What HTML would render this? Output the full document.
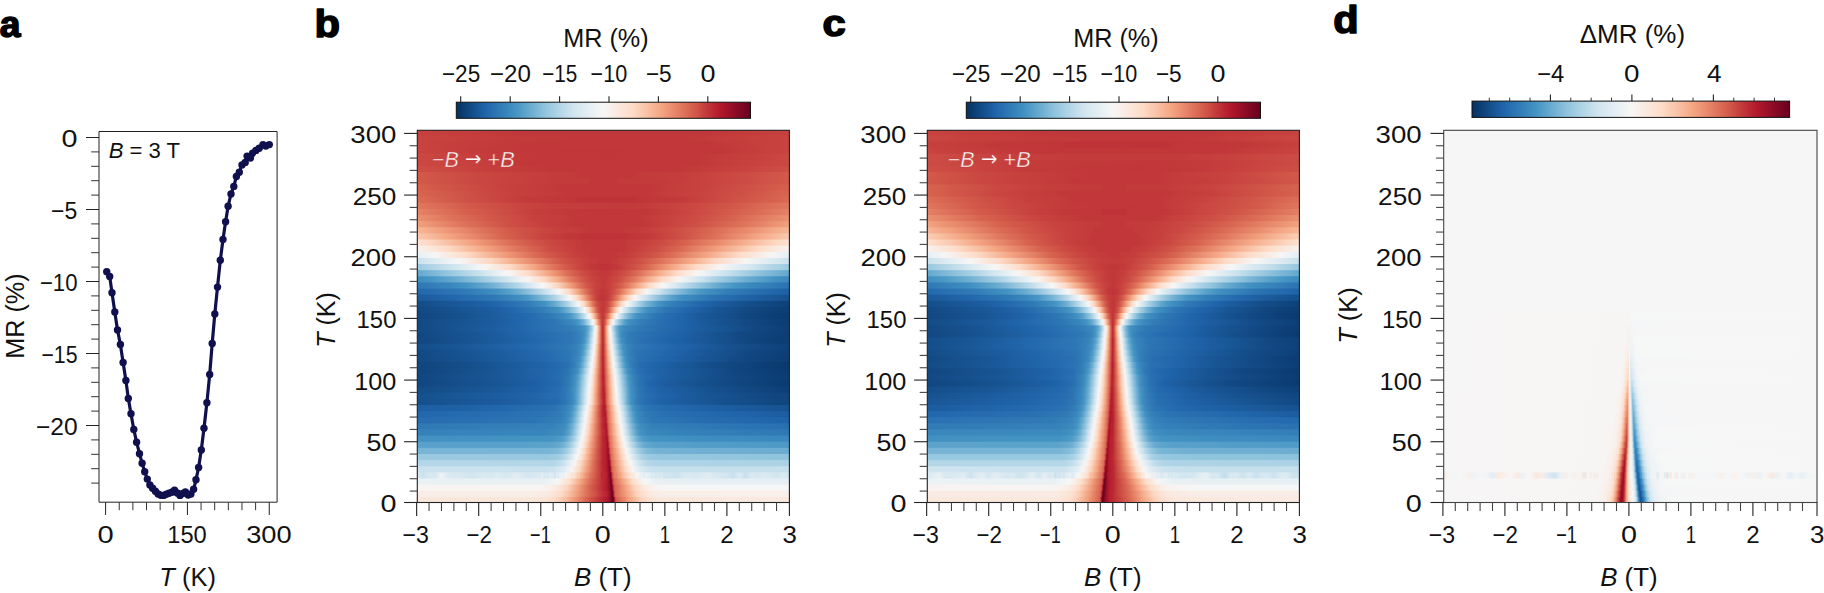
<!DOCTYPE html>
<html lang="en"><head><meta charset="utf-8"><title>Figure</title>
<style>html,body{margin:0;padding:0;background:#fff}svg text{white-space:pre}</style></head>
<body>
<svg width="1824" height="593" viewBox="0 0 1824 593" font-family='"Liberation Sans", sans-serif' style="display:block">
<rect width="1824" height="593" fill="#fff"/>
<defs><linearGradient id="cb"><stop offset="0" stop-color="#053061"/><stop offset="0.02" stop-color="#0a3b70"/><stop offset="0.04" stop-color="#10457e"/><stop offset="0.06" stop-color="#15508d"/><stop offset="0.08" stop-color="#1b5a9c"/><stop offset="0.1" stop-color="#2065ab"/><stop offset="0.12" stop-color="#276eb0"/><stop offset="0.14" stop-color="#2e77b5"/><stop offset="0.16" stop-color="#3480b9"/><stop offset="0.18" stop-color="#3c8abe"/><stop offset="0.2" stop-color="#4393c3"/><stop offset="0.22" stop-color="#529dc8"/><stop offset="0.24" stop-color="#62a7ce"/><stop offset="0.26" stop-color="#71b0d3"/><stop offset="0.28" stop-color="#81bad8"/><stop offset="0.3" stop-color="#90c4dd"/><stop offset="0.32" stop-color="#9dcbe1"/><stop offset="0.34" stop-color="#acd2e5"/><stop offset="0.36" stop-color="#b8d8e9"/><stop offset="0.38" stop-color="#c5dfec"/><stop offset="0.4" stop-color="#d1e5f0"/><stop offset="0.42" stop-color="#d8e9f1"/><stop offset="0.44" stop-color="#e0ecf3"/><stop offset="0.46" stop-color="#e7f0f4"/><stop offset="0.48" stop-color="#eff3f5"/><stop offset="0.5" stop-color="#f7f6f6"/><stop offset="0.52" stop-color="#f8f1ed"/><stop offset="0.54" stop-color="#f9ebe3"/><stop offset="0.56" stop-color="#fbe6da"/><stop offset="0.58" stop-color="#fce0d0"/><stop offset="0.6" stop-color="#fddbc7"/><stop offset="0.62" stop-color="#fbd0b9"/><stop offset="0.64" stop-color="#f9c6ac"/><stop offset="0.66" stop-color="#f8bb9e"/><stop offset="0.68" stop-color="#f6af8e"/><stop offset="0.7" stop-color="#f3a481"/><stop offset="0.72" stop-color="#ee9677"/><stop offset="0.74" stop-color="#e8896c"/><stop offset="0.76" stop-color="#e27b62"/><stop offset="0.78" stop-color="#dc6e57"/><stop offset="0.8" stop-color="#d6604d"/><stop offset="0.82" stop-color="#cf5246"/><stop offset="0.84" stop-color="#c6413e"/><stop offset="0.86" stop-color="#bf3338"/><stop offset="0.88" stop-color="#b82531"/><stop offset="0.9" stop-color="#b1182b"/><stop offset="0.92" stop-color="#a21328"/><stop offset="0.94" stop-color="#930e26"/><stop offset="0.96" stop-color="#840924"/><stop offset="0.98" stop-color="#760521"/><stop offset="1" stop-color="#67001f"/></linearGradient><linearGradient id="b0" gradientUnits="userSpaceOnUse" x1="416.65" x2="788.95"><stop offset="0.0000" stop-color="#fae7dc"/><stop offset="0.3167" stop-color="#fae7dc"/><stop offset="0.3500" stop-color="#fbe3d4"/><stop offset="0.3708" stop-color="#fddcc9"/><stop offset="0.3958" stop-color="#f9c4a9"/><stop offset="0.4208" stop-color="#f19e7d"/><stop offset="0.4483" stop-color="#dd7059"/><stop offset="0.4633" stop-color="#d25849"/><stop offset="0.4933" stop-color="#be3036"/><stop offset="0.5042" stop-color="#b72230"/><stop offset="0.5133" stop-color="#ae172a"/><stop offset="0.5183" stop-color="#991027"/><stop offset="0.5233" stop-color="#790622"/><stop offset="0.5250" stop-color="#6a011f"/><stop offset="0.5283" stop-color="#67001f"/><stop offset="0.5292" stop-color="#730421"/><stop offset="0.5317" stop-color="#b61f2e"/><stop offset="0.5333" stop-color="#c84440"/><stop offset="0.5350" stop-color="#d05548"/><stop offset="0.5375" stop-color="#d7634f"/><stop offset="0.5400" stop-color="#d86551"/><stop offset="0.5450" stop-color="#dd7059"/><stop offset="0.5600" stop-color="#e98b6e"/><stop offset="0.5708" stop-color="#f3a481"/><stop offset="0.6042" stop-color="#fcd5bf"/><stop offset="0.6208" stop-color="#fce0d0"/><stop offset="0.6500" stop-color="#fae7dc"/><stop offset="0.8500" stop-color="#fae9df"/><stop offset="1.0000" stop-color="#fae9df"/></linearGradient><linearGradient id="b1" gradientUnits="userSpaceOnUse" x1="416.65" x2="788.95"><stop offset="0.0000" stop-color="#f9eee7"/><stop offset="0.3167" stop-color="#f9eee7"/><stop offset="0.3583" stop-color="#fae8de"/><stop offset="0.3875" stop-color="#fddcc9"/><stop offset="0.4083" stop-color="#f9c2a7"/><stop offset="0.4292" stop-color="#f2a17f"/><stop offset="0.4533" stop-color="#df765e"/><stop offset="0.4650" stop-color="#d86551"/><stop offset="0.4850" stop-color="#cb4942"/><stop offset="0.5017" stop-color="#bd2d35"/><stop offset="0.5100" stop-color="#b82531"/><stop offset="0.5133" stop-color="#b41c2d"/><stop offset="0.5183" stop-color="#9f1228"/><stop offset="0.5233" stop-color="#790622"/><stop offset="0.5250" stop-color="#67001f"/><stop offset="0.5267" stop-color="#730421"/><stop offset="0.5292" stop-color="#b41c2d"/><stop offset="0.5317" stop-color="#cf5246"/><stop offset="0.5333" stop-color="#d7634f"/><stop offset="0.5350" stop-color="#db6b55"/><stop offset="0.5533" stop-color="#ea8e70"/><stop offset="0.5667" stop-color="#f5a886"/><stop offset="0.5875" stop-color="#fbccb4"/><stop offset="0.6000" stop-color="#fddcc9"/><stop offset="0.6250" stop-color="#fae9df"/><stop offset="0.6583" stop-color="#f9efe9"/><stop offset="1.0000" stop-color="#f9f0eb"/></linearGradient><linearGradient id="b2" gradientUnits="userSpaceOnUse" x1="416.65" x2="788.95"><stop offset="0.0000" stop-color="#f8f4f2"/><stop offset="0.3375" stop-color="#f8f4f2"/><stop offset="0.3667" stop-color="#f9eee7"/><stop offset="0.3917" stop-color="#fce0d0"/><stop offset="0.4042" stop-color="#fcd5bf"/><stop offset="0.4350" stop-color="#f19e7d"/><stop offset="0.4567" stop-color="#de735c"/><stop offset="0.4700" stop-color="#d35a4a"/><stop offset="0.4950" stop-color="#bf3338"/><stop offset="0.5017" stop-color="#b82531"/><stop offset="0.5067" stop-color="#b72230"/><stop offset="0.5125" stop-color="#ae172a"/><stop offset="0.5167" stop-color="#9c1127"/><stop offset="0.5208" stop-color="#7f0823"/><stop offset="0.5233" stop-color="#67001f"/><stop offset="0.5250" stop-color="#760521"/><stop offset="0.5267" stop-color="#9f1228"/><stop offset="0.5283" stop-color="#be3036"/><stop offset="0.5300" stop-color="#ce4f45"/><stop offset="0.5317" stop-color="#d55d4c"/><stop offset="0.5350" stop-color="#db6b55"/><stop offset="0.5500" stop-color="#e8896c"/><stop offset="0.5633" stop-color="#f5a886"/><stop offset="0.5875" stop-color="#fcd7c2"/><stop offset="0.6083" stop-color="#fae8de"/><stop offset="0.6333" stop-color="#f8f2ef"/><stop offset="0.6667" stop-color="#f7f6f6"/><stop offset="1.0000" stop-color="#f7f6f6"/></linearGradient><linearGradient id="b3" gradientUnits="userSpaceOnUse" x1="416.65" x2="788.95"><stop offset="0.0000" stop-color="#eaf1f5"/><stop offset="0.3417" stop-color="#e9f0f4"/><stop offset="0.3708" stop-color="#f3f5f6"/><stop offset="0.3792" stop-color="#f7f6f6"/><stop offset="0.4125" stop-color="#fddcc9"/><stop offset="0.4400" stop-color="#f4a683"/><stop offset="0.4583" stop-color="#e27b62"/><stop offset="0.4750" stop-color="#d35a4a"/><stop offset="0.4875" stop-color="#c84440"/><stop offset="0.4983" stop-color="#bd2d35"/><stop offset="0.5017" stop-color="#ba2832"/><stop offset="0.5100" stop-color="#b41c2d"/><stop offset="0.5133" stop-color="#ab162a"/><stop offset="0.5183" stop-color="#8d0c25"/><stop offset="0.5217" stop-color="#700320"/><stop offset="0.5233" stop-color="#810823"/><stop offset="0.5250" stop-color="#ab162a"/><stop offset="0.5267" stop-color="#c2383a"/><stop offset="0.5283" stop-color="#d05548"/><stop offset="0.5300" stop-color="#d86551"/><stop offset="0.5350" stop-color="#df765e"/><stop offset="0.5417" stop-color="#e58368"/><stop offset="0.5550" stop-color="#f4a683"/><stop offset="0.5792" stop-color="#fddbc7"/><stop offset="0.5958" stop-color="#f9ebe3"/><stop offset="0.6125" stop-color="#f6f7f7"/><stop offset="0.6417" stop-color="#e9f0f4"/><stop offset="0.7667" stop-color="#e6eff4"/><stop offset="1.0000" stop-color="#e6eff4"/></linearGradient><linearGradient id="b4" gradientUnits="userSpaceOnUse" x1="416.65" x2="788.95"><stop offset="0.0000" stop-color="#d8e9f1"/><stop offset="0.0167" stop-color="#cae1ee"/><stop offset="0.0333" stop-color="#d8e9f1"/><stop offset="0.0500" stop-color="#d4e6f1"/><stop offset="0.0667" stop-color="#eff3f5"/><stop offset="0.0833" stop-color="#dbeaf2"/><stop offset="0.1500" stop-color="#d2e6f0"/><stop offset="0.1833" stop-color="#dbeaf2"/><stop offset="0.2000" stop-color="#d7e8f1"/><stop offset="0.2167" stop-color="#deebf2"/><stop offset="0.2333" stop-color="#d7e8f1"/><stop offset="0.2500" stop-color="#d8e9f1"/><stop offset="0.2667" stop-color="#e1edf3"/><stop offset="0.3000" stop-color="#d4e6f1"/><stop offset="0.3333" stop-color="#dbeaf2"/><stop offset="0.3375" stop-color="#e4eef4"/><stop offset="0.3417" stop-color="#d7e8f1"/><stop offset="0.3458" stop-color="#d7e8f1"/><stop offset="0.3500" stop-color="#e0ecf3"/><stop offset="0.3500" stop-color="#d2e6f0"/><stop offset="0.3583" stop-color="#e0ecf3"/><stop offset="0.3667" stop-color="#ddebf2"/><stop offset="0.3667" stop-color="#e1edf3"/><stop offset="0.3708" stop-color="#cae1ee"/><stop offset="0.3750" stop-color="#e6eff4"/><stop offset="0.3792" stop-color="#dbeaf2"/><stop offset="0.3833" stop-color="#dae9f2"/><stop offset="0.3833" stop-color="#e6eff4"/><stop offset="0.3875" stop-color="#ecf2f5"/><stop offset="0.3958" stop-color="#e9f0f4"/><stop offset="0.4000" stop-color="#f3f5f6"/><stop offset="0.4042" stop-color="#f9efe9"/><stop offset="0.4125" stop-color="#f9ebe3"/><stop offset="0.4167" stop-color="#fbe3d4"/><stop offset="0.4208" stop-color="#fbe4d6"/><stop offset="0.4250" stop-color="#fcdfcf"/><stop offset="0.4333" stop-color="#facab1"/><stop offset="0.4333" stop-color="#fbccb4"/><stop offset="0.4367" stop-color="#f9c4a9"/><stop offset="0.4375" stop-color="#fac8af"/><stop offset="0.4383" stop-color="#f8bda1"/><stop offset="0.4417" stop-color="#f8bb9e"/><stop offset="0.4417" stop-color="#f7b799"/><stop offset="0.4433" stop-color="#f7b799"/><stop offset="0.4450" stop-color="#f6af8e"/><stop offset="0.4458" stop-color="#f6b394"/><stop offset="0.4483" stop-color="#f4a683"/><stop offset="0.4500" stop-color="#f19e7d"/><stop offset="0.4500" stop-color="#f5aa89"/><stop offset="0.4500" stop-color="#f4a683"/><stop offset="0.4517" stop-color="#f19e7d"/><stop offset="0.4533" stop-color="#f09c7b"/><stop offset="0.4542" stop-color="#eb9172"/><stop offset="0.4550" stop-color="#ef9979"/><stop offset="0.4567" stop-color="#ea8e70"/><stop offset="0.4583" stop-color="#eb9172"/><stop offset="0.4600" stop-color="#e58368"/><stop offset="0.4633" stop-color="#e6866a"/><stop offset="0.4650" stop-color="#df765e"/><stop offset="0.4700" stop-color="#dd7059"/><stop offset="0.4717" stop-color="#dc6e57"/><stop offset="0.4733" stop-color="#d7634f"/><stop offset="0.4750" stop-color="#da6853"/><stop offset="0.4750" stop-color="#d86551"/><stop offset="0.4792" stop-color="#d25849"/><stop offset="0.4800" stop-color="#d55d4c"/><stop offset="0.4817" stop-color="#d35a4a"/><stop offset="0.4833" stop-color="#ce4f45"/><stop offset="0.4833" stop-color="#cc4c44"/><stop offset="0.4883" stop-color="#c94741"/><stop offset="0.4900" stop-color="#c53e3d"/><stop offset="0.4917" stop-color="#c6413e"/><stop offset="0.4917" stop-color="#c53e3d"/><stop offset="0.4958" stop-color="#bf3338"/><stop offset="0.4967" stop-color="#ba2832"/><stop offset="0.4983" stop-color="#ba2832"/><stop offset="0.5000" stop-color="#b72230"/><stop offset="0.5017" stop-color="#bd2d35"/><stop offset="0.5042" stop-color="#ba2832"/><stop offset="0.5050" stop-color="#b72230"/><stop offset="0.5067" stop-color="#bb2a34"/><stop offset="0.5083" stop-color="#b41c2d"/><stop offset="0.5100" stop-color="#b61f2e"/><stop offset="0.5125" stop-color="#b1182b"/><stop offset="0.5133" stop-color="#a81529"/><stop offset="0.5150" stop-color="#9f1228"/><stop offset="0.5167" stop-color="#8d0c25"/><stop offset="0.5167" stop-color="#960f27"/><stop offset="0.5200" stop-color="#790622"/><stop offset="0.5208" stop-color="#790622"/><stop offset="0.5233" stop-color="#ae172a"/><stop offset="0.5250" stop-color="#c84440"/><stop offset="0.5250" stop-color="#c6413e"/><stop offset="0.5267" stop-color="#d6604d"/><stop offset="0.5283" stop-color="#d86551"/><stop offset="0.5300" stop-color="#de735c"/><stop offset="0.5317" stop-color="#e27b62"/><stop offset="0.5333" stop-color="#e27b62"/><stop offset="0.5333" stop-color="#e48066"/><stop offset="0.5350" stop-color="#e6866a"/><stop offset="0.5375" stop-color="#e48066"/><stop offset="0.5383" stop-color="#e98b6e"/><stop offset="0.5433" stop-color="#f19e7d"/><stop offset="0.5458" stop-color="#f19e7d"/><stop offset="0.5467" stop-color="#f3a481"/><stop offset="0.5500" stop-color="#f5ac8b"/><stop offset="0.5517" stop-color="#f7b596"/><stop offset="0.5542" stop-color="#f7b799"/><stop offset="0.5583" stop-color="#f9c4a9"/><stop offset="0.5600" stop-color="#f9c4a9"/><stop offset="0.5625" stop-color="#fbceb7"/><stop offset="0.5667" stop-color="#fcd5bf"/><stop offset="0.5667" stop-color="#fdddcb"/><stop offset="0.5667" stop-color="#fcd7c2"/><stop offset="0.5708" stop-color="#fce0d0"/><stop offset="0.5875" stop-color="#f9efe9"/><stop offset="0.5917" stop-color="#f6f7f7"/><stop offset="0.5958" stop-color="#f8f4f2"/><stop offset="0.6000" stop-color="#eaf1f5"/><stop offset="0.6083" stop-color="#e9f0f4"/><stop offset="0.6125" stop-color="#deebf2"/><stop offset="0.6167" stop-color="#edf2f5"/><stop offset="0.6208" stop-color="#e3edf3"/><stop offset="0.6250" stop-color="#e9f0f4"/><stop offset="0.6292" stop-color="#dae9f2"/><stop offset="0.6333" stop-color="#d7e8f1"/><stop offset="0.6333" stop-color="#dae9f2"/><stop offset="0.6375" stop-color="#ddebf2"/><stop offset="0.6417" stop-color="#d4e6f1"/><stop offset="0.6458" stop-color="#dae9f2"/><stop offset="0.6500" stop-color="#d7e8f1"/><stop offset="0.6500" stop-color="#e1edf3"/><stop offset="0.6542" stop-color="#d2e6f0"/><stop offset="0.6583" stop-color="#ddebf2"/><stop offset="0.6625" stop-color="#d1e5f0"/><stop offset="0.6833" stop-color="#d1e5f0"/><stop offset="0.7000" stop-color="#cce2ef"/><stop offset="0.7167" stop-color="#d7e8f1"/><stop offset="0.7333" stop-color="#dbeaf2"/><stop offset="0.7500" stop-color="#d7e8f1"/><stop offset="0.7833" stop-color="#e0ecf3"/><stop offset="0.8000" stop-color="#d7e8f1"/><stop offset="0.8333" stop-color="#d4e6f1"/><stop offset="0.8500" stop-color="#c7e0ed"/><stop offset="0.8667" stop-color="#dae9f2"/><stop offset="0.8833" stop-color="#c7e0ed"/><stop offset="0.9000" stop-color="#dae9f2"/><stop offset="0.9167" stop-color="#d5e7f1"/><stop offset="0.9333" stop-color="#ddebf2"/><stop offset="0.9667" stop-color="#d1e5f0"/><stop offset="0.9833" stop-color="#d8e9f1"/><stop offset="1.0000" stop-color="#d2e6f0"/></linearGradient><linearGradient id="b5" gradientUnits="userSpaceOnUse" x1="416.65" x2="788.95"><stop offset="0.0000" stop-color="#cce2ef"/><stop offset="0.2333" stop-color="#cae1ee"/><stop offset="0.3333" stop-color="#c7e0ed"/><stop offset="0.3667" stop-color="#cce2ef"/><stop offset="0.3958" stop-color="#deebf2"/><stop offset="0.4167" stop-color="#f7f5f4"/><stop offset="0.4375" stop-color="#fcd7c2"/><stop offset="0.4450" stop-color="#f9c2a7"/><stop offset="0.4483" stop-color="#f7b799"/><stop offset="0.4583" stop-color="#f09c7b"/><stop offset="0.4700" stop-color="#e17860"/><stop offset="0.4800" stop-color="#d55d4c"/><stop offset="0.5017" stop-color="#b82531"/><stop offset="0.5067" stop-color="#b72230"/><stop offset="0.5117" stop-color="#ae172a"/><stop offset="0.5167" stop-color="#900d26"/><stop offset="0.5183" stop-color="#810823"/><stop offset="0.5200" stop-color="#930e26"/><stop offset="0.5217" stop-color="#b61f2e"/><stop offset="0.5233" stop-color="#c84440"/><stop offset="0.5250" stop-color="#d6604d"/><stop offset="0.5267" stop-color="#dc6e57"/><stop offset="0.5367" stop-color="#eb9172"/><stop offset="0.5458" stop-color="#f6af8e"/><stop offset="0.5617" stop-color="#fddcc9"/><stop offset="0.5792" stop-color="#f7f5f4"/><stop offset="0.6000" stop-color="#dbeaf2"/><stop offset="0.6250" stop-color="#cae1ee"/><stop offset="0.6667" stop-color="#c5dfec"/><stop offset="1.0000" stop-color="#c5dfec"/></linearGradient><linearGradient id="b6" gradientUnits="userSpaceOnUse" x1="416.65" x2="788.95"><stop offset="0.0000" stop-color="#b3d6e8"/><stop offset="0.3667" stop-color="#b3d6e8"/><stop offset="0.3875" stop-color="#c2ddec"/><stop offset="0.4167" stop-color="#ecf2f5"/><stop offset="0.4250" stop-color="#f8f4f2"/><stop offset="0.4417" stop-color="#fcd7c2"/><stop offset="0.4450" stop-color="#fbceb7"/><stop offset="0.4500" stop-color="#f8bda1"/><stop offset="0.4583" stop-color="#f4a683"/><stop offset="0.4733" stop-color="#de735c"/><stop offset="0.4850" stop-color="#cf5246"/><stop offset="0.4967" stop-color="#be3036"/><stop offset="0.5000" stop-color="#b82531"/><stop offset="0.5050" stop-color="#b72230"/><stop offset="0.5100" stop-color="#b1182b"/><stop offset="0.5133" stop-color="#a21328"/><stop offset="0.5167" stop-color="#8a0b25"/><stop offset="0.5183" stop-color="#960f27"/><stop offset="0.5200" stop-color="#b61f2e"/><stop offset="0.5217" stop-color="#c84440"/><stop offset="0.5233" stop-color="#d55d4c"/><stop offset="0.5250" stop-color="#dc6e57"/><stop offset="0.5333" stop-color="#ea8e70"/><stop offset="0.5400" stop-color="#f3a481"/><stop offset="0.5583" stop-color="#fdddcb"/><stop offset="0.5708" stop-color="#f8f2ef"/><stop offset="0.5750" stop-color="#f6f7f7"/><stop offset="0.5917" stop-color="#d8e9f1"/><stop offset="0.6167" stop-color="#b8d8e9"/><stop offset="0.6500" stop-color="#aed3e6"/><stop offset="1.0000" stop-color="#acd2e5"/></linearGradient><linearGradient id="b7" gradientUnits="userSpaceOnUse" x1="416.65" x2="788.95"><stop offset="0.0000" stop-color="#9bc9e0"/><stop offset="0.3542" stop-color="#98c8e0"/><stop offset="0.3792" stop-color="#a0cce2"/><stop offset="0.3958" stop-color="#b1d5e7"/><stop offset="0.4292" stop-color="#f5f6f7"/><stop offset="0.4350" stop-color="#f9efe9"/><stop offset="0.4467" stop-color="#fdd9c4"/><stop offset="0.4617" stop-color="#f4a683"/><stop offset="0.4800" stop-color="#d86551"/><stop offset="0.4850" stop-color="#d25849"/><stop offset="0.4983" stop-color="#bd2d35"/><stop offset="0.5000" stop-color="#b82531"/><stop offset="0.5042" stop-color="#b82531"/><stop offset="0.5100" stop-color="#b1182b"/><stop offset="0.5133" stop-color="#9f1228"/><stop offset="0.5150" stop-color="#930e26"/><stop offset="0.5167" stop-color="#9c1127"/><stop offset="0.5183" stop-color="#b72230"/><stop offset="0.5208" stop-color="#cf5246"/><stop offset="0.5217" stop-color="#d6604d"/><stop offset="0.5250" stop-color="#e17860"/><stop offset="0.5383" stop-color="#f5a886"/><stop offset="0.5500" stop-color="#fbd0b9"/><stop offset="0.5550" stop-color="#fcdecd"/><stop offset="0.5667" stop-color="#f8f4f2"/><stop offset="0.5708" stop-color="#f2f5f6"/><stop offset="0.6000" stop-color="#b3d6e8"/><stop offset="0.6083" stop-color="#a7d0e4"/><stop offset="0.6250" stop-color="#9bc9e0"/><stop offset="0.6583" stop-color="#96c7df"/><stop offset="0.8667" stop-color="#93c6de"/><stop offset="0.9667" stop-color="#90c4dd"/><stop offset="1.0000" stop-color="#90c4dd"/></linearGradient><linearGradient id="b8" gradientUnits="userSpaceOnUse" x1="416.65" x2="788.95"><stop offset="0.0000" stop-color="#78b4d5"/><stop offset="0.3542" stop-color="#78b4d5"/><stop offset="0.3792" stop-color="#81bad8"/><stop offset="0.3917" stop-color="#8dc2dc"/><stop offset="0.4042" stop-color="#a5cee3"/><stop offset="0.4167" stop-color="#c5dfec"/><stop offset="0.4350" stop-color="#f5f6f7"/><stop offset="0.4433" stop-color="#fae8de"/><stop offset="0.4517" stop-color="#fcd5bf"/><stop offset="0.4583" stop-color="#f8bb9e"/><stop offset="0.4617" stop-color="#f6b191"/><stop offset="0.4650" stop-color="#f3a481"/><stop offset="0.4833" stop-color="#d6604d"/><stop offset="0.5000" stop-color="#b82531"/><stop offset="0.5042" stop-color="#b82531"/><stop offset="0.5083" stop-color="#b41c2d"/><stop offset="0.5133" stop-color="#9c1127"/><stop offset="0.5150" stop-color="#9f1228"/><stop offset="0.5167" stop-color="#b72230"/><stop offset="0.5183" stop-color="#c84440"/><stop offset="0.5200" stop-color="#d55d4c"/><stop offset="0.5217" stop-color="#dc6e57"/><stop offset="0.5250" stop-color="#e37e64"/><stop offset="0.5367" stop-color="#f5aa89"/><stop offset="0.5500" stop-color="#fddbc7"/><stop offset="0.5633" stop-color="#f7f5f4"/><stop offset="0.5667" stop-color="#f0f4f6"/><stop offset="0.5833" stop-color="#c5dfec"/><stop offset="0.5958" stop-color="#a2cde3"/><stop offset="0.6167" stop-color="#81bad8"/><stop offset="0.6417" stop-color="#75b2d4"/><stop offset="0.7500" stop-color="#71b0d3"/><stop offset="1.0000" stop-color="#6bacd1"/></linearGradient><linearGradient id="b9" gradientUnits="userSpaceOnUse" x1="416.65" x2="788.95"><stop offset="0.0000" stop-color="#59a1ca"/><stop offset="0.3000" stop-color="#59a1ca"/><stop offset="0.3625" stop-color="#5ca3cb"/><stop offset="0.3833" stop-color="#65a9cf"/><stop offset="0.3958" stop-color="#75b2d4"/><stop offset="0.4125" stop-color="#9dcbe1"/><stop offset="0.4208" stop-color="#b8d8e9"/><stop offset="0.4292" stop-color="#d7e8f1"/><stop offset="0.4400" stop-color="#f5f6f7"/><stop offset="0.4450" stop-color="#f9eee7"/><stop offset="0.4542" stop-color="#fdd9c4"/><stop offset="0.4683" stop-color="#f2a17f"/><stop offset="0.4800" stop-color="#de735c"/><stop offset="0.4867" stop-color="#d35a4a"/><stop offset="0.4933" stop-color="#c84440"/><stop offset="0.5000" stop-color="#ba2832"/><stop offset="0.5067" stop-color="#b72230"/><stop offset="0.5100" stop-color="#ae172a"/><stop offset="0.5125" stop-color="#9f1228"/><stop offset="0.5133" stop-color="#a51429"/><stop offset="0.5150" stop-color="#b72230"/><stop offset="0.5183" stop-color="#d55d4c"/><stop offset="0.5208" stop-color="#de735c"/><stop offset="0.5317" stop-color="#f3a481"/><stop offset="0.5367" stop-color="#f7b596"/><stop offset="0.5467" stop-color="#fddcc9"/><stop offset="0.5583" stop-color="#f7f5f4"/><stop offset="0.5617" stop-color="#f0f4f6"/><stop offset="0.5792" stop-color="#b8d8e9"/><stop offset="0.5958" stop-color="#84bcd9"/><stop offset="0.6083" stop-color="#6bacd1"/><stop offset="0.6208" stop-color="#5fa5cd"/><stop offset="0.6417" stop-color="#59a1ca"/><stop offset="0.7167" stop-color="#569fc9"/><stop offset="0.7500" stop-color="#529dc8"/><stop offset="1.0000" stop-color="#4c99c6"/></linearGradient><linearGradient id="b10" gradientUnits="userSpaceOnUse" x1="416.65" x2="788.95"><stop offset="0.0000" stop-color="#4291c2"/><stop offset="0.3583" stop-color="#4393c3"/><stop offset="0.3833" stop-color="#4c99c6"/><stop offset="0.3917" stop-color="#529dc8"/><stop offset="0.4042" stop-color="#68abd0"/><stop offset="0.4167" stop-color="#90c4dd"/><stop offset="0.4250" stop-color="#aed3e6"/><stop offset="0.4350" stop-color="#d8e9f1"/><stop offset="0.4450" stop-color="#f7f6f6"/><stop offset="0.4583" stop-color="#fcd5bf"/><stop offset="0.4683" stop-color="#f5aa89"/><stop offset="0.4717" stop-color="#f09c7b"/><stop offset="0.4850" stop-color="#d7634f"/><stop offset="0.4967" stop-color="#c13639"/><stop offset="0.5000" stop-color="#b82531"/><stop offset="0.5042" stop-color="#b82531"/><stop offset="0.5083" stop-color="#b3192c"/><stop offset="0.5100" stop-color="#ab162a"/><stop offset="0.5117" stop-color="#a81529"/><stop offset="0.5125" stop-color="#ae172a"/><stop offset="0.5167" stop-color="#d25849"/><stop offset="0.5183" stop-color="#db6b55"/><stop offset="0.5233" stop-color="#e6866a"/><stop offset="0.5317" stop-color="#f5aa89"/><stop offset="0.5433" stop-color="#fddbc7"/><stop offset="0.5550" stop-color="#f7f6f6"/><stop offset="0.5667" stop-color="#d2e6f0"/><stop offset="0.5833" stop-color="#8dc2dc"/><stop offset="0.5958" stop-color="#65a9cf"/><stop offset="0.6083" stop-color="#4f9bc7"/><stop offset="0.6292" stop-color="#4393c3"/><stop offset="0.7500" stop-color="#3f8ec0"/><stop offset="1.0000" stop-color="#3b88be"/></linearGradient><linearGradient id="b11" gradientUnits="userSpaceOnUse" x1="416.65" x2="788.95"><stop offset="0.0000" stop-color="#3681ba"/><stop offset="0.3417" stop-color="#3885bc"/><stop offset="0.3875" stop-color="#3e8cbf"/><stop offset="0.4000" stop-color="#4695c4"/><stop offset="0.4125" stop-color="#65a9cf"/><stop offset="0.4292" stop-color="#acd2e5"/><stop offset="0.4367" stop-color="#d1e5f0"/><stop offset="0.4483" stop-color="#f7f6f6"/><stop offset="0.4617" stop-color="#fcd3bc"/><stop offset="0.4708" stop-color="#f5aa89"/><stop offset="0.4783" stop-color="#e8896c"/><stop offset="0.4850" stop-color="#db6b55"/><stop offset="0.4875" stop-color="#d7634f"/><stop offset="0.5000" stop-color="#bb2a34"/><stop offset="0.5050" stop-color="#b82531"/><stop offset="0.5083" stop-color="#b41c2d"/><stop offset="0.5100" stop-color="#ae172a"/><stop offset="0.5117" stop-color="#b72230"/><stop offset="0.5150" stop-color="#d25849"/><stop offset="0.5167" stop-color="#db6b55"/><stop offset="0.5183" stop-color="#e17860"/><stop offset="0.5283" stop-color="#f5a886"/><stop offset="0.5367" stop-color="#facab1"/><stop offset="0.5417" stop-color="#fcdecd"/><stop offset="0.5517" stop-color="#f6f7f7"/><stop offset="0.5650" stop-color="#c7e0ed"/><stop offset="0.5708" stop-color="#a9d1e5"/><stop offset="0.5833" stop-color="#75b2d4"/><stop offset="0.5917" stop-color="#569fc9"/><stop offset="0.6000" stop-color="#4393c3"/><stop offset="0.6208" stop-color="#3a87bd"/><stop offset="0.7333" stop-color="#3480b9"/><stop offset="1.0000" stop-color="#2f79b5"/></linearGradient><linearGradient id="b12" gradientUnits="userSpaceOnUse" x1="416.65" x2="788.95"><stop offset="0.0000" stop-color="#2f79b5"/><stop offset="0.3625" stop-color="#3681ba"/><stop offset="0.3958" stop-color="#3e8cbf"/><stop offset="0.4042" stop-color="#4695c4"/><stop offset="0.4167" stop-color="#68abd0"/><stop offset="0.4350" stop-color="#bbdaea"/><stop offset="0.4400" stop-color="#d4e6f1"/><stop offset="0.4500" stop-color="#f6f7f7"/><stop offset="0.4617" stop-color="#fdd9c4"/><stop offset="0.4733" stop-color="#f3a481"/><stop offset="0.4875" stop-color="#d6604d"/><stop offset="0.4950" stop-color="#c53e3d"/><stop offset="0.5000" stop-color="#b82531"/><stop offset="0.5050" stop-color="#b61f2e"/><stop offset="0.5083" stop-color="#ae172a"/><stop offset="0.5100" stop-color="#b3192c"/><stop offset="0.5133" stop-color="#cc4c44"/><stop offset="0.5150" stop-color="#d7634f"/><stop offset="0.5183" stop-color="#e27b62"/><stop offset="0.5267" stop-color="#f3a481"/><stop offset="0.5400" stop-color="#fcdecd"/><stop offset="0.5500" stop-color="#f6f7f7"/><stop offset="0.5617" stop-color="#cce2ef"/><stop offset="0.5792" stop-color="#78b4d5"/><stop offset="0.5917" stop-color="#4c99c6"/><stop offset="0.6000" stop-color="#3f8ec0"/><stop offset="0.6333" stop-color="#3480b9"/><stop offset="0.8000" stop-color="#2e77b5"/><stop offset="1.0000" stop-color="#2870b1"/></linearGradient><linearGradient id="b13" gradientUnits="userSpaceOnUse" x1="416.65" x2="788.95"><stop offset="0.0000" stop-color="#266caf"/><stop offset="0.3167" stop-color="#2c75b4"/><stop offset="0.3833" stop-color="#337eb8"/><stop offset="0.4000" stop-color="#3a87bd"/><stop offset="0.4125" stop-color="#4997c5"/><stop offset="0.4208" stop-color="#65a9cf"/><stop offset="0.4433" stop-color="#d4e6f1"/><stop offset="0.4533" stop-color="#f7f6f6"/><stop offset="0.4650" stop-color="#fcd5bf"/><stop offset="0.4750" stop-color="#f4a683"/><stop offset="0.4900" stop-color="#d35a4a"/><stop offset="0.5000" stop-color="#ba2832"/><stop offset="0.5050" stop-color="#b72230"/><stop offset="0.5067" stop-color="#b41c2d"/><stop offset="0.5083" stop-color="#b41c2d"/><stop offset="0.5100" stop-color="#bd2d35"/><stop offset="0.5133" stop-color="#d6604d"/><stop offset="0.5167" stop-color="#e27b62"/><stop offset="0.5267" stop-color="#f6af8e"/><stop offset="0.5350" stop-color="#fcd7c2"/><stop offset="0.5467" stop-color="#f6f7f7"/><stop offset="0.5583" stop-color="#cce2ef"/><stop offset="0.5625" stop-color="#b3d6e8"/><stop offset="0.5792" stop-color="#65a9cf"/><stop offset="0.5875" stop-color="#4695c4"/><stop offset="0.6000" stop-color="#3885bc"/><stop offset="0.6333" stop-color="#2e77b5"/><stop offset="0.7500" stop-color="#276eb0"/><stop offset="1.0000" stop-color="#1f63a8"/></linearGradient><linearGradient id="b14" gradientUnits="userSpaceOnUse" x1="416.65" x2="788.95"><stop offset="0.0000" stop-color="#2267ac"/><stop offset="0.3417" stop-color="#2b73b3"/><stop offset="0.3875" stop-color="#327cb7"/><stop offset="0.4083" stop-color="#3e8cbf"/><stop offset="0.4167" stop-color="#4c99c6"/><stop offset="0.4250" stop-color="#6bacd1"/><stop offset="0.4350" stop-color="#9dcbe1"/><stop offset="0.4458" stop-color="#d5e7f1"/><stop offset="0.4550" stop-color="#f6f7f7"/><stop offset="0.4667" stop-color="#fcd5bf"/><stop offset="0.4767" stop-color="#f2a17f"/><stop offset="0.4883" stop-color="#d6604d"/><stop offset="0.5000" stop-color="#b72230"/><stop offset="0.5042" stop-color="#b41c2d"/><stop offset="0.5067" stop-color="#ae172a"/><stop offset="0.5083" stop-color="#b72230"/><stop offset="0.5125" stop-color="#d55d4c"/><stop offset="0.5167" stop-color="#e37e64"/><stop offset="0.5217" stop-color="#ef9979"/><stop offset="0.5250" stop-color="#f5aa89"/><stop offset="0.5350" stop-color="#fddcc9"/><stop offset="0.5450" stop-color="#f6f7f7"/><stop offset="0.5550" stop-color="#d1e5f0"/><stop offset="0.5650" stop-color="#9dcbe1"/><stop offset="0.5750" stop-color="#6bacd1"/><stop offset="0.5833" stop-color="#4c99c6"/><stop offset="0.5917" stop-color="#3c8abe"/><stop offset="0.6167" stop-color="#2f79b5"/><stop offset="0.6667" stop-color="#2870b1"/><stop offset="0.8833" stop-color="#1f63a8"/><stop offset="1.0000" stop-color="#1c5c9f"/></linearGradient><linearGradient id="b15" gradientUnits="userSpaceOnUse" x1="416.65" x2="788.95"><stop offset="0.0000" stop-color="#1d5fa2"/><stop offset="0.1000" stop-color="#1e61a5"/><stop offset="0.2500" stop-color="#2369ad"/><stop offset="0.3667" stop-color="#2a71b2"/><stop offset="0.4000" stop-color="#3480b9"/><stop offset="0.4167" stop-color="#4291c2"/><stop offset="0.4208" stop-color="#4c99c6"/><stop offset="0.4292" stop-color="#6eaed2"/><stop offset="0.4400" stop-color="#a7d0e4"/><stop offset="0.4500" stop-color="#d8e9f1"/><stop offset="0.4567" stop-color="#f2f5f6"/><stop offset="0.4600" stop-color="#f8f1ed"/><stop offset="0.4683" stop-color="#fcd7c2"/><stop offset="0.4783" stop-color="#f2a17f"/><stop offset="0.4900" stop-color="#d55d4c"/><stop offset="0.4958" stop-color="#c2383a"/><stop offset="0.4967" stop-color="#c13639"/><stop offset="0.5000" stop-color="#b61f2e"/><stop offset="0.5050" stop-color="#b3192c"/><stop offset="0.5067" stop-color="#b61f2e"/><stop offset="0.5125" stop-color="#da6853"/><stop offset="0.5217" stop-color="#f3a481"/><stop offset="0.5250" stop-color="#f6b394"/><stop offset="0.5333" stop-color="#fcdecd"/><stop offset="0.5417" stop-color="#f7f5f4"/><stop offset="0.5483" stop-color="#deebf2"/><stop offset="0.5542" stop-color="#c5dfec"/><stop offset="0.5633" stop-color="#96c7df"/><stop offset="0.5667" stop-color="#81bad8"/><stop offset="0.5792" stop-color="#4c99c6"/><stop offset="0.5833" stop-color="#408fc1"/><stop offset="0.6042" stop-color="#307ab6"/><stop offset="0.6333" stop-color="#2870b1"/><stop offset="0.7500" stop-color="#1f63a8"/><stop offset="1.0000" stop-color="#175290"/></linearGradient><linearGradient id="b16" gradientUnits="userSpaceOnUse" x1="416.65" x2="788.95"><stop offset="0.0000" stop-color="#15508d"/><stop offset="0.2167" stop-color="#1b5a9c"/><stop offset="0.3750" stop-color="#246aae"/><stop offset="0.4042" stop-color="#2f79b5"/><stop offset="0.4208" stop-color="#3e8cbf"/><stop offset="0.4250" stop-color="#4695c4"/><stop offset="0.4350" stop-color="#71b0d3"/><stop offset="0.4517" stop-color="#cfe4ef"/><stop offset="0.4617" stop-color="#f7f6f6"/><stop offset="0.4717" stop-color="#fcd7c2"/><stop offset="0.4800" stop-color="#f5a886"/><stop offset="0.4917" stop-color="#d55d4c"/><stop offset="0.5000" stop-color="#ba2832"/><stop offset="0.5050" stop-color="#b72230"/><stop offset="0.5083" stop-color="#cb4942"/><stop offset="0.5100" stop-color="#d6604d"/><stop offset="0.5133" stop-color="#e37e64"/><stop offset="0.5208" stop-color="#f5ac8b"/><stop offset="0.5300" stop-color="#fcdecd"/><stop offset="0.5383" stop-color="#f7f6f6"/><stop offset="0.5483" stop-color="#cfe4ef"/><stop offset="0.5600" stop-color="#8dc2dc"/><stop offset="0.5650" stop-color="#6eaed2"/><stop offset="0.5750" stop-color="#4393c3"/><stop offset="0.5917" stop-color="#307ab6"/><stop offset="0.6167" stop-color="#266caf"/><stop offset="0.6667" stop-color="#1e61a5"/><stop offset="0.8333" stop-color="#15508d"/><stop offset="1.0000" stop-color="#10457e"/></linearGradient><linearGradient id="b17" gradientUnits="userSpaceOnUse" x1="416.65" x2="788.95"><stop offset="0.0000" stop-color="#15508d"/><stop offset="0.2833" stop-color="#1e61a5"/><stop offset="0.3792" stop-color="#276eb0"/><stop offset="0.4000" stop-color="#2e77b5"/><stop offset="0.4167" stop-color="#3a87bd"/><stop offset="0.4250" stop-color="#4695c4"/><stop offset="0.4350" stop-color="#6eaed2"/><stop offset="0.4433" stop-color="#9dcbe1"/><stop offset="0.4550" stop-color="#dae9f2"/><stop offset="0.4625" stop-color="#f7f6f6"/><stop offset="0.4717" stop-color="#fddbc7"/><stop offset="0.4817" stop-color="#f19e7d"/><stop offset="0.4917" stop-color="#d35a4a"/><stop offset="0.4983" stop-color="#bd2d35"/><stop offset="0.5017" stop-color="#b72230"/><stop offset="0.5042" stop-color="#b61f2e"/><stop offset="0.5067" stop-color="#c2383a"/><stop offset="0.5100" stop-color="#d7634f"/><stop offset="0.5133" stop-color="#e37e64"/><stop offset="0.5183" stop-color="#f2a17f"/><stop offset="0.5233" stop-color="#f8bda1"/><stop offset="0.5283" stop-color="#fddbc7"/><stop offset="0.5375" stop-color="#f6f7f7"/><stop offset="0.5483" stop-color="#cae1ee"/><stop offset="0.5542" stop-color="#a7d0e4"/><stop offset="0.5617" stop-color="#81bad8"/><stop offset="0.5708" stop-color="#529dc8"/><stop offset="0.5750" stop-color="#4393c3"/><stop offset="0.5958" stop-color="#2f79b5"/><stop offset="0.6208" stop-color="#266caf"/><stop offset="0.6667" stop-color="#1f63a8"/><stop offset="0.7667" stop-color="#195696"/><stop offset="0.9500" stop-color="#114781"/><stop offset="1.0000" stop-color="#10457e"/></linearGradient><linearGradient id="b18" gradientUnits="userSpaceOnUse" x1="416.65" x2="788.95"><stop offset="0.0000" stop-color="#134c87"/><stop offset="0.1833" stop-color="#195696"/><stop offset="0.2833" stop-color="#1d5fa2"/><stop offset="0.3333" stop-color="#1f63a8"/><stop offset="0.3833" stop-color="#276eb0"/><stop offset="0.4083" stop-color="#327cb7"/><stop offset="0.4250" stop-color="#4393c3"/><stop offset="0.4350" stop-color="#6bacd1"/><stop offset="0.4483" stop-color="#b1d5e7"/><stop offset="0.4550" stop-color="#d4e6f1"/><stop offset="0.4633" stop-color="#f5f6f7"/><stop offset="0.4717" stop-color="#fcdecd"/><stop offset="0.4767" stop-color="#f9c4a9"/><stop offset="0.4817" stop-color="#f4a683"/><stop offset="0.4917" stop-color="#d55d4c"/><stop offset="0.5000" stop-color="#b82531"/><stop offset="0.5033" stop-color="#b61f2e"/><stop offset="0.5050" stop-color="#bd2d35"/><stop offset="0.5083" stop-color="#d25849"/><stop offset="0.5133" stop-color="#e58368"/><stop offset="0.5200" stop-color="#f6af8e"/><stop offset="0.5267" stop-color="#fcd7c2"/><stop offset="0.5333" stop-color="#f9efe9"/><stop offset="0.5367" stop-color="#f5f6f7"/><stop offset="0.5467" stop-color="#cce2ef"/><stop offset="0.5550" stop-color="#9dcbe1"/><stop offset="0.5667" stop-color="#62a7ce"/><stop offset="0.5708" stop-color="#4f9bc7"/><stop offset="0.5750" stop-color="#4291c2"/><stop offset="0.5958" stop-color="#2e77b5"/><stop offset="0.6208" stop-color="#246aae"/><stop offset="0.6667" stop-color="#1e61a5"/><stop offset="0.8000" stop-color="#15508d"/><stop offset="1.0000" stop-color="#0d3f76"/></linearGradient><linearGradient id="b19" gradientUnits="userSpaceOnUse" x1="416.65" x2="788.95"><stop offset="0.0000" stop-color="#114781"/><stop offset="0.1833" stop-color="#175290"/><stop offset="0.3167" stop-color="#1d5fa2"/><stop offset="0.3833" stop-color="#246aae"/><stop offset="0.4083" stop-color="#307ab6"/><stop offset="0.4250" stop-color="#408fc1"/><stop offset="0.4333" stop-color="#5ca3cb"/><stop offset="0.4375" stop-color="#6eaed2"/><stop offset="0.4383" stop-color="#75b2d4"/><stop offset="0.4458" stop-color="#9bc9e0"/><stop offset="0.4583" stop-color="#dbeaf2"/><stop offset="0.4650" stop-color="#f6f7f7"/><stop offset="0.4733" stop-color="#fdddcb"/><stop offset="0.4833" stop-color="#f2a17f"/><stop offset="0.4917" stop-color="#d7634f"/><stop offset="0.5000" stop-color="#ba2832"/><stop offset="0.5017" stop-color="#b82531"/><stop offset="0.5033" stop-color="#ba2832"/><stop offset="0.5067" stop-color="#cc4c44"/><stop offset="0.5083" stop-color="#d6604d"/><stop offset="0.5133" stop-color="#e8896c"/><stop offset="0.5183" stop-color="#f5ac8b"/><stop offset="0.5267" stop-color="#fdddcb"/><stop offset="0.5350" stop-color="#f6f7f7"/><stop offset="0.5458" stop-color="#c7e0ed"/><stop offset="0.5533" stop-color="#9dcbe1"/><stop offset="0.5650" stop-color="#62a7ce"/><stop offset="0.5708" stop-color="#4997c5"/><stop offset="0.5792" stop-color="#3b88be"/><stop offset="0.5958" stop-color="#2c75b4"/><stop offset="0.6250" stop-color="#2065ab"/><stop offset="0.6667" stop-color="#1c5c9f"/><stop offset="0.8000" stop-color="#134c87"/><stop offset="1.0000" stop-color="#0a3b70"/></linearGradient><linearGradient id="b20" gradientUnits="userSpaceOnUse" x1="416.65" x2="788.95"><stop offset="0.0000" stop-color="#114781"/><stop offset="0.2333" stop-color="#1a5899"/><stop offset="0.3333" stop-color="#1f63a8"/><stop offset="0.3875" stop-color="#276eb0"/><stop offset="0.4083" stop-color="#2f79b5"/><stop offset="0.4250" stop-color="#3f8ec0"/><stop offset="0.4292" stop-color="#4695c4"/><stop offset="0.4367" stop-color="#62a7ce"/><stop offset="0.4450" stop-color="#8dc2dc"/><stop offset="0.4567" stop-color="#cfe4ef"/><stop offset="0.4667" stop-color="#f7f6f6"/><stop offset="0.4750" stop-color="#fdd9c4"/><stop offset="0.4833" stop-color="#f3a481"/><stop offset="0.4917" stop-color="#d6604d"/><stop offset="0.5000" stop-color="#b72230"/><stop offset="0.5017" stop-color="#b61f2e"/><stop offset="0.5042" stop-color="#bf3338"/><stop offset="0.5083" stop-color="#d6604d"/><stop offset="0.5100" stop-color="#dd7059"/><stop offset="0.5183" stop-color="#f6af8e"/><stop offset="0.5250" stop-color="#fdd9c4"/><stop offset="0.5333" stop-color="#f7f6f6"/><stop offset="0.5433" stop-color="#cfe4ef"/><stop offset="0.5542" stop-color="#90c4dd"/><stop offset="0.5650" stop-color="#59a1ca"/><stop offset="0.5708" stop-color="#4393c3"/><stop offset="0.5875" stop-color="#327cb7"/><stop offset="0.6042" stop-color="#2870b1"/><stop offset="0.6458" stop-color="#1f63a8"/><stop offset="0.8000" stop-color="#144e8a"/><stop offset="0.9333" stop-color="#0e4179"/><stop offset="1.0000" stop-color="#0c3d73"/></linearGradient><linearGradient id="b21" gradientUnits="userSpaceOnUse" x1="416.65" x2="788.95"><stop offset="0.0000" stop-color="#10457e"/><stop offset="0.2000" stop-color="#185493"/><stop offset="0.3792" stop-color="#246aae"/><stop offset="0.4042" stop-color="#2b73b3"/><stop offset="0.4250" stop-color="#3885bc"/><stop offset="0.4333" stop-color="#4393c3"/><stop offset="0.4450" stop-color="#78b4d5"/><stop offset="0.4517" stop-color="#a0cce2"/><stop offset="0.4567" stop-color="#bbdaea"/><stop offset="0.4600" stop-color="#d1e5f0"/><stop offset="0.4683" stop-color="#f6f7f7"/><stop offset="0.4733" stop-color="#fae7dc"/><stop offset="0.4767" stop-color="#fddbc7"/><stop offset="0.4850" stop-color="#f19e7d"/><stop offset="0.4933" stop-color="#d35a4a"/><stop offset="0.5000" stop-color="#b82531"/><stop offset="0.5017" stop-color="#b82531"/><stop offset="0.5050" stop-color="#c84440"/><stop offset="0.5083" stop-color="#da6853"/><stop offset="0.5150" stop-color="#f2a17f"/><stop offset="0.5200" stop-color="#f9c4a9"/><stop offset="0.5233" stop-color="#fddbc7"/><stop offset="0.5317" stop-color="#f5f6f7"/><stop offset="0.5400" stop-color="#d1e5f0"/><stop offset="0.5483" stop-color="#9dcbe1"/><stop offset="0.5500" stop-color="#96c7df"/><stop offset="0.5583" stop-color="#65a9cf"/><stop offset="0.5667" stop-color="#4393c3"/><stop offset="0.5750" stop-color="#3885bc"/><stop offset="0.5917" stop-color="#2b73b3"/><stop offset="0.6208" stop-color="#2267ac"/><stop offset="0.8667" stop-color="#10457e"/><stop offset="1.0000" stop-color="#0a3b70"/></linearGradient><linearGradient id="b22" gradientUnits="userSpaceOnUse" x1="416.65" x2="788.95"><stop offset="0.0000" stop-color="#10457e"/><stop offset="0.1333" stop-color="#144e8a"/><stop offset="0.3000" stop-color="#1d5fa2"/><stop offset="0.3750" stop-color="#2369ad"/><stop offset="0.4083" stop-color="#2a71b2"/><stop offset="0.4250" stop-color="#3480b9"/><stop offset="0.4383" stop-color="#4695c4"/><stop offset="0.4467" stop-color="#6eaed2"/><stop offset="0.4542" stop-color="#9bc9e0"/><stop offset="0.4567" stop-color="#a7d0e4"/><stop offset="0.4625" stop-color="#cfe4ef"/><stop offset="0.4708" stop-color="#f6f7f7"/><stop offset="0.4783" stop-color="#fddbc7"/><stop offset="0.4833" stop-color="#f7b596"/><stop offset="0.4867" stop-color="#f09c7b"/><stop offset="0.4933" stop-color="#d6604d"/><stop offset="0.4983" stop-color="#bf3338"/><stop offset="0.5000" stop-color="#ba2832"/><stop offset="0.5017" stop-color="#bb2a34"/><stop offset="0.5033" stop-color="#c2383a"/><stop offset="0.5067" stop-color="#d6604d"/><stop offset="0.5150" stop-color="#f5aa89"/><stop offset="0.5217" stop-color="#fddbc7"/><stop offset="0.5292" stop-color="#f6f7f7"/><stop offset="0.5375" stop-color="#cfe4ef"/><stop offset="0.5450" stop-color="#9dcbe1"/><stop offset="0.5550" stop-color="#62a7ce"/><stop offset="0.5625" stop-color="#4393c3"/><stop offset="0.5750" stop-color="#337eb8"/><stop offset="0.6000" stop-color="#266caf"/><stop offset="0.6458" stop-color="#1f63a8"/><stop offset="0.8000" stop-color="#134c87"/><stop offset="1.0000" stop-color="#09386d"/></linearGradient><linearGradient id="b23" gradientUnits="userSpaceOnUse" x1="416.65" x2="788.95"><stop offset="0.0000" stop-color="#124984"/><stop offset="0.1000" stop-color="#15508d"/><stop offset="0.2000" stop-color="#1a5899"/><stop offset="0.3542" stop-color="#246aae"/><stop offset="0.4083" stop-color="#2c75b4"/><stop offset="0.4333" stop-color="#3b88be"/><stop offset="0.4400" stop-color="#4393c3"/><stop offset="0.4483" stop-color="#68abd0"/><stop offset="0.4550" stop-color="#90c4dd"/><stop offset="0.4667" stop-color="#dae9f2"/><stop offset="0.4717" stop-color="#f2f5f6"/><stop offset="0.4733" stop-color="#f8f4f2"/><stop offset="0.4800" stop-color="#fcd7c2"/><stop offset="0.4850" stop-color="#f6af8e"/><stop offset="0.4917" stop-color="#dd7059"/><stop offset="0.4958" stop-color="#c94741"/><stop offset="0.5000" stop-color="#b72230"/><stop offset="0.5017" stop-color="#bb2a34"/><stop offset="0.5067" stop-color="#d6604d"/><stop offset="0.5133" stop-color="#f3a481"/><stop offset="0.5208" stop-color="#fddcc9"/><stop offset="0.5267" stop-color="#f8f4f2"/><stop offset="0.5292" stop-color="#edf2f5"/><stop offset="0.5350" stop-color="#d1e5f0"/><stop offset="0.5400" stop-color="#aed3e6"/><stop offset="0.5533" stop-color="#5fa5cd"/><stop offset="0.5600" stop-color="#4393c3"/><stop offset="0.5708" stop-color="#3681ba"/><stop offset="0.5958" stop-color="#2a71b2"/><stop offset="0.6375" stop-color="#2369ad"/><stop offset="0.6667" stop-color="#2065ab"/><stop offset="0.7667" stop-color="#195696"/><stop offset="0.9000" stop-color="#10457e"/><stop offset="1.0000" stop-color="#0c3d73"/></linearGradient><linearGradient id="b24" gradientUnits="userSpaceOnUse" x1="416.65" x2="788.95"><stop offset="0.0000" stop-color="#124984"/><stop offset="0.2000" stop-color="#1b5a9c"/><stop offset="0.3417" stop-color="#246aae"/><stop offset="0.4125" stop-color="#2e77b5"/><stop offset="0.4292" stop-color="#3480b9"/><stop offset="0.4433" stop-color="#4393c3"/><stop offset="0.4467" stop-color="#4f9bc7"/><stop offset="0.4550" stop-color="#7bb6d6"/><stop offset="0.4600" stop-color="#9dcbe1"/><stop offset="0.4633" stop-color="#b3d6e8"/><stop offset="0.4683" stop-color="#d5e7f1"/><stop offset="0.4733" stop-color="#f0f4f6"/><stop offset="0.4750" stop-color="#f7f5f4"/><stop offset="0.4800" stop-color="#fcdfcf"/><stop offset="0.4833" stop-color="#f9c6ac"/><stop offset="0.4875" stop-color="#f2a17f"/><stop offset="0.4933" stop-color="#d7634f"/><stop offset="0.5000" stop-color="#b72230"/><stop offset="0.5017" stop-color="#bd2d35"/><stop offset="0.5067" stop-color="#d86551"/><stop offset="0.5125" stop-color="#f3a481"/><stop offset="0.5183" stop-color="#fcd5bf"/><stop offset="0.5233" stop-color="#f9efe9"/><stop offset="0.5250" stop-color="#f7f5f4"/><stop offset="0.5292" stop-color="#e3edf3"/><stop offset="0.5350" stop-color="#bddbea"/><stop offset="0.5450" stop-color="#7bb6d6"/><stop offset="0.5533" stop-color="#4f9bc7"/><stop offset="0.5583" stop-color="#408fc1"/><stop offset="0.5708" stop-color="#3480b9"/><stop offset="0.5917" stop-color="#2b73b3"/><stop offset="0.6833" stop-color="#2065ab"/><stop offset="0.7833" stop-color="#195696"/><stop offset="0.9167" stop-color="#10457e"/><stop offset="1.0000" stop-color="#0d3f76"/></linearGradient><linearGradient id="b25" gradientUnits="userSpaceOnUse" x1="416.65" x2="788.95"><stop offset="0.0000" stop-color="#144e8a"/><stop offset="0.1167" stop-color="#195696"/><stop offset="0.3000" stop-color="#2369ad"/><stop offset="0.4083" stop-color="#2f79b5"/><stop offset="0.4333" stop-color="#3783bb"/><stop offset="0.4450" stop-color="#4393c3"/><stop offset="0.4500" stop-color="#529dc8"/><stop offset="0.4567" stop-color="#75b2d4"/><stop offset="0.4633" stop-color="#a2cde3"/><stop offset="0.4708" stop-color="#d8e9f1"/><stop offset="0.4767" stop-color="#f7f5f4"/><stop offset="0.4817" stop-color="#fcdecd"/><stop offset="0.4875" stop-color="#f5aa89"/><stop offset="0.4933" stop-color="#da6853"/><stop offset="0.5000" stop-color="#b72230"/><stop offset="0.5017" stop-color="#bd2d35"/><stop offset="0.5067" stop-color="#db6b55"/><stop offset="0.5125" stop-color="#f5ac8b"/><stop offset="0.5167" stop-color="#fcd3bc"/><stop offset="0.5208" stop-color="#faeae1"/><stop offset="0.5233" stop-color="#f7f5f4"/><stop offset="0.5300" stop-color="#d2e6f0"/><stop offset="0.5400" stop-color="#8ac0db"/><stop offset="0.5467" stop-color="#62a7ce"/><stop offset="0.5542" stop-color="#4393c3"/><stop offset="0.5667" stop-color="#3783bb"/><stop offset="0.5833" stop-color="#307ab6"/><stop offset="0.6417" stop-color="#276eb0"/><stop offset="0.7333" stop-color="#1e61a5"/><stop offset="0.8333" stop-color="#175290"/><stop offset="0.9333" stop-color="#114781"/><stop offset="1.0000" stop-color="#0e4179"/></linearGradient><linearGradient id="b26" gradientUnits="userSpaceOnUse" x1="416.65" x2="788.95"><stop offset="0.0000" stop-color="#114781"/><stop offset="0.1500" stop-color="#185493"/><stop offset="0.3167" stop-color="#2267ac"/><stop offset="0.4167" stop-color="#2e77b5"/><stop offset="0.4417" stop-color="#3885bc"/><stop offset="0.4500" stop-color="#4393c3"/><stop offset="0.4533" stop-color="#4f9bc7"/><stop offset="0.4583" stop-color="#6bacd1"/><stop offset="0.4683" stop-color="#b3d6e8"/><stop offset="0.4717" stop-color="#d1e5f0"/><stop offset="0.4783" stop-color="#f7f5f4"/><stop offset="0.4833" stop-color="#fddcc9"/><stop offset="0.4875" stop-color="#f7b596"/><stop offset="0.4900" stop-color="#ef9979"/><stop offset="0.4950" stop-color="#d55d4c"/><stop offset="0.5000" stop-color="#ba2832"/><stop offset="0.5017" stop-color="#bf3338"/><stop offset="0.5050" stop-color="#d55d4c"/><stop offset="0.5100" stop-color="#f09c7b"/><stop offset="0.5133" stop-color="#f8bda1"/><stop offset="0.5167" stop-color="#fdddcb"/><stop offset="0.5217" stop-color="#f7f5f4"/><stop offset="0.5283" stop-color="#cfe4ef"/><stop offset="0.5400" stop-color="#75b2d4"/><stop offset="0.5467" stop-color="#4f9bc7"/><stop offset="0.5517" stop-color="#408fc1"/><stop offset="0.5650" stop-color="#337eb8"/><stop offset="0.6000" stop-color="#2a71b2"/><stop offset="0.6833" stop-color="#1f63a8"/><stop offset="0.9167" stop-color="#0f437b"/><stop offset="1.0000" stop-color="#0c3d73"/></linearGradient><linearGradient id="b27" gradientUnits="userSpaceOnUse" x1="416.65" x2="788.95"><stop offset="0.0000" stop-color="#114781"/><stop offset="0.2000" stop-color="#1b5a9c"/><stop offset="0.3000" stop-color="#2267ac"/><stop offset="0.4125" stop-color="#2e77b5"/><stop offset="0.4400" stop-color="#3783bb"/><stop offset="0.4500" stop-color="#408fc1"/><stop offset="0.4567" stop-color="#569fc9"/><stop offset="0.4600" stop-color="#68abd0"/><stop offset="0.4717" stop-color="#c2ddec"/><stop offset="0.4733" stop-color="#d1e5f0"/><stop offset="0.4792" stop-color="#f7f6f6"/><stop offset="0.4833" stop-color="#fce0d0"/><stop offset="0.4850" stop-color="#fcd5bf"/><stop offset="0.4900" stop-color="#f19e7d"/><stop offset="0.4958" stop-color="#cf5246"/><stop offset="0.4983" stop-color="#c13639"/><stop offset="0.5000" stop-color="#ba2832"/><stop offset="0.5017" stop-color="#bf3338"/><stop offset="0.5050" stop-color="#d55d4c"/><stop offset="0.5100" stop-color="#f2a17f"/><stop offset="0.5150" stop-color="#fcd5bf"/><stop offset="0.5183" stop-color="#faeae1"/><stop offset="0.5208" stop-color="#f6f7f7"/><stop offset="0.5267" stop-color="#d1e5f0"/><stop offset="0.5333" stop-color="#98c8e0"/><stop offset="0.5383" stop-color="#71b0d3"/><stop offset="0.5458" stop-color="#4997c5"/><stop offset="0.5533" stop-color="#3b88be"/><stop offset="0.5708" stop-color="#307ab6"/><stop offset="0.6292" stop-color="#276eb0"/><stop offset="0.7000" stop-color="#1f63a8"/><stop offset="0.7833" stop-color="#195696"/><stop offset="0.8667" stop-color="#124984"/><stop offset="1.0000" stop-color="#0c3d73"/></linearGradient><linearGradient id="b28" gradientUnits="userSpaceOnUse" x1="416.65" x2="788.95"><stop offset="0.0000" stop-color="#124984"/><stop offset="0.2167" stop-color="#1d5fa2"/><stop offset="0.3167" stop-color="#266caf"/><stop offset="0.4125" stop-color="#327cb7"/><stop offset="0.4350" stop-color="#3885bc"/><stop offset="0.4500" stop-color="#4291c2"/><stop offset="0.4533" stop-color="#4997c5"/><stop offset="0.4567" stop-color="#529dc8"/><stop offset="0.4625" stop-color="#6eaed2"/><stop offset="0.4683" stop-color="#98c8e0"/><stop offset="0.4717" stop-color="#b1d5e7"/><stop offset="0.4750" stop-color="#d1e5f0"/><stop offset="0.4800" stop-color="#f2f5f6"/><stop offset="0.4817" stop-color="#f8f1ed"/><stop offset="0.4850" stop-color="#fdddcb"/><stop offset="0.4900" stop-color="#f4a683"/><stop offset="0.4950" stop-color="#d6604d"/><stop offset="0.4983" stop-color="#c2383a"/><stop offset="0.5000" stop-color="#bb2a34"/><stop offset="0.5017" stop-color="#c2383a"/><stop offset="0.5050" stop-color="#d6604d"/><stop offset="0.5100" stop-color="#f4a683"/><stop offset="0.5150" stop-color="#fcdecd"/><stop offset="0.5183" stop-color="#f8f1ed"/><stop offset="0.5200" stop-color="#f2f5f6"/><stop offset="0.5250" stop-color="#cfe4ef"/><stop offset="0.5300" stop-color="#a2cde3"/><stop offset="0.5383" stop-color="#68abd0"/><stop offset="0.5467" stop-color="#4695c4"/><stop offset="0.5583" stop-color="#3b88be"/><stop offset="0.5958" stop-color="#2f79b5"/><stop offset="0.7167" stop-color="#1f63a8"/><stop offset="0.9167" stop-color="#114781"/><stop offset="1.0000" stop-color="#0d3f76"/></linearGradient><linearGradient id="b29" gradientUnits="userSpaceOnUse" x1="416.65" x2="788.95"><stop offset="0.0000" stop-color="#124984"/><stop offset="0.1500" stop-color="#195696"/><stop offset="0.2333" stop-color="#1d5fa2"/><stop offset="0.2667" stop-color="#2065ab"/><stop offset="0.3667" stop-color="#2c75b4"/><stop offset="0.4167" stop-color="#3b88be"/><stop offset="0.4333" stop-color="#4695c4"/><stop offset="0.4458" stop-color="#68abd0"/><stop offset="0.4517" stop-color="#81bad8"/><stop offset="0.4600" stop-color="#acd2e5"/><stop offset="0.4683" stop-color="#dbeaf2"/><stop offset="0.4733" stop-color="#f6f7f7"/><stop offset="0.4800" stop-color="#fddbc7"/><stop offset="0.4867" stop-color="#f19e7d"/><stop offset="0.4933" stop-color="#d6604d"/><stop offset="0.4983" stop-color="#c43b3c"/><stop offset="0.5000" stop-color="#bf3338"/><stop offset="0.5033" stop-color="#c84440"/><stop offset="0.5083" stop-color="#dc6e57"/><stop offset="0.5133" stop-color="#f2a17f"/><stop offset="0.5167" stop-color="#f8bda1"/><stop offset="0.5200" stop-color="#fddbc7"/><stop offset="0.5267" stop-color="#f6f7f7"/><stop offset="0.5367" stop-color="#c0dceb"/><stop offset="0.5400" stop-color="#a9d1e5"/><stop offset="0.5517" stop-color="#71b0d3"/><stop offset="0.5617" stop-color="#4f9bc7"/><stop offset="0.5708" stop-color="#408fc1"/><stop offset="0.6042" stop-color="#327cb7"/><stop offset="0.6667" stop-color="#266caf"/><stop offset="0.7167" stop-color="#1f63a8"/><stop offset="0.8167" stop-color="#175290"/><stop offset="0.9500" stop-color="#0e4179"/><stop offset="1.0000" stop-color="#0c3d73"/></linearGradient><linearGradient id="b30" gradientUnits="userSpaceOnUse" x1="416.65" x2="788.95"><stop offset="0.0000" stop-color="#114781"/><stop offset="0.1167" stop-color="#15508d"/><stop offset="0.3000" stop-color="#246aae"/><stop offset="0.3542" stop-color="#2e77b5"/><stop offset="0.3917" stop-color="#3a87bd"/><stop offset="0.4083" stop-color="#4393c3"/><stop offset="0.4208" stop-color="#5ca3cb"/><stop offset="0.4292" stop-color="#71b0d3"/><stop offset="0.4417" stop-color="#9dcbe1"/><stop offset="0.4483" stop-color="#b8d8e9"/><stop offset="0.4550" stop-color="#d7e8f1"/><stop offset="0.4633" stop-color="#f6f7f7"/><stop offset="0.4717" stop-color="#fddbc7"/><stop offset="0.4800" stop-color="#f3a481"/><stop offset="0.4883" stop-color="#d86551"/><stop offset="0.4950" stop-color="#c84440"/><stop offset="0.4983" stop-color="#c2383a"/><stop offset="0.5017" stop-color="#c2383a"/><stop offset="0.5083" stop-color="#d05548"/><stop offset="0.5133" stop-color="#dd7059"/><stop offset="0.5200" stop-color="#f3a481"/><stop offset="0.5283" stop-color="#fddcc9"/><stop offset="0.5367" stop-color="#f6f7f7"/><stop offset="0.5483" stop-color="#cae1ee"/><stop offset="0.5567" stop-color="#a2cde3"/><stop offset="0.5708" stop-color="#71b0d3"/><stop offset="0.5875" stop-color="#4997c5"/><stop offset="0.6000" stop-color="#3e8cbf"/><stop offset="0.6417" stop-color="#2c75b4"/><stop offset="0.7167" stop-color="#1f63a8"/><stop offset="0.7667" stop-color="#1a5899"/><stop offset="0.9167" stop-color="#0f437b"/><stop offset="1.0000" stop-color="#0a3b70"/></linearGradient><linearGradient id="b31" gradientUnits="userSpaceOnUse" x1="416.65" x2="788.95"><stop offset="0.0000" stop-color="#124984"/><stop offset="0.0833" stop-color="#15508d"/><stop offset="0.2167" stop-color="#1d5fa2"/><stop offset="0.2667" stop-color="#2369ad"/><stop offset="0.3417" stop-color="#337eb8"/><stop offset="0.3792" stop-color="#4291c2"/><stop offset="0.3917" stop-color="#529dc8"/><stop offset="0.4083" stop-color="#75b2d4"/><stop offset="0.4250" stop-color="#a2cde3"/><stop offset="0.4350" stop-color="#c5dfec"/><stop offset="0.4458" stop-color="#e6eff4"/><stop offset="0.4517" stop-color="#f7f6f6"/><stop offset="0.4617" stop-color="#fddcc9"/><stop offset="0.4717" stop-color="#f5a886"/><stop offset="0.4817" stop-color="#db6b55"/><stop offset="0.4883" stop-color="#cc4c44"/><stop offset="0.4950" stop-color="#c43b3c"/><stop offset="0.5033" stop-color="#c2383a"/><stop offset="0.5125" stop-color="#ce4f45"/><stop offset="0.5183" stop-color="#db6b55"/><stop offset="0.5292" stop-color="#f5ac8b"/><stop offset="0.5383" stop-color="#fddcc9"/><stop offset="0.5483" stop-color="#f7f6f6"/><stop offset="0.5650" stop-color="#c5dfec"/><stop offset="0.5708" stop-color="#aed3e6"/><stop offset="0.5958" stop-color="#68abd0"/><stop offset="0.6125" stop-color="#4997c5"/><stop offset="0.6250" stop-color="#3e8cbf"/><stop offset="0.6667" stop-color="#2e77b5"/><stop offset="0.7333" stop-color="#2065ab"/><stop offset="0.8000" stop-color="#195696"/><stop offset="0.9333" stop-color="#0f437b"/><stop offset="1.0000" stop-color="#0c3d73"/></linearGradient><linearGradient id="b32" gradientUnits="userSpaceOnUse" x1="416.65" x2="788.95"><stop offset="0.0000" stop-color="#134c87"/><stop offset="0.1833" stop-color="#1e61a5"/><stop offset="0.2167" stop-color="#2267ac"/><stop offset="0.3000" stop-color="#327cb7"/><stop offset="0.3458" stop-color="#4393c3"/><stop offset="0.3708" stop-color="#65a9cf"/><stop offset="0.4042" stop-color="#acd2e5"/><stop offset="0.4167" stop-color="#cfe4ef"/><stop offset="0.4350" stop-color="#f7f6f6"/><stop offset="0.4500" stop-color="#fdd9c4"/><stop offset="0.4633" stop-color="#f3a481"/><stop offset="0.4717" stop-color="#e27b62"/><stop offset="0.4783" stop-color="#d7634f"/><stop offset="0.4800" stop-color="#d35a4a"/><stop offset="0.4833" stop-color="#cf5246"/><stop offset="0.4900" stop-color="#c6413e"/><stop offset="0.5000" stop-color="#c2383a"/><stop offset="0.5100" stop-color="#c6413e"/><stop offset="0.5167" stop-color="#cf5246"/><stop offset="0.5208" stop-color="#d55d4c"/><stop offset="0.5233" stop-color="#da6853"/><stop offset="0.5317" stop-color="#e98b6e"/><stop offset="0.5375" stop-color="#f4a683"/><stop offset="0.5500" stop-color="#fdd9c4"/><stop offset="0.5650" stop-color="#f6f7f7"/><stop offset="0.5833" stop-color="#cfe4ef"/><stop offset="0.6000" stop-color="#a2cde3"/><stop offset="0.6208" stop-color="#71b0d3"/><stop offset="0.6500" stop-color="#4393c3"/><stop offset="0.6833" stop-color="#3480b9"/><stop offset="0.7500" stop-color="#246aae"/><stop offset="0.8000" stop-color="#1d5fa2"/><stop offset="0.8833" stop-color="#15508d"/><stop offset="1.0000" stop-color="#0e4179"/></linearGradient><linearGradient id="b33" gradientUnits="userSpaceOnUse" x1="416.65" x2="788.95"><stop offset="0.0000" stop-color="#1b5a9c"/><stop offset="0.1000" stop-color="#2267ac"/><stop offset="0.2167" stop-color="#307ab6"/><stop offset="0.2833" stop-color="#4291c2"/><stop offset="0.3000" stop-color="#4c99c6"/><stop offset="0.3458" stop-color="#87beda"/><stop offset="0.3750" stop-color="#b6d7e8"/><stop offset="0.3917" stop-color="#d7e8f1"/><stop offset="0.4083" stop-color="#f2f5f6"/><stop offset="0.4125" stop-color="#f7f5f4"/><stop offset="0.4292" stop-color="#fcdecd"/><stop offset="0.4383" stop-color="#f9c6ac"/><stop offset="0.4500" stop-color="#f2a17f"/><stop offset="0.4667" stop-color="#da6853"/><stop offset="0.4767" stop-color="#ce4f45"/><stop offset="0.4833" stop-color="#c6413e"/><stop offset="0.4933" stop-color="#c13639"/><stop offset="0.5017" stop-color="#bf3338"/><stop offset="0.5125" stop-color="#c43b3c"/><stop offset="0.5250" stop-color="#cf5246"/><stop offset="0.5350" stop-color="#dc6e57"/><stop offset="0.5517" stop-color="#f5a886"/><stop offset="0.5667" stop-color="#fcd5bf"/><stop offset="0.5750" stop-color="#fbe5d8"/><stop offset="0.5875" stop-color="#f7f6f6"/><stop offset="0.6167" stop-color="#c7e0ed"/><stop offset="0.6500" stop-color="#8ac0db"/><stop offset="0.6833" stop-color="#5ca3cb"/><stop offset="0.7000" stop-color="#4997c5"/><stop offset="0.7167" stop-color="#3f8ec0"/><stop offset="0.8000" stop-color="#2b73b3"/><stop offset="0.9000" stop-color="#1e61a5"/><stop offset="1.0000" stop-color="#175290"/></linearGradient><linearGradient id="b34" gradientUnits="userSpaceOnUse" x1="416.65" x2="788.95"><stop offset="0.0000" stop-color="#2267ac"/><stop offset="0.1333" stop-color="#307ab6"/><stop offset="0.2167" stop-color="#4291c2"/><stop offset="0.2500" stop-color="#59a1ca"/><stop offset="0.2833" stop-color="#78b4d5"/><stop offset="0.3458" stop-color="#cae1ee"/><stop offset="0.3792" stop-color="#f3f5f6"/><stop offset="0.3833" stop-color="#f7f5f4"/><stop offset="0.4083" stop-color="#fddbc7"/><stop offset="0.4333" stop-color="#f3a481"/><stop offset="0.4500" stop-color="#e17860"/><stop offset="0.4650" stop-color="#d35a4a"/><stop offset="0.4767" stop-color="#c94741"/><stop offset="0.4900" stop-color="#c43b3c"/><stop offset="0.5017" stop-color="#c2383a"/><stop offset="0.5117" stop-color="#c43b3c"/><stop offset="0.5292" stop-color="#ce4f45"/><stop offset="0.5450" stop-color="#dc6e57"/><stop offset="0.5625" stop-color="#ef9979"/><stop offset="0.5750" stop-color="#f7b596"/><stop offset="0.5917" stop-color="#fddbc7"/><stop offset="0.6167" stop-color="#f7f5f4"/><stop offset="0.6500" stop-color="#d1e5f0"/><stop offset="0.6667" stop-color="#b6d7e8"/><stop offset="0.7333" stop-color="#62a7ce"/><stop offset="0.7667" stop-color="#4695c4"/><stop offset="0.8333" stop-color="#337eb8"/><stop offset="0.9833" stop-color="#1f63a8"/><stop offset="1.0000" stop-color="#1e61a5"/></linearGradient><linearGradient id="b35" gradientUnits="userSpaceOnUse" x1="416.65" x2="788.95"><stop offset="0.0000" stop-color="#2e77b5"/><stop offset="0.0833" stop-color="#3885bc"/><stop offset="0.1333" stop-color="#4393c3"/><stop offset="0.1833" stop-color="#62a7ce"/><stop offset="0.2167" stop-color="#7eb8d7"/><stop offset="0.2500" stop-color="#a0cce2"/><stop offset="0.2667" stop-color="#aed3e6"/><stop offset="0.3000" stop-color="#d4e6f1"/><stop offset="0.3375" stop-color="#f6f7f7"/><stop offset="0.3625" stop-color="#fbe5d8"/><stop offset="0.3792" stop-color="#fcd5bf"/><stop offset="0.4125" stop-color="#f19e7d"/><stop offset="0.4400" stop-color="#dc6e57"/><stop offset="0.4450" stop-color="#da6853"/><stop offset="0.4583" stop-color="#d05548"/><stop offset="0.4792" stop-color="#c84440"/><stop offset="0.4958" stop-color="#c43b3c"/><stop offset="0.5083" stop-color="#c43b3c"/><stop offset="0.5350" stop-color="#ce4f45"/><stop offset="0.5542" stop-color="#d86551"/><stop offset="0.5583" stop-color="#dc6e57"/><stop offset="0.5667" stop-color="#e17860"/><stop offset="0.5958" stop-color="#f5ac8b"/><stop offset="0.6250" stop-color="#fddbc7"/><stop offset="0.6583" stop-color="#f7f5f4"/><stop offset="0.6667" stop-color="#f2f5f6"/><stop offset="0.7000" stop-color="#d4e6f1"/><stop offset="0.7667" stop-color="#8dc2dc"/><stop offset="0.8167" stop-color="#5fa5cd"/><stop offset="0.8500" stop-color="#4997c5"/><stop offset="0.9000" stop-color="#3a87bd"/><stop offset="1.0000" stop-color="#2b73b3"/></linearGradient><linearGradient id="b36" gradientUnits="userSpaceOnUse" x1="416.65" x2="788.95"><stop offset="0.0000" stop-color="#3e8cbf"/><stop offset="0.0333" stop-color="#4393c3"/><stop offset="0.1000" stop-color="#65a9cf"/><stop offset="0.1500" stop-color="#87beda"/><stop offset="0.2167" stop-color="#bddbea"/><stop offset="0.2833" stop-color="#eff3f5"/><stop offset="0.3000" stop-color="#f8f3f0"/><stop offset="0.3417" stop-color="#fdd9c4"/><stop offset="0.3833" stop-color="#f4a683"/><stop offset="0.4125" stop-color="#e27b62"/><stop offset="0.4417" stop-color="#d35a4a"/><stop offset="0.4483" stop-color="#d05548"/><stop offset="0.4667" stop-color="#c94741"/><stop offset="0.4867" stop-color="#c53e3d"/><stop offset="0.5017" stop-color="#c2383a"/><stop offset="0.5117" stop-color="#c43b3c"/><stop offset="0.5150" stop-color="#c53e3d"/><stop offset="0.5383" stop-color="#cb4942"/><stop offset="0.5517" stop-color="#d05548"/><stop offset="0.5708" stop-color="#da6853"/><stop offset="0.5875" stop-color="#e27b62"/><stop offset="0.6167" stop-color="#f4a683"/><stop offset="0.6583" stop-color="#fdd9c4"/><stop offset="0.7000" stop-color="#f8f3f0"/><stop offset="0.7167" stop-color="#eff3f5"/><stop offset="0.7667" stop-color="#cce2ef"/><stop offset="0.8000" stop-color="#acd2e5"/><stop offset="0.8833" stop-color="#6eaed2"/><stop offset="0.9333" stop-color="#529dc8"/><stop offset="0.9667" stop-color="#4291c2"/><stop offset="1.0000" stop-color="#3c8abe"/></linearGradient><linearGradient id="b37" gradientUnits="userSpaceOnUse" x1="416.65" x2="788.95"><stop offset="0.0000" stop-color="#62a7ce"/><stop offset="0.0833" stop-color="#93c6de"/><stop offset="0.1500" stop-color="#bddbea"/><stop offset="0.2000" stop-color="#ddebf2"/><stop offset="0.2333" stop-color="#f0f4f6"/><stop offset="0.2500" stop-color="#f8f4f2"/><stop offset="0.3000" stop-color="#fddcc9"/><stop offset="0.3583" stop-color="#f2a17f"/><stop offset="0.4042" stop-color="#dc6e57"/><stop offset="0.4417" stop-color="#ce4f45"/><stop offset="0.4700" stop-color="#c6413e"/><stop offset="0.4867" stop-color="#c43b3c"/><stop offset="0.5067" stop-color="#c2383a"/><stop offset="0.5200" stop-color="#c43b3c"/><stop offset="0.5250" stop-color="#c53e3d"/><stop offset="0.5600" stop-color="#ce4f45"/><stop offset="0.5958" stop-color="#dc6e57"/><stop offset="0.6458" stop-color="#f4a683"/><stop offset="0.7000" stop-color="#fddcc9"/><stop offset="0.7500" stop-color="#f8f4f2"/><stop offset="0.7667" stop-color="#f0f4f6"/><stop offset="0.8333" stop-color="#cae1ee"/><stop offset="0.9000" stop-color="#9bc9e0"/><stop offset="0.9333" stop-color="#87beda"/><stop offset="1.0000" stop-color="#62a7ce"/></linearGradient><linearGradient id="b38" gradientUnits="userSpaceOnUse" x1="416.65" x2="788.95"><stop offset="0.0000" stop-color="#9bc9e0"/><stop offset="0.0833" stop-color="#c7e0ed"/><stop offset="0.1167" stop-color="#d8e9f1"/><stop offset="0.1667" stop-color="#f0f4f6"/><stop offset="0.1833" stop-color="#f7f5f4"/><stop offset="0.2500" stop-color="#fddbc7"/><stop offset="0.3167" stop-color="#f3a481"/><stop offset="0.3625" stop-color="#e17860"/><stop offset="0.3958" stop-color="#d55d4c"/><stop offset="0.4292" stop-color="#cb4942"/><stop offset="0.4533" stop-color="#c53e3d"/><stop offset="0.4625" stop-color="#c43b3c"/><stop offset="0.4667" stop-color="#c2383a"/><stop offset="0.4850" stop-color="#c13639"/><stop offset="0.4950" stop-color="#bf3338"/><stop offset="0.5133" stop-color="#bf3338"/><stop offset="0.5233" stop-color="#c13639"/><stop offset="0.5367" stop-color="#c2383a"/><stop offset="0.5417" stop-color="#c43b3c"/><stop offset="0.5833" stop-color="#ce4f45"/><stop offset="0.6167" stop-color="#d86551"/><stop offset="0.6833" stop-color="#f3a481"/><stop offset="0.7500" stop-color="#fddbc7"/><stop offset="0.8167" stop-color="#f7f5f4"/><stop offset="0.8667" stop-color="#e0ecf3"/><stop offset="0.9000" stop-color="#d2e6f0"/><stop offset="0.9500" stop-color="#b3d6e8"/><stop offset="1.0000" stop-color="#9bc9e0"/></linearGradient><linearGradient id="b39" gradientUnits="userSpaceOnUse" x1="416.65" x2="788.95"><stop offset="0.0000" stop-color="#c7e0ed"/><stop offset="0.0333" stop-color="#d7e8f1"/><stop offset="0.1000" stop-color="#f2f5f6"/><stop offset="0.1167" stop-color="#f7f5f4"/><stop offset="0.2000" stop-color="#fcd7c2"/><stop offset="0.2667" stop-color="#f5a886"/><stop offset="0.3667" stop-color="#d7634f"/><stop offset="0.3958" stop-color="#cf5246"/><stop offset="0.4467" stop-color="#c6413e"/><stop offset="0.4625" stop-color="#c53e3d"/><stop offset="0.4667" stop-color="#c43b3c"/><stop offset="0.4800" stop-color="#c43b3c"/><stop offset="0.4900" stop-color="#c2383a"/><stop offset="0.5183" stop-color="#c2383a"/><stop offset="0.5283" stop-color="#c43b3c"/><stop offset="0.5367" stop-color="#c43b3c"/><stop offset="0.5417" stop-color="#c53e3d"/><stop offset="0.5667" stop-color="#c84440"/><stop offset="0.6083" stop-color="#d05548"/><stop offset="0.6500" stop-color="#dc6e57"/><stop offset="0.7333" stop-color="#f5a886"/><stop offset="0.8000" stop-color="#fcd7c2"/><stop offset="0.8833" stop-color="#f7f5f4"/><stop offset="0.9500" stop-color="#ddebf2"/><stop offset="0.9833" stop-color="#d1e5f0"/><stop offset="1.0000" stop-color="#c7e0ed"/></linearGradient><linearGradient id="b40" gradientUnits="userSpaceOnUse" x1="416.65" x2="788.95"><stop offset="0.0000" stop-color="#e6eff4"/><stop offset="0.0500" stop-color="#f7f5f4"/><stop offset="0.1333" stop-color="#fddbc7"/><stop offset="0.2333" stop-color="#f19e7d"/><stop offset="0.3167" stop-color="#db6b55"/><stop offset="0.3542" stop-color="#d25849"/><stop offset="0.4208" stop-color="#c6413e"/><stop offset="0.4417" stop-color="#c53e3d"/><stop offset="0.4517" stop-color="#c43b3c"/><stop offset="0.4625" stop-color="#c43b3c"/><stop offset="0.4667" stop-color="#c2383a"/><stop offset="0.5367" stop-color="#c2383a"/><stop offset="0.5417" stop-color="#c43b3c"/><stop offset="0.5567" stop-color="#c43b3c"/><stop offset="0.5667" stop-color="#c53e3d"/><stop offset="0.6333" stop-color="#cf5246"/><stop offset="0.6833" stop-color="#db6b55"/><stop offset="0.7667" stop-color="#f19e7d"/><stop offset="0.8667" stop-color="#fddbc7"/><stop offset="0.9500" stop-color="#f7f5f4"/><stop offset="1.0000" stop-color="#e6eff4"/></linearGradient><linearGradient id="b41" gradientUnits="userSpaceOnUse" x1="416.65" x2="788.95"><stop offset="0.0000" stop-color="#f8f2ef"/><stop offset="0.0833" stop-color="#fddbc7"/><stop offset="0.1833" stop-color="#f4a683"/><stop offset="0.2667" stop-color="#df765e"/><stop offset="0.3333" stop-color="#d25849"/><stop offset="0.3583" stop-color="#cc4c44"/><stop offset="0.4350" stop-color="#c43b3c"/><stop offset="0.5183" stop-color="#c13639"/><stop offset="0.5567" stop-color="#c2383a"/><stop offset="0.5667" stop-color="#c43b3c"/><stop offset="0.6417" stop-color="#cc4c44"/><stop offset="0.7000" stop-color="#d86551"/><stop offset="0.8000" stop-color="#f09c7b"/><stop offset="0.8833" stop-color="#fac8af"/><stop offset="0.9167" stop-color="#fddbc7"/><stop offset="1.0000" stop-color="#f8f2ef"/></linearGradient><linearGradient id="b42" gradientUnits="userSpaceOnUse" x1="416.65" x2="788.95"><stop offset="0.0000" stop-color="#fce2d2"/><stop offset="0.0333" stop-color="#fdd9c4"/><stop offset="0.1500" stop-color="#f2a17f"/><stop offset="0.2500" stop-color="#dc6e57"/><stop offset="0.3167" stop-color="#d05548"/><stop offset="0.3625" stop-color="#c94741"/><stop offset="0.4292" stop-color="#c43b3c"/><stop offset="0.4400" stop-color="#c43b3c"/><stop offset="0.4500" stop-color="#c2383a"/><stop offset="0.5583" stop-color="#c2383a"/><stop offset="0.5667" stop-color="#c43b3c"/><stop offset="0.6000" stop-color="#c53e3d"/><stop offset="0.6583" stop-color="#cc4c44"/><stop offset="0.7167" stop-color="#d6604d"/><stop offset="0.8167" stop-color="#ea8e70"/><stop offset="0.8833" stop-color="#f6b191"/><stop offset="0.9667" stop-color="#fdd9c4"/><stop offset="1.0000" stop-color="#fce2d2"/></linearGradient><linearGradient id="b43" gradientUnits="userSpaceOnUse" x1="416.65" x2="788.95"><stop offset="0.0000" stop-color="#facab1"/><stop offset="0.0833" stop-color="#f4a683"/><stop offset="0.2333" stop-color="#d7634f"/><stop offset="0.3333" stop-color="#c84440"/><stop offset="0.4000" stop-color="#c2383a"/><stop offset="0.4333" stop-color="#c13639"/><stop offset="0.4417" stop-color="#bf3338"/><stop offset="0.5650" stop-color="#bf3338"/><stop offset="0.5750" stop-color="#c13639"/><stop offset="0.6292" stop-color="#c43b3c"/><stop offset="0.7167" stop-color="#cf5246"/><stop offset="0.8000" stop-color="#dd7059"/><stop offset="0.9167" stop-color="#f4a683"/><stop offset="1.0000" stop-color="#facab1"/></linearGradient><linearGradient id="b44" gradientUnits="userSpaceOnUse" x1="416.65" x2="788.95"><stop offset="0.0000" stop-color="#f7b799"/><stop offset="0.0667" stop-color="#f19e7d"/><stop offset="0.1833" stop-color="#dd7059"/><stop offset="0.2500" stop-color="#d35a4a"/><stop offset="0.3333" stop-color="#c94741"/><stop offset="0.4000" stop-color="#c53e3d"/><stop offset="0.4467" stop-color="#c43b3c"/><stop offset="0.4567" stop-color="#c2383a"/><stop offset="0.5517" stop-color="#c2383a"/><stop offset="0.5617" stop-color="#c43b3c"/><stop offset="0.5917" stop-color="#c43b3c"/><stop offset="0.6833" stop-color="#cb4942"/><stop offset="0.7833" stop-color="#d86551"/><stop offset="0.8833" stop-color="#e8896c"/><stop offset="0.9667" stop-color="#f5ac8b"/><stop offset="1.0000" stop-color="#f7b799"/></linearGradient><linearGradient id="b45" gradientUnits="userSpaceOnUse" x1="416.65" x2="788.95"><stop offset="0.0000" stop-color="#f2a17f"/><stop offset="0.1333" stop-color="#dd7059"/><stop offset="0.2500" stop-color="#ce4f45"/><stop offset="0.3542" stop-color="#c53e3d"/><stop offset="0.4250" stop-color="#c2383a"/><stop offset="0.6042" stop-color="#c2383a"/><stop offset="0.6292" stop-color="#c43b3c"/><stop offset="0.7500" stop-color="#ce4f45"/><stop offset="0.8667" stop-color="#dd7059"/><stop offset="0.9167" stop-color="#e48066"/><stop offset="0.9500" stop-color="#ea8e70"/><stop offset="1.0000" stop-color="#f2a17f"/></linearGradient><linearGradient id="b46" gradientUnits="userSpaceOnUse" x1="416.65" x2="788.95"><stop offset="0.0000" stop-color="#eb9172"/><stop offset="0.1000" stop-color="#dd7059"/><stop offset="0.2000" stop-color="#d25849"/><stop offset="0.3167" stop-color="#c6413e"/><stop offset="0.4000" stop-color="#c43b3c"/><stop offset="0.4208" stop-color="#c2383a"/><stop offset="0.5958" stop-color="#c2383a"/><stop offset="0.6208" stop-color="#c43b3c"/><stop offset="0.7500" stop-color="#cc4c44"/><stop offset="0.8500" stop-color="#d7634f"/><stop offset="1.0000" stop-color="#eb9172"/></linearGradient><linearGradient id="b47" gradientUnits="userSpaceOnUse" x1="416.65" x2="788.95"><stop offset="0.0000" stop-color="#e58368"/><stop offset="0.1333" stop-color="#d6604d"/><stop offset="0.3167" stop-color="#c53e3d"/><stop offset="0.3417" stop-color="#c53e3d"/><stop offset="0.3667" stop-color="#c43b3c"/><stop offset="0.4917" stop-color="#c13639"/><stop offset="0.6208" stop-color="#c2383a"/><stop offset="0.6458" stop-color="#c43b3c"/><stop offset="0.7833" stop-color="#ce4f45"/><stop offset="0.9167" stop-color="#db6b55"/><stop offset="1.0000" stop-color="#e58368"/></linearGradient><linearGradient id="b48" gradientUnits="userSpaceOnUse" x1="416.65" x2="788.95"><stop offset="0.0000" stop-color="#e17860"/><stop offset="0.1500" stop-color="#d25849"/><stop offset="0.2833" stop-color="#c84440"/><stop offset="0.3417" stop-color="#c6413e"/><stop offset="0.3667" stop-color="#c53e3d"/><stop offset="0.5167" stop-color="#c43b3c"/><stop offset="0.6083" stop-color="#c43b3c"/><stop offset="0.6333" stop-color="#c53e3d"/><stop offset="0.7500" stop-color="#cb4942"/><stop offset="0.8500" stop-color="#d25849"/><stop offset="1.0000" stop-color="#e17860"/></linearGradient><linearGradient id="b49" gradientUnits="userSpaceOnUse" x1="416.65" x2="788.95"><stop offset="0.0000" stop-color="#db6b55"/><stop offset="0.1333" stop-color="#cf5246"/><stop offset="0.2833" stop-color="#c43b3c"/><stop offset="0.4167" stop-color="#c13639"/><stop offset="0.4417" stop-color="#bf3338"/><stop offset="0.5792" stop-color="#bf3338"/><stop offset="0.6042" stop-color="#c13639"/><stop offset="0.7167" stop-color="#c43b3c"/><stop offset="0.9667" stop-color="#d7634f"/><stop offset="1.0000" stop-color="#db6b55"/></linearGradient><linearGradient id="b50" gradientUnits="userSpaceOnUse" x1="416.65" x2="788.95"><stop offset="0.0000" stop-color="#d86551"/><stop offset="0.2000" stop-color="#c94741"/><stop offset="0.3000" stop-color="#c53e3d"/><stop offset="0.3750" stop-color="#c43b3c"/><stop offset="0.4000" stop-color="#c2383a"/><stop offset="0.6208" stop-color="#c2383a"/><stop offset="0.6458" stop-color="#c43b3c"/><stop offset="0.7667" stop-color="#c84440"/><stop offset="0.8833" stop-color="#cf5246"/><stop offset="1.0000" stop-color="#d86551"/></linearGradient><linearGradient id="b51" gradientUnits="userSpaceOnUse" x1="416.65" x2="788.95"><stop offset="0.0000" stop-color="#d6604d"/><stop offset="0.1833" stop-color="#c94741"/><stop offset="0.2833" stop-color="#c53e3d"/><stop offset="0.3625" stop-color="#c43b3c"/><stop offset="0.3875" stop-color="#c2383a"/><stop offset="0.6333" stop-color="#c2383a"/><stop offset="0.6583" stop-color="#c43b3c"/><stop offset="0.7833" stop-color="#c84440"/><stop offset="0.9000" stop-color="#cf5246"/><stop offset="1.0000" stop-color="#d6604d"/></linearGradient><linearGradient id="b52" gradientUnits="userSpaceOnUse" x1="416.65" x2="788.95"><stop offset="0.0000" stop-color="#d35a4a"/><stop offset="0.1667" stop-color="#c94741"/><stop offset="0.3750" stop-color="#c43b3c"/><stop offset="0.4617" stop-color="#c43b3c"/><stop offset="0.4667" stop-color="#c2383a"/><stop offset="0.5375" stop-color="#c2383a"/><stop offset="0.5417" stop-color="#c43b3c"/><stop offset="0.6667" stop-color="#c43b3c"/><stop offset="0.8833" stop-color="#cc4c44"/><stop offset="1.0000" stop-color="#d35a4a"/></linearGradient><linearGradient id="b53" gradientUnits="userSpaceOnUse" x1="416.65" x2="788.95"><stop offset="0.0000" stop-color="#d35a4a"/><stop offset="0.1667" stop-color="#c94741"/><stop offset="0.3750" stop-color="#c43b3c"/><stop offset="0.4167" stop-color="#c43b3c"/><stop offset="0.4417" stop-color="#c2383a"/><stop offset="0.5792" stop-color="#c2383a"/><stop offset="0.6042" stop-color="#c43b3c"/><stop offset="0.7167" stop-color="#c53e3d"/><stop offset="0.8833" stop-color="#cc4c44"/><stop offset="1.0000" stop-color="#d35a4a"/></linearGradient><linearGradient id="b54" gradientUnits="userSpaceOnUse" x1="416.65" x2="788.95"><stop offset="0.0000" stop-color="#ce4f45"/><stop offset="0.2000" stop-color="#c53e3d"/><stop offset="0.3708" stop-color="#c2383a"/><stop offset="0.7000" stop-color="#c2383a"/><stop offset="0.8833" stop-color="#c84440"/><stop offset="1.0000" stop-color="#ce4f45"/></linearGradient><linearGradient id="b55" gradientUnits="userSpaceOnUse" x1="416.65" x2="788.95"><stop offset="0.0000" stop-color="#cb4942"/><stop offset="0.2833" stop-color="#c2383a"/><stop offset="0.7500" stop-color="#c2383a"/><stop offset="1.0000" stop-color="#cb4942"/></linearGradient><linearGradient id="b56" gradientUnits="userSpaceOnUse" x1="416.65" x2="788.95"><stop offset="0.0000" stop-color="#cb4942"/><stop offset="0.2000" stop-color="#c43b3c"/><stop offset="0.5000" stop-color="#c13639"/><stop offset="0.7500" stop-color="#c2383a"/><stop offset="0.9500" stop-color="#c84440"/><stop offset="1.0000" stop-color="#cb4942"/></linearGradient><linearGradient id="b57" gradientUnits="userSpaceOnUse" x1="416.65" x2="788.95"><stop offset="0.0000" stop-color="#c84440"/><stop offset="0.1500" stop-color="#c43b3c"/><stop offset="0.4167" stop-color="#c13639"/><stop offset="0.8167" stop-color="#c2383a"/><stop offset="1.0000" stop-color="#c84440"/></linearGradient><linearGradient id="b58" gradientUnits="userSpaceOnUse" x1="416.65" x2="788.95"><stop offset="0.0000" stop-color="#c84440"/><stop offset="0.1000" stop-color="#c53e3d"/><stop offset="0.3000" stop-color="#c2383a"/><stop offset="0.7833" stop-color="#c2383a"/><stop offset="1.0000" stop-color="#c84440"/></linearGradient><linearGradient id="b59" gradientUnits="userSpaceOnUse" x1="416.65" x2="788.95"><stop offset="0.0000" stop-color="#c84440"/><stop offset="0.2500" stop-color="#c43b3c"/><stop offset="0.4500" stop-color="#c2383a"/><stop offset="0.7167" stop-color="#c2383a"/><stop offset="1.0000" stop-color="#c84440"/></linearGradient><linearGradient id="b60" gradientUnits="userSpaceOnUse" x1="416.65" x2="788.95"><stop offset="0.0000" stop-color="#c6413e"/><stop offset="0.2667" stop-color="#c2383a"/><stop offset="0.8000" stop-color="#c2383a"/><stop offset="1.0000" stop-color="#c6413e"/></linearGradient><linearGradient id="c0" gradientUnits="userSpaceOnUse" x1="926.65" x2="1298.95"><stop offset="0.0000" stop-color="#fae8de"/><stop offset="0.3500" stop-color="#fae8de"/><stop offset="0.3833" stop-color="#fcdfcf"/><stop offset="0.4000" stop-color="#fcd3bc"/><stop offset="0.4333" stop-color="#f19e7d"/><stop offset="0.4383" stop-color="#ec9374"/><stop offset="0.4567" stop-color="#dd7059"/><stop offset="0.4633" stop-color="#d7634f"/><stop offset="0.4650" stop-color="#d35a4a"/><stop offset="0.4667" stop-color="#c94741"/><stop offset="0.4683" stop-color="#b72230"/><stop offset="0.4700" stop-color="#8d0c25"/><stop offset="0.4708" stop-color="#760521"/><stop offset="0.4717" stop-color="#67001f"/><stop offset="0.4733" stop-color="#67001f"/><stop offset="0.4750" stop-color="#6d0220"/><stop offset="0.4792" stop-color="#900d26"/><stop offset="0.4850" stop-color="#ab162a"/><stop offset="0.4883" stop-color="#b3192c"/><stop offset="0.4917" stop-color="#b72230"/><stop offset="0.5033" stop-color="#bd2d35"/><stop offset="0.5167" stop-color="#c6413e"/><stop offset="0.5450" stop-color="#da6853"/><stop offset="0.5708" stop-color="#ec9374"/><stop offset="0.5792" stop-color="#f3a481"/><stop offset="0.6125" stop-color="#fbd0b9"/><stop offset="0.6292" stop-color="#fcdecd"/><stop offset="0.6667" stop-color="#fae8de"/><stop offset="0.8667" stop-color="#faeae1"/><stop offset="1.0000" stop-color="#faeae1"/></linearGradient><linearGradient id="c1" gradientUnits="userSpaceOnUse" x1="926.65" x2="1298.95"><stop offset="0.0000" stop-color="#f9ebe3"/><stop offset="0.3500" stop-color="#f9ebe3"/><stop offset="0.3833" stop-color="#fbe3d4"/><stop offset="0.3958" stop-color="#fddcc9"/><stop offset="0.4125" stop-color="#fac8af"/><stop offset="0.4350" stop-color="#f2a17f"/><stop offset="0.4542" stop-color="#e17860"/><stop offset="0.4633" stop-color="#da6853"/><stop offset="0.4667" stop-color="#d55d4c"/><stop offset="0.4683" stop-color="#cb4942"/><stop offset="0.4708" stop-color="#b1182b"/><stop offset="0.4717" stop-color="#960f27"/><stop offset="0.4733" stop-color="#6d0220"/><stop offset="0.4750" stop-color="#67001f"/><stop offset="0.4817" stop-color="#991027"/><stop offset="0.4883" stop-color="#b3192c"/><stop offset="0.4933" stop-color="#b82531"/><stop offset="0.5000" stop-color="#ba2832"/><stop offset="0.5133" stop-color="#c6413e"/><stop offset="0.5317" stop-color="#d35a4a"/><stop offset="0.5517" stop-color="#e17860"/><stop offset="0.5792" stop-color="#f5aa89"/><stop offset="0.6083" stop-color="#fcd5bf"/><stop offset="0.6333" stop-color="#fbe4d6"/><stop offset="0.6500" stop-color="#fae9df"/><stop offset="0.7167" stop-color="#f9eee7"/><stop offset="1.0000" stop-color="#f9eee7"/></linearGradient><linearGradient id="c2" gradientUnits="userSpaceOnUse" x1="926.65" x2="1298.95"><stop offset="0.0000" stop-color="#f8f3f0"/><stop offset="0.3333" stop-color="#f7f5f4"/><stop offset="0.3708" stop-color="#f9f0eb"/><stop offset="0.3958" stop-color="#fbe5d8"/><stop offset="0.4083" stop-color="#fddbc7"/><stop offset="0.4208" stop-color="#f9c6ac"/><stop offset="0.4400" stop-color="#f2a17f"/><stop offset="0.4467" stop-color="#eb9172"/><stop offset="0.4625" stop-color="#dc6e57"/><stop offset="0.4667" stop-color="#d86551"/><stop offset="0.4683" stop-color="#d55d4c"/><stop offset="0.4708" stop-color="#c6413e"/><stop offset="0.4717" stop-color="#be3036"/><stop offset="0.4733" stop-color="#9f1228"/><stop offset="0.4750" stop-color="#760521"/><stop offset="0.4767" stop-color="#67001f"/><stop offset="0.4800" stop-color="#840924"/><stop offset="0.4833" stop-color="#9c1127"/><stop offset="0.4883" stop-color="#b1182b"/><stop offset="0.4933" stop-color="#b72230"/><stop offset="0.5000" stop-color="#b82531"/><stop offset="0.5117" stop-color="#c53e3d"/><stop offset="0.5367" stop-color="#d86551"/><stop offset="0.5433" stop-color="#dd7059"/><stop offset="0.5500" stop-color="#e37e64"/><stop offset="0.5708" stop-color="#f5a886"/><stop offset="0.6000" stop-color="#fddbc7"/><stop offset="0.6292" stop-color="#f9ede5"/><stop offset="0.6500" stop-color="#f8f2ef"/><stop offset="0.7167" stop-color="#f7f6f6"/><stop offset="1.0000" stop-color="#f7f6f6"/></linearGradient><linearGradient id="c3" gradientUnits="userSpaceOnUse" x1="926.65" x2="1298.95"><stop offset="0.0000" stop-color="#ecf2f5"/><stop offset="0.3458" stop-color="#eaf1f5"/><stop offset="0.3833" stop-color="#f6f7f7"/><stop offset="0.4000" stop-color="#f9ede5"/><stop offset="0.4167" stop-color="#fdddcb"/><stop offset="0.4292" stop-color="#f9c6ac"/><stop offset="0.4333" stop-color="#f8bb9e"/><stop offset="0.4383" stop-color="#f6b191"/><stop offset="0.4500" stop-color="#ec9374"/><stop offset="0.4683" stop-color="#da6853"/><stop offset="0.4708" stop-color="#d35a4a"/><stop offset="0.4717" stop-color="#cf5246"/><stop offset="0.4733" stop-color="#c13639"/><stop offset="0.4750" stop-color="#a51429"/><stop offset="0.4767" stop-color="#7c0722"/><stop offset="0.4783" stop-color="#6a011f"/><stop offset="0.4817" stop-color="#8a0b25"/><stop offset="0.4850" stop-color="#9f1228"/><stop offset="0.4883" stop-color="#ae172a"/><stop offset="0.4958" stop-color="#b72230"/><stop offset="0.5017" stop-color="#ba2832"/><stop offset="0.5167" stop-color="#c94741"/><stop offset="0.5233" stop-color="#cf5246"/><stop offset="0.5283" stop-color="#d55d4c"/><stop offset="0.5350" stop-color="#da6853"/><stop offset="0.5617" stop-color="#f4a683"/><stop offset="0.5875" stop-color="#fddbc7"/><stop offset="0.6208" stop-color="#f7f5f4"/><stop offset="0.6375" stop-color="#f0f4f6"/><stop offset="0.6667" stop-color="#e9f0f4"/><stop offset="1.0000" stop-color="#e7f0f4"/></linearGradient><linearGradient id="c4" gradientUnits="userSpaceOnUse" x1="926.65" x2="1298.95"><stop offset="0.0000" stop-color="#d8e9f1"/><stop offset="0.0333" stop-color="#e7f0f4"/><stop offset="0.0500" stop-color="#d8e9f1"/><stop offset="0.0833" stop-color="#dae9f2"/><stop offset="0.1000" stop-color="#e1edf3"/><stop offset="0.1167" stop-color="#cce2ef"/><stop offset="0.1333" stop-color="#dbeaf2"/><stop offset="0.1500" stop-color="#e1edf3"/><stop offset="0.1667" stop-color="#d4e6f1"/><stop offset="0.1833" stop-color="#e3edf3"/><stop offset="0.2167" stop-color="#d5e7f1"/><stop offset="0.2333" stop-color="#dae9f2"/><stop offset="0.2500" stop-color="#cfe4ef"/><stop offset="0.2667" stop-color="#d5e7f1"/><stop offset="0.2833" stop-color="#e4eef4"/><stop offset="0.3000" stop-color="#d2e6f0"/><stop offset="0.3167" stop-color="#e4eef4"/><stop offset="0.3333" stop-color="#d7e8f1"/><stop offset="0.3375" stop-color="#deebf2"/><stop offset="0.3417" stop-color="#d8e9f1"/><stop offset="0.3458" stop-color="#c5dfec"/><stop offset="0.3500" stop-color="#d5e7f1"/><stop offset="0.3500" stop-color="#dae9f2"/><stop offset="0.3542" stop-color="#d1e5f0"/><stop offset="0.3583" stop-color="#d1e5f0"/><stop offset="0.3625" stop-color="#ddebf2"/><stop offset="0.3667" stop-color="#d7e8f1"/><stop offset="0.3667" stop-color="#cfe4ef"/><stop offset="0.3750" stop-color="#e3edf3"/><stop offset="0.3792" stop-color="#dbeaf2"/><stop offset="0.3833" stop-color="#e7f0f4"/><stop offset="0.3833" stop-color="#eaf1f5"/><stop offset="0.3917" stop-color="#deebf2"/><stop offset="0.3958" stop-color="#e1edf3"/><stop offset="0.4000" stop-color="#edf2f5"/><stop offset="0.4000" stop-color="#f3f5f6"/><stop offset="0.4125" stop-color="#f8f4f2"/><stop offset="0.4167" stop-color="#f9ede5"/><stop offset="0.4208" stop-color="#f9ebe3"/><stop offset="0.4333" stop-color="#fddbc7"/><stop offset="0.4333" stop-color="#fdd9c4"/><stop offset="0.4367" stop-color="#fbd0b9"/><stop offset="0.4375" stop-color="#facab1"/><stop offset="0.4383" stop-color="#facab1"/><stop offset="0.4400" stop-color="#f8bda1"/><stop offset="0.4417" stop-color="#f8bda1"/><stop offset="0.4417" stop-color="#f9c2a7"/><stop offset="0.4450" stop-color="#f7b799"/><stop offset="0.4458" stop-color="#f7b799"/><stop offset="0.4467" stop-color="#f6b191"/><stop offset="0.4500" stop-color="#f6b394"/><stop offset="0.4500" stop-color="#f5a886"/><stop offset="0.4500" stop-color="#f5ac8b"/><stop offset="0.4517" stop-color="#f2a17f"/><stop offset="0.4542" stop-color="#f3a481"/><stop offset="0.4550" stop-color="#ef9979"/><stop offset="0.4567" stop-color="#f09c7b"/><stop offset="0.4600" stop-color="#e8896c"/><stop offset="0.4625" stop-color="#e6866a"/><stop offset="0.4650" stop-color="#e37e64"/><stop offset="0.4667" stop-color="#e37e64"/><stop offset="0.4667" stop-color="#e17860"/><stop offset="0.4683" stop-color="#dc6e57"/><stop offset="0.4700" stop-color="#de735c"/><stop offset="0.4708" stop-color="#dd7059"/><stop offset="0.4733" stop-color="#d55d4c"/><stop offset="0.4750" stop-color="#c53e3d"/><stop offset="0.4767" stop-color="#ae172a"/><stop offset="0.4792" stop-color="#7f0823"/><stop offset="0.4817" stop-color="#8a0b25"/><stop offset="0.4833" stop-color="#8d0c25"/><stop offset="0.4833" stop-color="#960f27"/><stop offset="0.4850" stop-color="#a51429"/><stop offset="0.4867" stop-color="#a51429"/><stop offset="0.4883" stop-color="#b3192c"/><stop offset="0.4917" stop-color="#b41c2d"/><stop offset="0.4917" stop-color="#b3192c"/><stop offset="0.4933" stop-color="#b72230"/><stop offset="0.4950" stop-color="#b41c2d"/><stop offset="0.4967" stop-color="#b82531"/><stop offset="0.5017" stop-color="#ba2832"/><stop offset="0.5033" stop-color="#be3036"/><stop offset="0.5042" stop-color="#bd2d35"/><stop offset="0.5050" stop-color="#bf3338"/><stop offset="0.5083" stop-color="#c2383a"/><stop offset="0.5083" stop-color="#c43b3c"/><stop offset="0.5100" stop-color="#c94741"/><stop offset="0.5125" stop-color="#c84440"/><stop offset="0.5183" stop-color="#d05548"/><stop offset="0.5200" stop-color="#cf5246"/><stop offset="0.5233" stop-color="#d7634f"/><stop offset="0.5250" stop-color="#d7634f"/><stop offset="0.5250" stop-color="#d55d4c"/><stop offset="0.5283" stop-color="#db6b55"/><stop offset="0.5292" stop-color="#d86551"/><stop offset="0.5333" stop-color="#de735c"/><stop offset="0.5333" stop-color="#dd7059"/><stop offset="0.5350" stop-color="#e17860"/><stop offset="0.5367" stop-color="#e27b62"/><stop offset="0.5375" stop-color="#e58368"/><stop offset="0.5383" stop-color="#e27b62"/><stop offset="0.5400" stop-color="#e6866a"/><stop offset="0.5417" stop-color="#e58368"/><stop offset="0.5433" stop-color="#ee9677"/><stop offset="0.5450" stop-color="#eb9172"/><stop offset="0.5483" stop-color="#f09c7b"/><stop offset="0.5517" stop-color="#f5a886"/><stop offset="0.5550" stop-color="#f5aa89"/><stop offset="0.5567" stop-color="#f6b394"/><stop offset="0.5600" stop-color="#f7b99c"/><stop offset="0.5625" stop-color="#f9c4a9"/><stop offset="0.5633" stop-color="#f9c4a9"/><stop offset="0.5667" stop-color="#fbccb4"/><stop offset="0.5667" stop-color="#facab1"/><stop offset="0.5708" stop-color="#fdd9c4"/><stop offset="0.5750" stop-color="#fdd9c4"/><stop offset="0.5792" stop-color="#f9ebe3"/><stop offset="0.5833" stop-color="#fbe5d8"/><stop offset="0.5875" stop-color="#f8f4f2"/><stop offset="0.5917" stop-color="#f6f7f7"/><stop offset="0.5958" stop-color="#f8f2ef"/><stop offset="0.6000" stop-color="#f2f5f6"/><stop offset="0.6042" stop-color="#eaf1f5"/><stop offset="0.6125" stop-color="#eaf1f5"/><stop offset="0.6208" stop-color="#e1edf3"/><stop offset="0.6250" stop-color="#e6eff4"/><stop offset="0.6292" stop-color="#dae9f2"/><stop offset="0.6333" stop-color="#d8e9f1"/><stop offset="0.6375" stop-color="#e3edf3"/><stop offset="0.6458" stop-color="#e1edf3"/><stop offset="0.6500" stop-color="#d7e8f1"/><stop offset="0.6542" stop-color="#ddebf2"/><stop offset="0.6583" stop-color="#d5e7f1"/><stop offset="0.6625" stop-color="#ddebf2"/><stop offset="0.6833" stop-color="#d2e6f0"/><stop offset="0.7167" stop-color="#d5e7f1"/><stop offset="0.7333" stop-color="#e1edf3"/><stop offset="0.7500" stop-color="#e7f0f4"/><stop offset="0.7667" stop-color="#d5e7f1"/><stop offset="0.7833" stop-color="#d7e8f1"/><stop offset="0.8000" stop-color="#c2ddec"/><stop offset="0.8167" stop-color="#d8e9f1"/><stop offset="0.8333" stop-color="#d7e8f1"/><stop offset="0.8500" stop-color="#cfe4ef"/><stop offset="0.8667" stop-color="#dbeaf2"/><stop offset="0.8833" stop-color="#cae1ee"/><stop offset="0.9000" stop-color="#d5e7f1"/><stop offset="0.9167" stop-color="#d7e8f1"/><stop offset="0.9333" stop-color="#cce2ef"/><stop offset="0.9500" stop-color="#dbeaf2"/><stop offset="0.9667" stop-color="#ddebf2"/><stop offset="0.9833" stop-color="#cce2ef"/><stop offset="1.0000" stop-color="#cce2ef"/></linearGradient><linearGradient id="c5" gradientUnits="userSpaceOnUse" x1="926.65" x2="1298.95"><stop offset="0.0000" stop-color="#cfe4ef"/><stop offset="0.3333" stop-color="#cae1ee"/><stop offset="0.3708" stop-color="#cce2ef"/><stop offset="0.4042" stop-color="#e1edf3"/><stop offset="0.4167" stop-color="#f3f5f6"/><stop offset="0.4250" stop-color="#f9efe9"/><stop offset="0.4400" stop-color="#fcd7c2"/><stop offset="0.4567" stop-color="#f4a683"/><stop offset="0.4600" stop-color="#f09c7b"/><stop offset="0.4633" stop-color="#ea8e70"/><stop offset="0.4717" stop-color="#df765e"/><stop offset="0.4750" stop-color="#d55d4c"/><stop offset="0.4767" stop-color="#c6413e"/><stop offset="0.4783" stop-color="#b41c2d"/><stop offset="0.4800" stop-color="#900d26"/><stop offset="0.4817" stop-color="#7f0823"/><stop offset="0.4867" stop-color="#a51429"/><stop offset="0.4917" stop-color="#b41c2d"/><stop offset="0.5000" stop-color="#b82531"/><stop offset="0.5117" stop-color="#c94741"/><stop offset="0.5250" stop-color="#da6853"/><stop offset="0.5400" stop-color="#ec9374"/><stop offset="0.5500" stop-color="#f6b191"/><stop offset="0.5650" stop-color="#fddcc9"/><stop offset="0.5833" stop-color="#f7f5f4"/><stop offset="0.6042" stop-color="#deebf2"/><stop offset="0.6375" stop-color="#cae1ee"/><stop offset="0.7167" stop-color="#c5dfec"/><stop offset="1.0000" stop-color="#c5dfec"/></linearGradient><linearGradient id="c6" gradientUnits="userSpaceOnUse" x1="926.65" x2="1298.95"><stop offset="0.0000" stop-color="#b3d6e8"/><stop offset="0.3708" stop-color="#b3d6e8"/><stop offset="0.3958" stop-color="#c7e0ed"/><stop offset="0.4208" stop-color="#edf2f5"/><stop offset="0.4250" stop-color="#f6f7f7"/><stop offset="0.4400" stop-color="#fcdfcf"/><stop offset="0.4450" stop-color="#fcd3bc"/><stop offset="0.4617" stop-color="#f19e7d"/><stop offset="0.4733" stop-color="#df765e"/><stop offset="0.4750" stop-color="#dc6e57"/><stop offset="0.4767" stop-color="#d6604d"/><stop offset="0.4792" stop-color="#bf3338"/><stop offset="0.4800" stop-color="#b61f2e"/><stop offset="0.4817" stop-color="#960f27"/><stop offset="0.4833" stop-color="#8a0b25"/><stop offset="0.4883" stop-color="#ab162a"/><stop offset="0.4933" stop-color="#b61f2e"/><stop offset="0.4967" stop-color="#b82531"/><stop offset="0.5000" stop-color="#b82531"/><stop offset="0.5133" stop-color="#ce4f45"/><stop offset="0.5217" stop-color="#d86551"/><stop offset="0.5383" stop-color="#ef9979"/><stop offset="0.5450" stop-color="#f6af8e"/><stop offset="0.5600" stop-color="#fddcc9"/><stop offset="0.5750" stop-color="#f8f4f2"/><stop offset="0.5833" stop-color="#eaf1f5"/><stop offset="0.6125" stop-color="#c0dceb"/><stop offset="0.6292" stop-color="#b3d6e8"/><stop offset="0.6625" stop-color="#aed3e6"/><stop offset="1.0000" stop-color="#acd2e5"/></linearGradient><linearGradient id="c7" gradientUnits="userSpaceOnUse" x1="926.65" x2="1298.95"><stop offset="0.0000" stop-color="#98c8e0"/><stop offset="0.3667" stop-color="#98c8e0"/><stop offset="0.3917" stop-color="#a7d0e4"/><stop offset="0.4042" stop-color="#bbdaea"/><stop offset="0.4292" stop-color="#f0f4f6"/><stop offset="0.4350" stop-color="#f8f2ef"/><stop offset="0.4500" stop-color="#fcd3bc"/><stop offset="0.4583" stop-color="#f7b596"/><stop offset="0.4667" stop-color="#ef9979"/><stop offset="0.4750" stop-color="#e27b62"/><stop offset="0.4783" stop-color="#d7634f"/><stop offset="0.4800" stop-color="#c94741"/><stop offset="0.4817" stop-color="#b82531"/><stop offset="0.4833" stop-color="#9f1228"/><stop offset="0.4850" stop-color="#960f27"/><stop offset="0.4883" stop-color="#ab162a"/><stop offset="0.4917" stop-color="#b61f2e"/><stop offset="0.4983" stop-color="#ba2832"/><stop offset="0.5017" stop-color="#bd2d35"/><stop offset="0.5067" stop-color="#c6413e"/><stop offset="0.5217" stop-color="#dc6e57"/><stop offset="0.5283" stop-color="#e58368"/><stop offset="0.5317" stop-color="#eb9172"/><stop offset="0.5383" stop-color="#f5a886"/><stop offset="0.5550" stop-color="#fcdecd"/><stop offset="0.5667" stop-color="#f8f3f0"/><stop offset="0.5708" stop-color="#f2f5f6"/><stop offset="0.5875" stop-color="#d1e5f0"/><stop offset="0.6000" stop-color="#b3d6e8"/><stop offset="0.6125" stop-color="#a2cde3"/><stop offset="0.6375" stop-color="#96c7df"/><stop offset="0.7333" stop-color="#90c4dd"/><stop offset="0.8833" stop-color="#90c4dd"/><stop offset="0.9833" stop-color="#8dc2dc"/><stop offset="1.0000" stop-color="#8dc2dc"/></linearGradient><linearGradient id="c8" gradientUnits="userSpaceOnUse" x1="926.65" x2="1298.95"><stop offset="0.0000" stop-color="#78b4d5"/><stop offset="0.3583" stop-color="#78b4d5"/><stop offset="0.3833" stop-color="#84bcd9"/><stop offset="0.3917" stop-color="#8dc2dc"/><stop offset="0.4042" stop-color="#a5cee3"/><stop offset="0.4167" stop-color="#c5dfec"/><stop offset="0.4350" stop-color="#f5f6f7"/><stop offset="0.4433" stop-color="#fae8de"/><stop offset="0.4517" stop-color="#fcd5bf"/><stop offset="0.4583" stop-color="#f8bb9e"/><stop offset="0.4650" stop-color="#f4a683"/><stop offset="0.4767" stop-color="#e17860"/><stop offset="0.4792" stop-color="#da6853"/><stop offset="0.4817" stop-color="#c84440"/><stop offset="0.4833" stop-color="#b72230"/><stop offset="0.4850" stop-color="#9f1228"/><stop offset="0.4867" stop-color="#9c1127"/><stop offset="0.4883" stop-color="#a81529"/><stop offset="0.4917" stop-color="#b41c2d"/><stop offset="0.4967" stop-color="#b82531"/><stop offset="0.5000" stop-color="#b82531"/><stop offset="0.5117" stop-color="#cf5246"/><stop offset="0.5167" stop-color="#d6604d"/><stop offset="0.5300" stop-color="#eb9172"/><stop offset="0.5383" stop-color="#f6b191"/><stop offset="0.5450" stop-color="#fac8af"/><stop offset="0.5517" stop-color="#fcdecd"/><stop offset="0.5633" stop-color="#f7f6f6"/><stop offset="0.5833" stop-color="#c5dfec"/><stop offset="0.5917" stop-color="#acd2e5"/><stop offset="0.6083" stop-color="#8dc2dc"/><stop offset="0.6208" stop-color="#7eb8d7"/><stop offset="0.6333" stop-color="#78b4d5"/><stop offset="0.7000" stop-color="#71b0d3"/><stop offset="0.9167" stop-color="#6eaed2"/><stop offset="1.0000" stop-color="#6bacd1"/></linearGradient><linearGradient id="c9" gradientUnits="userSpaceOnUse" x1="926.65" x2="1298.95"><stop offset="0.0000" stop-color="#5ca3cb"/><stop offset="0.3500" stop-color="#5ca3cb"/><stop offset="0.3792" stop-color="#65a9cf"/><stop offset="0.3917" stop-color="#71b0d3"/><stop offset="0.4042" stop-color="#8ac0db"/><stop offset="0.4167" stop-color="#acd2e5"/><stop offset="0.4333" stop-color="#e3edf3"/><stop offset="0.4400" stop-color="#f6f7f7"/><stop offset="0.4550" stop-color="#fcd5bf"/><stop offset="0.4617" stop-color="#f7b99c"/><stop offset="0.4683" stop-color="#f2a17f"/><stop offset="0.4800" stop-color="#dc6e57"/><stop offset="0.4833" stop-color="#c6413e"/><stop offset="0.4850" stop-color="#b72230"/><stop offset="0.4867" stop-color="#a21328"/><stop offset="0.4875" stop-color="#9f1228"/><stop offset="0.4900" stop-color="#ae172a"/><stop offset="0.4950" stop-color="#b72230"/><stop offset="0.5000" stop-color="#b82531"/><stop offset="0.5083" stop-color="#c94741"/><stop offset="0.5208" stop-color="#de735c"/><stop offset="0.5333" stop-color="#f5a886"/><stop offset="0.5367" stop-color="#f6b394"/><stop offset="0.5467" stop-color="#fddbc7"/><stop offset="0.5600" stop-color="#f6f7f7"/><stop offset="0.5750" stop-color="#cae1ee"/><stop offset="0.5792" stop-color="#b8d8e9"/><stop offset="0.5958" stop-color="#87beda"/><stop offset="0.6083" stop-color="#6eaed2"/><stop offset="0.6250" stop-color="#5fa5cd"/><stop offset="0.6583" stop-color="#59a1ca"/><stop offset="0.7667" stop-color="#569fc9"/><stop offset="0.8000" stop-color="#529dc8"/><stop offset="1.0000" stop-color="#4f9bc7"/></linearGradient><linearGradient id="c10" gradientUnits="userSpaceOnUse" x1="926.65" x2="1298.95"><stop offset="0.0000" stop-color="#4291c2"/><stop offset="0.3583" stop-color="#4393c3"/><stop offset="0.3833" stop-color="#4c99c6"/><stop offset="0.3917" stop-color="#529dc8"/><stop offset="0.4042" stop-color="#68abd0"/><stop offset="0.4167" stop-color="#90c4dd"/><stop offset="0.4250" stop-color="#aed3e6"/><stop offset="0.4333" stop-color="#d4e6f1"/><stop offset="0.4450" stop-color="#f7f6f6"/><stop offset="0.4583" stop-color="#fcd5bf"/><stop offset="0.4683" stop-color="#f5aa89"/><stop offset="0.4717" stop-color="#f09c7b"/><stop offset="0.4800" stop-color="#df765e"/><stop offset="0.4817" stop-color="#db6b55"/><stop offset="0.4833" stop-color="#d25849"/><stop offset="0.4867" stop-color="#b61f2e"/><stop offset="0.4875" stop-color="#ae172a"/><stop offset="0.4883" stop-color="#a81529"/><stop offset="0.4917" stop-color="#b3192c"/><stop offset="0.4967" stop-color="#b82531"/><stop offset="0.5000" stop-color="#b82531"/><stop offset="0.5067" stop-color="#c84440"/><stop offset="0.5167" stop-color="#db6b55"/><stop offset="0.5283" stop-color="#f09c7b"/><stop offset="0.5350" stop-color="#f7b799"/><stop offset="0.5433" stop-color="#fddbc7"/><stop offset="0.5550" stop-color="#f7f6f6"/><stop offset="0.5667" stop-color="#d2e6f0"/><stop offset="0.5833" stop-color="#8dc2dc"/><stop offset="0.5958" stop-color="#65a9cf"/><stop offset="0.6083" stop-color="#4f9bc7"/><stop offset="0.6292" stop-color="#4393c3"/><stop offset="0.7500" stop-color="#3f8ec0"/><stop offset="1.0000" stop-color="#3b88be"/></linearGradient><linearGradient id="c11" gradientUnits="userSpaceOnUse" x1="926.65" x2="1298.95"><stop offset="0.0000" stop-color="#3a87bd"/><stop offset="0.3583" stop-color="#3c8abe"/><stop offset="0.3917" stop-color="#4393c3"/><stop offset="0.4042" stop-color="#569fc9"/><stop offset="0.4125" stop-color="#6eaed2"/><stop offset="0.4292" stop-color="#b1d5e7"/><stop offset="0.4350" stop-color="#cfe4ef"/><stop offset="0.4467" stop-color="#f5f6f7"/><stop offset="0.4583" stop-color="#fddbc7"/><stop offset="0.4700" stop-color="#f5a886"/><stop offset="0.4800" stop-color="#e27b62"/><stop offset="0.4833" stop-color="#d86551"/><stop offset="0.4850" stop-color="#cf5246"/><stop offset="0.4883" stop-color="#b3192c"/><stop offset="0.4900" stop-color="#a51429"/><stop offset="0.4933" stop-color="#b3192c"/><stop offset="0.4967" stop-color="#b72230"/><stop offset="0.5000" stop-color="#b72230"/><stop offset="0.5083" stop-color="#cb4942"/><stop offset="0.5167" stop-color="#db6b55"/><stop offset="0.5283" stop-color="#f2a17f"/><stop offset="0.5350" stop-color="#f8bda1"/><stop offset="0.5417" stop-color="#fddbc7"/><stop offset="0.5533" stop-color="#f5f6f7"/><stop offset="0.5650" stop-color="#cce2ef"/><stop offset="0.5750" stop-color="#9dcbe1"/><stop offset="0.5875" stop-color="#6bacd1"/><stop offset="0.6000" stop-color="#4c99c6"/><stop offset="0.6125" stop-color="#408fc1"/><stop offset="0.6458" stop-color="#3b88be"/><stop offset="1.0000" stop-color="#337eb8"/></linearGradient><linearGradient id="c12" gradientUnits="userSpaceOnUse" x1="926.65" x2="1298.95"><stop offset="0.0000" stop-color="#307ab6"/><stop offset="0.3542" stop-color="#3681ba"/><stop offset="0.3917" stop-color="#3c8abe"/><stop offset="0.4042" stop-color="#4695c4"/><stop offset="0.4125" stop-color="#5ca3cb"/><stop offset="0.4250" stop-color="#8dc2dc"/><stop offset="0.4367" stop-color="#c5dfec"/><stop offset="0.4400" stop-color="#d4e6f1"/><stop offset="0.4500" stop-color="#f6f7f7"/><stop offset="0.4625" stop-color="#fcd5bf"/><stop offset="0.4683" stop-color="#f7b99c"/><stop offset="0.4750" stop-color="#f09c7b"/><stop offset="0.4833" stop-color="#dd7059"/><stop offset="0.4850" stop-color="#d7634f"/><stop offset="0.4900" stop-color="#b3192c"/><stop offset="0.4917" stop-color="#ae172a"/><stop offset="0.4967" stop-color="#b72230"/><stop offset="0.5000" stop-color="#b72230"/><stop offset="0.5042" stop-color="#c2383a"/><stop offset="0.5100" stop-color="#d05548"/><stop offset="0.5150" stop-color="#db6b55"/><stop offset="0.5233" stop-color="#eb9172"/><stop offset="0.5267" stop-color="#f3a481"/><stop offset="0.5350" stop-color="#fac8af"/><stop offset="0.5383" stop-color="#fdd9c4"/><stop offset="0.5500" stop-color="#f6f7f7"/><stop offset="0.5625" stop-color="#cae1ee"/><stop offset="0.5708" stop-color="#a0cce2"/><stop offset="0.5833" stop-color="#68abd0"/><stop offset="0.5958" stop-color="#4695c4"/><stop offset="0.6083" stop-color="#3b88be"/><stop offset="0.6417" stop-color="#3480b9"/><stop offset="0.8667" stop-color="#2c75b4"/><stop offset="1.0000" stop-color="#2a71b2"/></linearGradient><linearGradient id="c13" gradientUnits="userSpaceOnUse" x1="926.65" x2="1298.95"><stop offset="0.0000" stop-color="#2a71b2"/><stop offset="0.3333" stop-color="#307ab6"/><stop offset="0.3875" stop-color="#3783bb"/><stop offset="0.4042" stop-color="#408fc1"/><stop offset="0.4083" stop-color="#4695c4"/><stop offset="0.4208" stop-color="#6eaed2"/><stop offset="0.4383" stop-color="#c0dceb"/><stop offset="0.4417" stop-color="#d2e6f0"/><stop offset="0.4517" stop-color="#f5f6f7"/><stop offset="0.4583" stop-color="#fae7dc"/><stop offset="0.4633" stop-color="#fdd9c4"/><stop offset="0.4733" stop-color="#f5a886"/><stop offset="0.4817" stop-color="#e37e64"/><stop offset="0.4850" stop-color="#da6853"/><stop offset="0.4867" stop-color="#d25849"/><stop offset="0.4900" stop-color="#ba2832"/><stop offset="0.4917" stop-color="#ae172a"/><stop offset="0.5000" stop-color="#b61f2e"/><stop offset="0.5083" stop-color="#cc4c44"/><stop offset="0.5150" stop-color="#db6b55"/><stop offset="0.5267" stop-color="#f5a886"/><stop offset="0.5375" stop-color="#fddcc9"/><stop offset="0.5467" stop-color="#f8f4f2"/><stop offset="0.5483" stop-color="#f5f6f7"/><stop offset="0.5583" stop-color="#d1e5f0"/><stop offset="0.5708" stop-color="#93c6de"/><stop offset="0.5792" stop-color="#6bacd1"/><stop offset="0.5917" stop-color="#4393c3"/><stop offset="0.6125" stop-color="#3681ba"/><stop offset="0.6625" stop-color="#2f79b5"/><stop offset="0.9000" stop-color="#266caf"/><stop offset="1.0000" stop-color="#2369ad"/></linearGradient><linearGradient id="c14" gradientUnits="userSpaceOnUse" x1="926.65" x2="1298.95"><stop offset="0.0000" stop-color="#2267ac"/><stop offset="0.3000" stop-color="#2a71b2"/><stop offset="0.3792" stop-color="#307ab6"/><stop offset="0.4042" stop-color="#3b88be"/><stop offset="0.4125" stop-color="#4393c3"/><stop offset="0.4208" stop-color="#5ca3cb"/><stop offset="0.4383" stop-color="#aed3e6"/><stop offset="0.4458" stop-color="#d5e7f1"/><stop offset="0.4550" stop-color="#f6f7f7"/><stop offset="0.4667" stop-color="#fcd5bf"/><stop offset="0.4767" stop-color="#f2a17f"/><stop offset="0.4850" stop-color="#de735c"/><stop offset="0.4875" stop-color="#d55d4c"/><stop offset="0.4917" stop-color="#b72230"/><stop offset="0.4933" stop-color="#ae172a"/><stop offset="0.4983" stop-color="#b61f2e"/><stop offset="0.5000" stop-color="#b61f2e"/><stop offset="0.5100" stop-color="#d25849"/><stop offset="0.5133" stop-color="#da6853"/><stop offset="0.5250" stop-color="#f5aa89"/><stop offset="0.5350" stop-color="#fddcc9"/><stop offset="0.5450" stop-color="#f6f7f7"/><stop offset="0.5567" stop-color="#cae1ee"/><stop offset="0.5650" stop-color="#9dcbe1"/><stop offset="0.5750" stop-color="#6bacd1"/><stop offset="0.5833" stop-color="#4c99c6"/><stop offset="0.5875" stop-color="#4291c2"/><stop offset="0.6042" stop-color="#3480b9"/><stop offset="0.6458" stop-color="#2b73b3"/><stop offset="0.8833" stop-color="#1f63a8"/><stop offset="1.0000" stop-color="#1c5c9f"/></linearGradient><linearGradient id="c15" gradientUnits="userSpaceOnUse" x1="926.65" x2="1298.95"><stop offset="0.0000" stop-color="#1c5c9f"/><stop offset="0.2667" stop-color="#2369ad"/><stop offset="0.3708" stop-color="#2a71b2"/><stop offset="0.4000" stop-color="#337eb8"/><stop offset="0.4167" stop-color="#4291c2"/><stop offset="0.4208" stop-color="#4c99c6"/><stop offset="0.4350" stop-color="#8ac0db"/><stop offset="0.4483" stop-color="#d2e6f0"/><stop offset="0.4583" stop-color="#f7f6f6"/><stop offset="0.4683" stop-color="#fdd9c4"/><stop offset="0.4783" stop-color="#f3a481"/><stop offset="0.4867" stop-color="#dd7059"/><stop offset="0.4900" stop-color="#cc4c44"/><stop offset="0.4933" stop-color="#b61f2e"/><stop offset="0.4950" stop-color="#b3192c"/><stop offset="0.4983" stop-color="#b72230"/><stop offset="0.5000" stop-color="#b72230"/><stop offset="0.5125" stop-color="#db6b55"/><stop offset="0.5233" stop-color="#f5ac8b"/><stop offset="0.5317" stop-color="#fdd9c4"/><stop offset="0.5417" stop-color="#f7f6f6"/><stop offset="0.5533" stop-color="#cae1ee"/><stop offset="0.5617" stop-color="#9bc9e0"/><stop offset="0.5708" stop-color="#6bacd1"/><stop offset="0.5792" stop-color="#4997c5"/><stop offset="0.5875" stop-color="#3b88be"/><stop offset="0.6125" stop-color="#2c75b4"/><stop offset="0.6667" stop-color="#246aae"/><stop offset="0.7667" stop-color="#1e61a5"/><stop offset="1.0000" stop-color="#175290"/></linearGradient><linearGradient id="c16" gradientUnits="userSpaceOnUse" x1="926.65" x2="1298.95"><stop offset="0.0000" stop-color="#195696"/><stop offset="0.2167" stop-color="#1e61a5"/><stop offset="0.3167" stop-color="#2369ad"/><stop offset="0.3583" stop-color="#266caf"/><stop offset="0.3958" stop-color="#2e77b5"/><stop offset="0.4167" stop-color="#3c8abe"/><stop offset="0.4250" stop-color="#4c99c6"/><stop offset="0.4350" stop-color="#7bb6d6"/><stop offset="0.4483" stop-color="#c2ddec"/><stop offset="0.4533" stop-color="#dae9f2"/><stop offset="0.4600" stop-color="#f5f6f7"/><stop offset="0.4650" stop-color="#faeae1"/><stop offset="0.4708" stop-color="#fcd7c2"/><stop offset="0.4717" stop-color="#fbd0b9"/><stop offset="0.4800" stop-color="#f3a481"/><stop offset="0.4850" stop-color="#e48066"/><stop offset="0.4883" stop-color="#da6853"/><stop offset="0.4900" stop-color="#d25849"/><stop offset="0.4933" stop-color="#bb2a34"/><stop offset="0.4950" stop-color="#b41c2d"/><stop offset="0.5000" stop-color="#b72230"/><stop offset="0.5050" stop-color="#c6413e"/><stop offset="0.5117" stop-color="#db6b55"/><stop offset="0.5208" stop-color="#f4a683"/><stop offset="0.5283" stop-color="#fbd0b9"/><stop offset="0.5300" stop-color="#fddbc7"/><stop offset="0.5383" stop-color="#f8f4f2"/><stop offset="0.5400" stop-color="#f5f6f7"/><stop offset="0.5500" stop-color="#cce2ef"/><stop offset="0.5567" stop-color="#a5cee3"/><stop offset="0.5650" stop-color="#78b4d5"/><stop offset="0.5708" stop-color="#5ca3cb"/><stop offset="0.5792" stop-color="#408fc1"/><stop offset="0.5958" stop-color="#327cb7"/><stop offset="0.6208" stop-color="#276eb0"/><stop offset="0.7167" stop-color="#1e61a5"/><stop offset="0.9333" stop-color="#144e8a"/><stop offset="1.0000" stop-color="#124984"/></linearGradient><linearGradient id="c17" gradientUnits="userSpaceOnUse" x1="926.65" x2="1298.95"><stop offset="0.0000" stop-color="#175290"/><stop offset="0.2500" stop-color="#1e61a5"/><stop offset="0.3667" stop-color="#266caf"/><stop offset="0.3917" stop-color="#2b73b3"/><stop offset="0.4167" stop-color="#3b88be"/><stop offset="0.4250" stop-color="#4997c5"/><stop offset="0.4350" stop-color="#71b0d3"/><stop offset="0.4467" stop-color="#b1d5e7"/><stop offset="0.4550" stop-color="#dbeaf2"/><stop offset="0.4617" stop-color="#f5f6f7"/><stop offset="0.4717" stop-color="#fdd9c4"/><stop offset="0.4800" stop-color="#f5a886"/><stop offset="0.4883" stop-color="#dc6e57"/><stop offset="0.4900" stop-color="#d6604d"/><stop offset="0.4950" stop-color="#b72230"/><stop offset="0.4958" stop-color="#b41c2d"/><stop offset="0.5000" stop-color="#b72230"/><stop offset="0.5050" stop-color="#c6413e"/><stop offset="0.5117" stop-color="#dc6e57"/><stop offset="0.5208" stop-color="#f5ac8b"/><stop offset="0.5292" stop-color="#fddcc9"/><stop offset="0.5375" stop-color="#f7f6f6"/><stop offset="0.5483" stop-color="#cce2ef"/><stop offset="0.5542" stop-color="#a9d1e5"/><stop offset="0.5633" stop-color="#7bb6d6"/><stop offset="0.5667" stop-color="#68abd0"/><stop offset="0.5750" stop-color="#4695c4"/><stop offset="0.5917" stop-color="#337eb8"/><stop offset="0.6167" stop-color="#276eb0"/><stop offset="0.7000" stop-color="#1e61a5"/><stop offset="0.8333" stop-color="#175290"/><stop offset="1.0000" stop-color="#114781"/></linearGradient><linearGradient id="c18" gradientUnits="userSpaceOnUse" x1="926.65" x2="1298.95"><stop offset="0.0000" stop-color="#144e8a"/><stop offset="0.2000" stop-color="#1a5899"/><stop offset="0.3708" stop-color="#246aae"/><stop offset="0.4000" stop-color="#2e77b5"/><stop offset="0.4167" stop-color="#3a87bd"/><stop offset="0.4250" stop-color="#4695c4"/><stop offset="0.4350" stop-color="#6eaed2"/><stop offset="0.4500" stop-color="#bbdaea"/><stop offset="0.4542" stop-color="#d2e6f0"/><stop offset="0.4633" stop-color="#f6f7f7"/><stop offset="0.4733" stop-color="#fcd7c2"/><stop offset="0.4817" stop-color="#f3a481"/><stop offset="0.4883" stop-color="#de735c"/><stop offset="0.4917" stop-color="#d05548"/><stop offset="0.4958" stop-color="#b82531"/><stop offset="0.4967" stop-color="#b61f2e"/><stop offset="0.5000" stop-color="#b72230"/><stop offset="0.5100" stop-color="#da6853"/><stop offset="0.5183" stop-color="#f3a481"/><stop offset="0.5267" stop-color="#fcd7c2"/><stop offset="0.5367" stop-color="#f6f7f7"/><stop offset="0.5467" stop-color="#cfe4ef"/><stop offset="0.5533" stop-color="#a7d0e4"/><stop offset="0.5600" stop-color="#84bcd9"/><stop offset="0.5708" stop-color="#529dc8"/><stop offset="0.5750" stop-color="#4393c3"/><stop offset="0.5958" stop-color="#2f79b5"/><stop offset="0.6208" stop-color="#246aae"/><stop offset="0.6625" stop-color="#1f63a8"/><stop offset="0.7500" stop-color="#195696"/><stop offset="0.9667" stop-color="#0f437b"/><stop offset="1.0000" stop-color="#0e4179"/></linearGradient><linearGradient id="c19" gradientUnits="userSpaceOnUse" x1="926.65" x2="1298.95"><stop offset="0.0000" stop-color="#114781"/><stop offset="0.1000" stop-color="#134c87"/><stop offset="0.3000" stop-color="#1c5c9f"/><stop offset="0.3542" stop-color="#1f63a8"/><stop offset="0.3958" stop-color="#2870b1"/><stop offset="0.4125" stop-color="#337eb8"/><stop offset="0.4250" stop-color="#408fc1"/><stop offset="0.4350" stop-color="#62a7ce"/><stop offset="0.4450" stop-color="#96c7df"/><stop offset="0.4583" stop-color="#dbeaf2"/><stop offset="0.4650" stop-color="#f6f7f7"/><stop offset="0.4733" stop-color="#fdddcb"/><stop offset="0.4783" stop-color="#f9c2a7"/><stop offset="0.4833" stop-color="#f2a17f"/><stop offset="0.4917" stop-color="#d6604d"/><stop offset="0.4958" stop-color="#be3036"/><stop offset="0.4967" stop-color="#ba2832"/><stop offset="0.4983" stop-color="#b82531"/><stop offset="0.5000" stop-color="#ba2832"/><stop offset="0.5050" stop-color="#cb4942"/><stop offset="0.5083" stop-color="#d7634f"/><stop offset="0.5125" stop-color="#e48066"/><stop offset="0.5133" stop-color="#e8896c"/><stop offset="0.5183" stop-color="#f5ac8b"/><stop offset="0.5217" stop-color="#f9c2a7"/><stop offset="0.5283" stop-color="#fbe3d4"/><stop offset="0.5350" stop-color="#f5f6f7"/><stop offset="0.5458" stop-color="#c7e0ed"/><stop offset="0.5542" stop-color="#98c8e0"/><stop offset="0.5667" stop-color="#59a1ca"/><stop offset="0.5708" stop-color="#4997c5"/><stop offset="0.5792" stop-color="#3a87bd"/><stop offset="0.6000" stop-color="#2a71b2"/><stop offset="0.6333" stop-color="#1f63a8"/><stop offset="0.7000" stop-color="#1a5899"/><stop offset="0.8167" stop-color="#124984"/><stop offset="1.0000" stop-color="#0a3b70"/></linearGradient><linearGradient id="c20" gradientUnits="userSpaceOnUse" x1="926.65" x2="1298.95"><stop offset="0.0000" stop-color="#124984"/><stop offset="0.1167" stop-color="#15508d"/><stop offset="0.2667" stop-color="#1c5c9f"/><stop offset="0.3542" stop-color="#2267ac"/><stop offset="0.3958" stop-color="#2a71b2"/><stop offset="0.4208" stop-color="#3a87bd"/><stop offset="0.4292" stop-color="#4695c4"/><stop offset="0.4383" stop-color="#6bacd1"/><stop offset="0.4500" stop-color="#a9d1e5"/><stop offset="0.4583" stop-color="#d7e8f1"/><stop offset="0.4650" stop-color="#f2f5f6"/><stop offset="0.4667" stop-color="#f7f5f4"/><stop offset="0.4750" stop-color="#fdd9c4"/><stop offset="0.4833" stop-color="#f3a481"/><stop offset="0.4917" stop-color="#d6604d"/><stop offset="0.4967" stop-color="#bb2a34"/><stop offset="0.4983" stop-color="#b61f2e"/><stop offset="0.5000" stop-color="#b72230"/><stop offset="0.5033" stop-color="#c2383a"/><stop offset="0.5083" stop-color="#d6604d"/><stop offset="0.5183" stop-color="#f5ac8b"/><stop offset="0.5233" stop-color="#fbceb7"/><stop offset="0.5267" stop-color="#fcdfcf"/><stop offset="0.5333" stop-color="#f7f5f4"/><stop offset="0.5375" stop-color="#e7f0f4"/><stop offset="0.5450" stop-color="#c5dfec"/><stop offset="0.5533" stop-color="#96c7df"/><stop offset="0.5600" stop-color="#71b0d3"/><stop offset="0.5708" stop-color="#4695c4"/><stop offset="0.5792" stop-color="#3a87bd"/><stop offset="0.6000" stop-color="#2a71b2"/><stop offset="0.6417" stop-color="#2065ab"/><stop offset="0.7667" stop-color="#175290"/><stop offset="0.9667" stop-color="#0d3f76"/><stop offset="1.0000" stop-color="#0c3d73"/></linearGradient><linearGradient id="c21" gradientUnits="userSpaceOnUse" x1="926.65" x2="1298.95"><stop offset="0.0000" stop-color="#114781"/><stop offset="0.1667" stop-color="#175290"/><stop offset="0.3333" stop-color="#1f63a8"/><stop offset="0.3917" stop-color="#276eb0"/><stop offset="0.4167" stop-color="#327cb7"/><stop offset="0.4333" stop-color="#4695c4"/><stop offset="0.4433" stop-color="#71b0d3"/><stop offset="0.4567" stop-color="#bddbea"/><stop offset="0.4600" stop-color="#d2e6f0"/><stop offset="0.4683" stop-color="#f6f7f7"/><stop offset="0.4767" stop-color="#fdd9c4"/><stop offset="0.4850" stop-color="#f19e7d"/><stop offset="0.4900" stop-color="#df765e"/><stop offset="0.4933" stop-color="#d05548"/><stop offset="0.4967" stop-color="#be3036"/><stop offset="0.4983" stop-color="#b72230"/><stop offset="0.5000" stop-color="#b72230"/><stop offset="0.5083" stop-color="#d86551"/><stop offset="0.5150" stop-color="#f19e7d"/><stop offset="0.5208" stop-color="#fac8af"/><stop offset="0.5233" stop-color="#fdd9c4"/><stop offset="0.5317" stop-color="#f6f7f7"/><stop offset="0.5417" stop-color="#c7e0ed"/><stop offset="0.5467" stop-color="#a9d1e5"/><stop offset="0.5567" stop-color="#6eaed2"/><stop offset="0.5625" stop-color="#569fc9"/><stop offset="0.5633" stop-color="#4f9bc7"/><stop offset="0.5667" stop-color="#4393c3"/><stop offset="0.5833" stop-color="#307ab6"/><stop offset="0.6125" stop-color="#246aae"/><stop offset="0.6500" stop-color="#1f63a8"/><stop offset="0.8333" stop-color="#124984"/><stop offset="1.0000" stop-color="#0a3b70"/></linearGradient><linearGradient id="c22" gradientUnits="userSpaceOnUse" x1="926.65" x2="1298.95"><stop offset="0.0000" stop-color="#134c87"/><stop offset="0.1333" stop-color="#185493"/><stop offset="0.2667" stop-color="#1e61a5"/><stop offset="0.3500" stop-color="#246aae"/><stop offset="0.4042" stop-color="#2c75b4"/><stop offset="0.4208" stop-color="#3480b9"/><stop offset="0.4350" stop-color="#4393c3"/><stop offset="0.4467" stop-color="#75b2d4"/><stop offset="0.4533" stop-color="#9dcbe1"/><stop offset="0.4567" stop-color="#aed3e6"/><stop offset="0.4625" stop-color="#d4e6f1"/><stop offset="0.4700" stop-color="#f6f7f7"/><stop offset="0.4767" stop-color="#fcdecd"/><stop offset="0.4833" stop-color="#f6b191"/><stop offset="0.4850" stop-color="#f3a481"/><stop offset="0.4933" stop-color="#d25849"/><stop offset="0.4967" stop-color="#be3036"/><stop offset="0.4983" stop-color="#b72230"/><stop offset="0.5000" stop-color="#b61f2e"/><stop offset="0.5033" stop-color="#c2383a"/><stop offset="0.5083" stop-color="#d86551"/><stop offset="0.5150" stop-color="#f3a481"/><stop offset="0.5217" stop-color="#fcd5bf"/><stop offset="0.5283" stop-color="#f8f1ed"/><stop offset="0.5300" stop-color="#f6f7f7"/><stop offset="0.5383" stop-color="#cfe4ef"/><stop offset="0.5467" stop-color="#9bc9e0"/><stop offset="0.5500" stop-color="#87beda"/><stop offset="0.5550" stop-color="#6bacd1"/><stop offset="0.5650" stop-color="#4393c3"/><stop offset="0.5750" stop-color="#3783bb"/><stop offset="0.6000" stop-color="#2a71b2"/><stop offset="0.7000" stop-color="#1e61a5"/><stop offset="0.7833" stop-color="#185493"/><stop offset="0.9667" stop-color="#0e4179"/><stop offset="1.0000" stop-color="#0d3f76"/></linearGradient><linearGradient id="c23" gradientUnits="userSpaceOnUse" x1="926.65" x2="1298.95"><stop offset="0.0000" stop-color="#124984"/><stop offset="0.1667" stop-color="#195696"/><stop offset="0.3167" stop-color="#2267ac"/><stop offset="0.4000" stop-color="#2a71b2"/><stop offset="0.4292" stop-color="#3783bb"/><stop offset="0.4383" stop-color="#4291c2"/><stop offset="0.4458" stop-color="#5ca3cb"/><stop offset="0.4517" stop-color="#7bb6d6"/><stop offset="0.4625" stop-color="#c0dceb"/><stop offset="0.4667" stop-color="#dae9f2"/><stop offset="0.4717" stop-color="#f3f5f6"/><stop offset="0.4733" stop-color="#f8f4f2"/><stop offset="0.4800" stop-color="#fcd7c2"/><stop offset="0.4850" stop-color="#f6af8e"/><stop offset="0.4917" stop-color="#dd7059"/><stop offset="0.4958" stop-color="#c84440"/><stop offset="0.4967" stop-color="#c2383a"/><stop offset="0.4983" stop-color="#ba2832"/><stop offset="0.5000" stop-color="#b72230"/><stop offset="0.5050" stop-color="#ce4f45"/><stop offset="0.5083" stop-color="#dc6e57"/><stop offset="0.5133" stop-color="#f2a17f"/><stop offset="0.5183" stop-color="#facab1"/><stop offset="0.5217" stop-color="#fcdfcf"/><stop offset="0.5267" stop-color="#f8f4f2"/><stop offset="0.5300" stop-color="#eaf1f5"/><stop offset="0.5350" stop-color="#d1e5f0"/><stop offset="0.5417" stop-color="#a5cee3"/><stop offset="0.5517" stop-color="#68abd0"/><stop offset="0.5583" stop-color="#4997c5"/><stop offset="0.5625" stop-color="#3f8ec0"/><stop offset="0.5792" stop-color="#307ab6"/><stop offset="0.6083" stop-color="#276eb0"/><stop offset="0.6833" stop-color="#1f63a8"/><stop offset="0.7833" stop-color="#185493"/><stop offset="0.9500" stop-color="#0e4179"/><stop offset="1.0000" stop-color="#0c3d73"/></linearGradient><linearGradient id="c24" gradientUnits="userSpaceOnUse" x1="926.65" x2="1298.95"><stop offset="0.0000" stop-color="#134c87"/><stop offset="0.1833" stop-color="#1b5a9c"/><stop offset="0.3167" stop-color="#2369ad"/><stop offset="0.4042" stop-color="#2c75b4"/><stop offset="0.4333" stop-color="#3885bc"/><stop offset="0.4433" stop-color="#4695c4"/><stop offset="0.4500" stop-color="#62a7ce"/><stop offset="0.4583" stop-color="#93c6de"/><stop offset="0.4683" stop-color="#d7e8f1"/><stop offset="0.4733" stop-color="#f0f4f6"/><stop offset="0.4750" stop-color="#f8f4f2"/><stop offset="0.4800" stop-color="#fcdfcf"/><stop offset="0.4833" stop-color="#f9c6ac"/><stop offset="0.4875" stop-color="#f2a17f"/><stop offset="0.4950" stop-color="#cf5246"/><stop offset="0.4967" stop-color="#c43b3c"/><stop offset="0.4983" stop-color="#bb2a34"/><stop offset="0.5000" stop-color="#b72230"/><stop offset="0.5067" stop-color="#d7634f"/><stop offset="0.5133" stop-color="#f5a886"/><stop offset="0.5183" stop-color="#fcd5bf"/><stop offset="0.5217" stop-color="#fbe6da"/><stop offset="0.5250" stop-color="#f8f4f2"/><stop offset="0.5267" stop-color="#f0f4f6"/><stop offset="0.5333" stop-color="#cce2ef"/><stop offset="0.5400" stop-color="#9dcbe1"/><stop offset="0.5483" stop-color="#68abd0"/><stop offset="0.5567" stop-color="#4393c3"/><stop offset="0.5708" stop-color="#3480b9"/><stop offset="0.6042" stop-color="#2a71b2"/><stop offset="0.7167" stop-color="#1e61a5"/><stop offset="0.8500" stop-color="#144e8a"/><stop offset="1.0000" stop-color="#0d3f76"/></linearGradient><linearGradient id="c25" gradientUnits="userSpaceOnUse" x1="926.65" x2="1298.95"><stop offset="0.0000" stop-color="#144e8a"/><stop offset="0.2000" stop-color="#1d5fa2"/><stop offset="0.2833" stop-color="#2369ad"/><stop offset="0.4000" stop-color="#2e77b5"/><stop offset="0.4292" stop-color="#3681ba"/><stop offset="0.4400" stop-color="#3e8cbf"/><stop offset="0.4450" stop-color="#4393c3"/><stop offset="0.4542" stop-color="#68abd0"/><stop offset="0.4650" stop-color="#aed3e6"/><stop offset="0.4708" stop-color="#d8e9f1"/><stop offset="0.4767" stop-color="#f7f5f4"/><stop offset="0.4817" stop-color="#fcdecd"/><stop offset="0.4883" stop-color="#f3a481"/><stop offset="0.4950" stop-color="#d05548"/><stop offset="0.4983" stop-color="#bd2d35"/><stop offset="0.5000" stop-color="#b72230"/><stop offset="0.5017" stop-color="#be3036"/><stop offset="0.5067" stop-color="#da6853"/><stop offset="0.5125" stop-color="#f5aa89"/><stop offset="0.5183" stop-color="#fcdecd"/><stop offset="0.5233" stop-color="#f7f5f4"/><stop offset="0.5300" stop-color="#d4e6f1"/><stop offset="0.5400" stop-color="#8ac0db"/><stop offset="0.5467" stop-color="#62a7ce"/><stop offset="0.5542" stop-color="#4393c3"/><stop offset="0.5667" stop-color="#3783bb"/><stop offset="0.6000" stop-color="#2c75b4"/><stop offset="0.7333" stop-color="#1e61a5"/><stop offset="0.9333" stop-color="#114781"/><stop offset="1.0000" stop-color="#0e4179"/></linearGradient><linearGradient id="c26" gradientUnits="userSpaceOnUse" x1="926.65" x2="1298.95"><stop offset="0.0000" stop-color="#144e8a"/><stop offset="0.1167" stop-color="#195696"/><stop offset="0.2667" stop-color="#2267ac"/><stop offset="0.4000" stop-color="#2e77b5"/><stop offset="0.4350" stop-color="#3783bb"/><stop offset="0.4467" stop-color="#4291c2"/><stop offset="0.4542" stop-color="#5ca3cb"/><stop offset="0.4567" stop-color="#68abd0"/><stop offset="0.4667" stop-color="#acd2e5"/><stop offset="0.4717" stop-color="#d4e6f1"/><stop offset="0.4767" stop-color="#f2f5f6"/><stop offset="0.4783" stop-color="#f8f3f0"/><stop offset="0.4833" stop-color="#fdd9c4"/><stop offset="0.4883" stop-color="#f5a886"/><stop offset="0.4933" stop-color="#db6b55"/><stop offset="0.4983" stop-color="#bd2d35"/><stop offset="0.5000" stop-color="#b72230"/><stop offset="0.5017" stop-color="#be3036"/><stop offset="0.5050" stop-color="#d05548"/><stop offset="0.5117" stop-color="#f4a683"/><stop offset="0.5167" stop-color="#fdd9c4"/><stop offset="0.5217" stop-color="#f8f3f0"/><stop offset="0.5233" stop-color="#f2f5f6"/><stop offset="0.5292" stop-color="#cfe4ef"/><stop offset="0.5333" stop-color="#acd2e5"/><stop offset="0.5375" stop-color="#90c4dd"/><stop offset="0.5383" stop-color="#87beda"/><stop offset="0.5450" stop-color="#5fa5cd"/><stop offset="0.5517" stop-color="#4393c3"/><stop offset="0.5633" stop-color="#3783bb"/><stop offset="0.5917" stop-color="#2e77b5"/><stop offset="0.7167" stop-color="#1f63a8"/><stop offset="0.9500" stop-color="#10457e"/><stop offset="1.0000" stop-color="#0e4179"/></linearGradient><linearGradient id="c27" gradientUnits="userSpaceOnUse" x1="926.65" x2="1298.95"><stop offset="0.0000" stop-color="#114781"/><stop offset="0.1500" stop-color="#185493"/><stop offset="0.3375" stop-color="#246aae"/><stop offset="0.4250" stop-color="#307ab6"/><stop offset="0.4433" stop-color="#3885bc"/><stop offset="0.4533" stop-color="#4695c4"/><stop offset="0.4600" stop-color="#68abd0"/><stop offset="0.4650" stop-color="#8ac0db"/><stop offset="0.4733" stop-color="#d1e5f0"/><stop offset="0.4792" stop-color="#f6f7f7"/><stop offset="0.4850" stop-color="#fcd7c2"/><stop offset="0.4883" stop-color="#f6b394"/><stop offset="0.4917" stop-color="#e98b6e"/><stop offset="0.4950" stop-color="#d6604d"/><stop offset="0.4983" stop-color="#c13639"/><stop offset="0.5000" stop-color="#ba2832"/><stop offset="0.5033" stop-color="#cb4942"/><stop offset="0.5067" stop-color="#de735c"/><stop offset="0.5100" stop-color="#f19e7d"/><stop offset="0.5133" stop-color="#f9c4a9"/><stop offset="0.5167" stop-color="#fce2d2"/><stop offset="0.5208" stop-color="#f6f7f7"/><stop offset="0.5267" stop-color="#d1e5f0"/><stop offset="0.5300" stop-color="#b1d5e7"/><stop offset="0.5383" stop-color="#71b0d3"/><stop offset="0.5417" stop-color="#5ca3cb"/><stop offset="0.5467" stop-color="#4695c4"/><stop offset="0.5542" stop-color="#3a87bd"/><stop offset="0.5708" stop-color="#307ab6"/><stop offset="0.6125" stop-color="#2870b1"/><stop offset="0.6833" stop-color="#2065ab"/><stop offset="0.8167" stop-color="#15508d"/><stop offset="0.9333" stop-color="#0e4179"/><stop offset="1.0000" stop-color="#0a3b70"/></linearGradient><linearGradient id="c28" gradientUnits="userSpaceOnUse" x1="926.65" x2="1298.95"><stop offset="0.0000" stop-color="#124984"/><stop offset="0.1167" stop-color="#175290"/><stop offset="0.2833" stop-color="#2065ab"/><stop offset="0.4083" stop-color="#307ab6"/><stop offset="0.4433" stop-color="#3b88be"/><stop offset="0.4533" stop-color="#4695c4"/><stop offset="0.4625" stop-color="#6bacd1"/><stop offset="0.4717" stop-color="#aed3e6"/><stop offset="0.4750" stop-color="#cfe4ef"/><stop offset="0.4800" stop-color="#f0f4f6"/><stop offset="0.4817" stop-color="#f8f2ef"/><stop offset="0.4850" stop-color="#fcdecd"/><stop offset="0.4883" stop-color="#f8bb9e"/><stop offset="0.4900" stop-color="#f5a886"/><stop offset="0.4950" stop-color="#d7634f"/><stop offset="0.4983" stop-color="#c2383a"/><stop offset="0.5000" stop-color="#bd2d35"/><stop offset="0.5017" stop-color="#c43b3c"/><stop offset="0.5050" stop-color="#d7634f"/><stop offset="0.5100" stop-color="#f5a886"/><stop offset="0.5150" stop-color="#fcdecd"/><stop offset="0.5183" stop-color="#f8f2ef"/><stop offset="0.5200" stop-color="#f0f4f6"/><stop offset="0.5250" stop-color="#cfe4ef"/><stop offset="0.5292" stop-color="#a7d0e4"/><stop offset="0.5375" stop-color="#6bacd1"/><stop offset="0.5450" stop-color="#4997c5"/><stop offset="0.5542" stop-color="#3c8abe"/><stop offset="0.5833" stop-color="#307ab6"/><stop offset="0.7000" stop-color="#2065ab"/><stop offset="0.8000" stop-color="#185493"/><stop offset="0.9667" stop-color="#0d3f76"/><stop offset="1.0000" stop-color="#0c3d73"/></linearGradient><linearGradient id="c29" gradientUnits="userSpaceOnUse" x1="926.65" x2="1298.95"><stop offset="0.0000" stop-color="#134c87"/><stop offset="0.1500" stop-color="#1a5899"/><stop offset="0.2667" stop-color="#2267ac"/><stop offset="0.3583" stop-color="#2c75b4"/><stop offset="0.4083" stop-color="#3885bc"/><stop offset="0.4292" stop-color="#4393c3"/><stop offset="0.4417" stop-color="#5fa5cd"/><stop offset="0.4483" stop-color="#75b2d4"/><stop offset="0.4617" stop-color="#b8d8e9"/><stop offset="0.4650" stop-color="#cfe4ef"/><stop offset="0.4733" stop-color="#f7f6f6"/><stop offset="0.4800" stop-color="#fcd7c2"/><stop offset="0.4867" stop-color="#f09c7b"/><stop offset="0.4917" stop-color="#db6b55"/><stop offset="0.4967" stop-color="#c6413e"/><stop offset="0.5000" stop-color="#be3036"/><stop offset="0.5033" stop-color="#c6413e"/><stop offset="0.5083" stop-color="#db6b55"/><stop offset="0.5133" stop-color="#f09c7b"/><stop offset="0.5208" stop-color="#fdddcb"/><stop offset="0.5267" stop-color="#f7f6f6"/><stop offset="0.5383" stop-color="#b8d8e9"/><stop offset="0.5467" stop-color="#8ac0db"/><stop offset="0.5567" stop-color="#62a7ce"/><stop offset="0.5667" stop-color="#4997c5"/><stop offset="0.5792" stop-color="#3e8cbf"/><stop offset="0.6083" stop-color="#327cb7"/><stop offset="0.7000" stop-color="#2267ac"/><stop offset="0.7833" stop-color="#1b5a9c"/><stop offset="0.8833" stop-color="#134c87"/><stop offset="1.0000" stop-color="#0d3f76"/></linearGradient><linearGradient id="c30" gradientUnits="userSpaceOnUse" x1="926.65" x2="1298.95"><stop offset="0.0000" stop-color="#114781"/><stop offset="0.1500" stop-color="#185493"/><stop offset="0.2500" stop-color="#1e61a5"/><stop offset="0.2833" stop-color="#2267ac"/><stop offset="0.3542" stop-color="#2e77b5"/><stop offset="0.3958" stop-color="#3c8abe"/><stop offset="0.4125" stop-color="#4c99c6"/><stop offset="0.4208" stop-color="#5ca3cb"/><stop offset="0.4400" stop-color="#98c8e0"/><stop offset="0.4467" stop-color="#b3d6e8"/><stop offset="0.4550" stop-color="#d7e8f1"/><stop offset="0.4633" stop-color="#f7f6f6"/><stop offset="0.4717" stop-color="#fddbc7"/><stop offset="0.4800" stop-color="#f3a481"/><stop offset="0.4867" stop-color="#dd7059"/><stop offset="0.4917" stop-color="#cf5246"/><stop offset="0.4983" stop-color="#c2383a"/><stop offset="0.5017" stop-color="#c2383a"/><stop offset="0.5083" stop-color="#cf5246"/><stop offset="0.5133" stop-color="#dd7059"/><stop offset="0.5208" stop-color="#f5a886"/><stop offset="0.5283" stop-color="#fddbc7"/><stop offset="0.5367" stop-color="#f6f7f7"/><stop offset="0.5483" stop-color="#cae1ee"/><stop offset="0.5550" stop-color="#a9d1e5"/><stop offset="0.5708" stop-color="#71b0d3"/><stop offset="0.5875" stop-color="#4997c5"/><stop offset="0.6000" stop-color="#3e8cbf"/><stop offset="0.6333" stop-color="#2f79b5"/><stop offset="0.7167" stop-color="#1f63a8"/><stop offset="0.8333" stop-color="#144e8a"/><stop offset="0.9500" stop-color="#0d3f76"/><stop offset="1.0000" stop-color="#0a3b70"/></linearGradient><linearGradient id="c31" gradientUnits="userSpaceOnUse" x1="926.65" x2="1298.95"><stop offset="0.0000" stop-color="#124984"/><stop offset="0.1000" stop-color="#175290"/><stop offset="0.2000" stop-color="#1c5c9f"/><stop offset="0.2667" stop-color="#2369ad"/><stop offset="0.3417" stop-color="#337eb8"/><stop offset="0.3792" stop-color="#4291c2"/><stop offset="0.3917" stop-color="#529dc8"/><stop offset="0.4083" stop-color="#75b2d4"/><stop offset="0.4292" stop-color="#b1d5e7"/><stop offset="0.4400" stop-color="#d5e7f1"/><stop offset="0.4517" stop-color="#f7f6f6"/><stop offset="0.4633" stop-color="#fcd5bf"/><stop offset="0.4717" stop-color="#f5a886"/><stop offset="0.4767" stop-color="#e6866a"/><stop offset="0.4850" stop-color="#d35a4a"/><stop offset="0.4917" stop-color="#c6413e"/><stop offset="0.4983" stop-color="#c2383a"/><stop offset="0.5033" stop-color="#c2383a"/><stop offset="0.5100" stop-color="#c94741"/><stop offset="0.5150" stop-color="#d35a4a"/><stop offset="0.5250" stop-color="#eb9172"/><stop offset="0.5292" stop-color="#f5ac8b"/><stop offset="0.5383" stop-color="#fddcc9"/><stop offset="0.5483" stop-color="#f7f6f6"/><stop offset="0.5650" stop-color="#c5dfec"/><stop offset="0.5708" stop-color="#aed3e6"/><stop offset="0.5917" stop-color="#75b2d4"/><stop offset="0.6125" stop-color="#4997c5"/><stop offset="0.6208" stop-color="#408fc1"/><stop offset="0.6667" stop-color="#2e77b5"/><stop offset="0.7333" stop-color="#2065ab"/><stop offset="0.8167" stop-color="#185493"/><stop offset="0.9500" stop-color="#0e4179"/><stop offset="1.0000" stop-color="#0c3d73"/></linearGradient><linearGradient id="c32" gradientUnits="userSpaceOnUse" x1="926.65" x2="1298.95"><stop offset="0.0000" stop-color="#144e8a"/><stop offset="0.1500" stop-color="#1c5c9f"/><stop offset="0.2167" stop-color="#2369ad"/><stop offset="0.2833" stop-color="#2f79b5"/><stop offset="0.3417" stop-color="#4291c2"/><stop offset="0.3542" stop-color="#4f9bc7"/><stop offset="0.3750" stop-color="#6eaed2"/><stop offset="0.3958" stop-color="#9bc9e0"/><stop offset="0.4125" stop-color="#c5dfec"/><stop offset="0.4167" stop-color="#d1e5f0"/><stop offset="0.4350" stop-color="#f7f6f6"/><stop offset="0.4483" stop-color="#fddcc9"/><stop offset="0.4633" stop-color="#f2a17f"/><stop offset="0.4708" stop-color="#e37e64"/><stop offset="0.4800" stop-color="#d35a4a"/><stop offset="0.4867" stop-color="#c94741"/><stop offset="0.4967" stop-color="#c2383a"/><stop offset="0.5042" stop-color="#c2383a"/><stop offset="0.5167" stop-color="#ce4f45"/><stop offset="0.5233" stop-color="#d86551"/><stop offset="0.5333" stop-color="#eb9172"/><stop offset="0.5400" stop-color="#f6af8e"/><stop offset="0.5517" stop-color="#fdddcb"/><stop offset="0.5650" stop-color="#f7f6f6"/><stop offset="0.5833" stop-color="#cfe4ef"/><stop offset="0.6000" stop-color="#a2cde3"/><stop offset="0.6250" stop-color="#6bacd1"/><stop offset="0.6417" stop-color="#4f9bc7"/><stop offset="0.6583" stop-color="#408fc1"/><stop offset="0.7000" stop-color="#307ab6"/><stop offset="0.7833" stop-color="#1f63a8"/><stop offset="0.9000" stop-color="#144e8a"/><stop offset="1.0000" stop-color="#0e4179"/></linearGradient><linearGradient id="c33" gradientUnits="userSpaceOnUse" x1="926.65" x2="1298.95"><stop offset="0.0000" stop-color="#1a5899"/><stop offset="0.1167" stop-color="#2267ac"/><stop offset="0.2167" stop-color="#2f79b5"/><stop offset="0.2667" stop-color="#3b88be"/><stop offset="0.3000" stop-color="#4997c5"/><stop offset="0.3375" stop-color="#75b2d4"/><stop offset="0.3792" stop-color="#bbdaea"/><stop offset="0.3875" stop-color="#cfe4ef"/><stop offset="0.4125" stop-color="#f6f7f7"/><stop offset="0.4292" stop-color="#fcdfcf"/><stop offset="0.4350" stop-color="#fcd3bc"/><stop offset="0.4500" stop-color="#f4a683"/><stop offset="0.4583" stop-color="#e8896c"/><stop offset="0.4625" stop-color="#e17860"/><stop offset="0.4733" stop-color="#d35a4a"/><stop offset="0.4817" stop-color="#cb4942"/><stop offset="0.4917" stop-color="#c43b3c"/><stop offset="0.5017" stop-color="#c2383a"/><stop offset="0.5117" stop-color="#c53e3d"/><stop offset="0.5233" stop-color="#cf5246"/><stop offset="0.5317" stop-color="#da6853"/><stop offset="0.5500" stop-color="#f4a683"/><stop offset="0.5533" stop-color="#f6af8e"/><stop offset="0.5567" stop-color="#f7b99c"/><stop offset="0.5625" stop-color="#facab1"/><stop offset="0.5650" stop-color="#fcd3bc"/><stop offset="0.5750" stop-color="#fbe6da"/><stop offset="0.5875" stop-color="#f6f7f7"/><stop offset="0.6125" stop-color="#cce2ef"/><stop offset="0.6333" stop-color="#a2cde3"/><stop offset="0.6667" stop-color="#6bacd1"/><stop offset="0.7000" stop-color="#4695c4"/><stop offset="0.7500" stop-color="#3480b9"/><stop offset="0.8333" stop-color="#246aae"/><stop offset="0.9333" stop-color="#1a5899"/><stop offset="1.0000" stop-color="#15508d"/></linearGradient><linearGradient id="c34" gradientUnits="userSpaceOnUse" x1="926.65" x2="1298.95"><stop offset="0.0000" stop-color="#2369ad"/><stop offset="0.1333" stop-color="#327cb7"/><stop offset="0.2167" stop-color="#4393c3"/><stop offset="0.2667" stop-color="#6bacd1"/><stop offset="0.3167" stop-color="#a5cee3"/><stop offset="0.3542" stop-color="#d8e9f1"/><stop offset="0.3792" stop-color="#f6f7f7"/><stop offset="0.4000" stop-color="#fbe3d4"/><stop offset="0.4167" stop-color="#f9c6ac"/><stop offset="0.4333" stop-color="#f19e7d"/><stop offset="0.4542" stop-color="#db6b55"/><stop offset="0.4700" stop-color="#cc4c44"/><stop offset="0.4883" stop-color="#c2383a"/><stop offset="0.4958" stop-color="#c13639"/><stop offset="0.5000" stop-color="#bf3338"/><stop offset="0.5167" stop-color="#c43b3c"/><stop offset="0.5333" stop-color="#cf5246"/><stop offset="0.5483" stop-color="#dd7059"/><stop offset="0.5650" stop-color="#f09c7b"/><stop offset="0.5792" stop-color="#f8bb9e"/><stop offset="0.5958" stop-color="#fcdecd"/><stop offset="0.6208" stop-color="#f5f6f7"/><stop offset="0.6625" stop-color="#c0dceb"/><stop offset="0.7000" stop-color="#8dc2dc"/><stop offset="0.7500" stop-color="#59a1ca"/><stop offset="0.7833" stop-color="#4291c2"/><stop offset="0.8833" stop-color="#2c75b4"/><stop offset="1.0000" stop-color="#1f63a8"/></linearGradient><linearGradient id="c35" gradientUnits="userSpaceOnUse" x1="926.65" x2="1298.95"><stop offset="0.0000" stop-color="#2e77b5"/><stop offset="0.1167" stop-color="#408fc1"/><stop offset="0.1667" stop-color="#59a1ca"/><stop offset="0.2000" stop-color="#71b0d3"/><stop offset="0.2833" stop-color="#c2ddec"/><stop offset="0.3000" stop-color="#d5e7f1"/><stop offset="0.3375" stop-color="#f6f7f7"/><stop offset="0.3708" stop-color="#fdddcb"/><stop offset="0.4083" stop-color="#f4a683"/><stop offset="0.4383" stop-color="#dd7059"/><stop offset="0.4550" stop-color="#d25849"/><stop offset="0.4717" stop-color="#c94741"/><stop offset="0.4917" stop-color="#c43b3c"/><stop offset="0.5042" stop-color="#c2383a"/><stop offset="0.5083" stop-color="#c43b3c"/><stop offset="0.5250" stop-color="#c84440"/><stop offset="0.5417" stop-color="#d05548"/><stop offset="0.5583" stop-color="#db6b55"/><stop offset="0.5833" stop-color="#ee9677"/><stop offset="0.6000" stop-color="#f6b394"/><stop offset="0.6208" stop-color="#fcd3bc"/><stop offset="0.6250" stop-color="#fddbc7"/><stop offset="0.6583" stop-color="#f8f4f2"/><stop offset="0.6625" stop-color="#f6f7f7"/><stop offset="0.7167" stop-color="#c2ddec"/><stop offset="0.7333" stop-color="#aed3e6"/><stop offset="0.7667" stop-color="#90c4dd"/><stop offset="0.8000" stop-color="#6eaed2"/><stop offset="0.8667" stop-color="#4291c2"/><stop offset="0.9667" stop-color="#307ab6"/><stop offset="1.0000" stop-color="#2b73b3"/></linearGradient><linearGradient id="c36" gradientUnits="userSpaceOnUse" x1="926.65" x2="1298.95"><stop offset="0.0000" stop-color="#3f8ec0"/><stop offset="0.0500" stop-color="#4c99c6"/><stop offset="0.1167" stop-color="#71b0d3"/><stop offset="0.2167" stop-color="#bddbea"/><stop offset="0.2333" stop-color="#cfe4ef"/><stop offset="0.2833" stop-color="#f0f4f6"/><stop offset="0.3000" stop-color="#f8f3f0"/><stop offset="0.3417" stop-color="#fcd7c2"/><stop offset="0.3833" stop-color="#f3a481"/><stop offset="0.4125" stop-color="#e27b62"/><stop offset="0.4292" stop-color="#d86551"/><stop offset="0.4600" stop-color="#cb4942"/><stop offset="0.4800" stop-color="#c53e3d"/><stop offset="0.5000" stop-color="#c2383a"/><stop offset="0.5167" stop-color="#c43b3c"/><stop offset="0.5450" stop-color="#cc4c44"/><stop offset="0.5750" stop-color="#db6b55"/><stop offset="0.6208" stop-color="#f5a886"/><stop offset="0.6625" stop-color="#fddcc9"/><stop offset="0.7000" stop-color="#f8f3f0"/><stop offset="0.7167" stop-color="#f0f4f6"/><stop offset="0.7833" stop-color="#bddbea"/><stop offset="0.8500" stop-color="#8ac0db"/><stop offset="0.8667" stop-color="#7bb6d6"/><stop offset="0.9333" stop-color="#529dc8"/><stop offset="0.9667" stop-color="#4393c3"/><stop offset="1.0000" stop-color="#3e8cbf"/></linearGradient><linearGradient id="c37" gradientUnits="userSpaceOnUse" x1="926.65" x2="1298.95"><stop offset="0.0000" stop-color="#62a7ce"/><stop offset="0.1167" stop-color="#a5cee3"/><stop offset="0.1833" stop-color="#d4e6f1"/><stop offset="0.2333" stop-color="#f0f4f6"/><stop offset="0.2500" stop-color="#f8f4f2"/><stop offset="0.3000" stop-color="#fddcc9"/><stop offset="0.3583" stop-color="#f2a17f"/><stop offset="0.3917" stop-color="#e27b62"/><stop offset="0.4208" stop-color="#d6604d"/><stop offset="0.4517" stop-color="#cb4942"/><stop offset="0.4792" stop-color="#c53e3d"/><stop offset="0.5000" stop-color="#c2383a"/><stop offset="0.5267" stop-color="#c53e3d"/><stop offset="0.5583" stop-color="#ce4f45"/><stop offset="0.5958" stop-color="#dc6e57"/><stop offset="0.6292" stop-color="#ec9374"/><stop offset="0.6542" stop-color="#f6af8e"/><stop offset="0.7000" stop-color="#fddcc9"/><stop offset="0.7500" stop-color="#f8f4f2"/><stop offset="0.7667" stop-color="#f0f4f6"/><stop offset="0.8333" stop-color="#cae1ee"/><stop offset="0.9167" stop-color="#90c4dd"/><stop offset="1.0000" stop-color="#62a7ce"/></linearGradient><linearGradient id="c38" gradientUnits="userSpaceOnUse" x1="926.65" x2="1298.95"><stop offset="0.0000" stop-color="#96c7df"/><stop offset="0.1167" stop-color="#d7e8f1"/><stop offset="0.1833" stop-color="#f6f7f7"/><stop offset="0.2500" stop-color="#fddcc9"/><stop offset="0.3167" stop-color="#f4a683"/><stop offset="0.3792" stop-color="#dc6e57"/><stop offset="0.4167" stop-color="#cf5246"/><stop offset="0.4550" stop-color="#c6413e"/><stop offset="0.4750" stop-color="#c43b3c"/><stop offset="0.5067" stop-color="#c13639"/><stop offset="0.5333" stop-color="#c43b3c"/><stop offset="0.5750" stop-color="#ce4f45"/><stop offset="0.6042" stop-color="#d6604d"/><stop offset="0.6667" stop-color="#ee9677"/><stop offset="0.6833" stop-color="#f4a683"/><stop offset="0.7500" stop-color="#fddcc9"/><stop offset="0.8167" stop-color="#f6f7f7"/><stop offset="0.9167" stop-color="#c5dfec"/><stop offset="1.0000" stop-color="#96c7df"/></linearGradient><linearGradient id="c39" gradientUnits="userSpaceOnUse" x1="926.65" x2="1298.95"><stop offset="0.0000" stop-color="#c5dfec"/><stop offset="0.0333" stop-color="#d5e7f1"/><stop offset="0.1167" stop-color="#f7f6f6"/><stop offset="0.2000" stop-color="#fdd9c4"/><stop offset="0.2833" stop-color="#f19e7d"/><stop offset="0.3542" stop-color="#db6b55"/><stop offset="0.3958" stop-color="#d05548"/><stop offset="0.4350" stop-color="#c94741"/><stop offset="0.4717" stop-color="#c53e3d"/><stop offset="0.5117" stop-color="#c43b3c"/><stop offset="0.5217" stop-color="#c43b3c"/><stop offset="0.5317" stop-color="#c53e3d"/><stop offset="0.5500" stop-color="#c6413e"/><stop offset="0.5583" stop-color="#c84440"/><stop offset="0.5958" stop-color="#cf5246"/><stop offset="0.6250" stop-color="#d6604d"/><stop offset="0.6667" stop-color="#e17860"/><stop offset="0.7333" stop-color="#f5aa89"/><stop offset="0.8000" stop-color="#fdd9c4"/><stop offset="0.8833" stop-color="#f7f6f6"/><stop offset="0.9833" stop-color="#cfe4ef"/><stop offset="1.0000" stop-color="#c5dfec"/></linearGradient><linearGradient id="c40" gradientUnits="userSpaceOnUse" x1="926.65" x2="1298.95"><stop offset="0.0000" stop-color="#e4eef4"/><stop offset="0.0500" stop-color="#f7f5f4"/><stop offset="0.1333" stop-color="#fddcc9"/><stop offset="0.2167" stop-color="#f5aa89"/><stop offset="0.3333" stop-color="#d7634f"/><stop offset="0.4042" stop-color="#c94741"/><stop offset="0.4375" stop-color="#c6413e"/><stop offset="0.4417" stop-color="#c53e3d"/><stop offset="0.4550" stop-color="#c53e3d"/><stop offset="0.4650" stop-color="#c43b3c"/><stop offset="0.4850" stop-color="#c43b3c"/><stop offset="0.4950" stop-color="#c2383a"/><stop offset="0.5133" stop-color="#c2383a"/><stop offset="0.5233" stop-color="#c43b3c"/><stop offset="0.5433" stop-color="#c43b3c"/><stop offset="0.5533" stop-color="#c53e3d"/><stop offset="0.5617" stop-color="#c53e3d"/><stop offset="0.5667" stop-color="#c6413e"/><stop offset="0.6208" stop-color="#ce4f45"/><stop offset="0.6667" stop-color="#d7634f"/><stop offset="0.7833" stop-color="#f5aa89"/><stop offset="0.8667" stop-color="#fddcc9"/><stop offset="0.9500" stop-color="#f7f5f4"/><stop offset="1.0000" stop-color="#e4eef4"/></linearGradient><linearGradient id="c41" gradientUnits="userSpaceOnUse" x1="926.65" x2="1298.95"><stop offset="0.0000" stop-color="#f8f2ef"/><stop offset="0.0833" stop-color="#fddbc7"/><stop offset="0.1500" stop-color="#f7b99c"/><stop offset="0.1833" stop-color="#f4a683"/><stop offset="0.3000" stop-color="#d86551"/><stop offset="0.3417" stop-color="#d05548"/><stop offset="0.3750" stop-color="#cb4942"/><stop offset="0.4250" stop-color="#c53e3d"/><stop offset="0.4550" stop-color="#c43b3c"/><stop offset="0.4650" stop-color="#c2383a"/><stop offset="0.5433" stop-color="#c2383a"/><stop offset="0.5533" stop-color="#c43b3c"/><stop offset="0.5958" stop-color="#c6413e"/><stop offset="0.6542" stop-color="#cf5246"/><stop offset="0.6833" stop-color="#d6604d"/><stop offset="0.7333" stop-color="#df765e"/><stop offset="0.8167" stop-color="#f4a683"/><stop offset="0.9167" stop-color="#fddbc7"/><stop offset="1.0000" stop-color="#f8f2ef"/></linearGradient><linearGradient id="c42" gradientUnits="userSpaceOnUse" x1="926.65" x2="1298.95"><stop offset="0.0000" stop-color="#fce2d2"/><stop offset="0.0667" stop-color="#fac8af"/><stop offset="0.1333" stop-color="#f5a886"/><stop offset="0.2667" stop-color="#d86551"/><stop offset="0.3375" stop-color="#cc4c44"/><stop offset="0.4000" stop-color="#c53e3d"/><stop offset="0.4500" stop-color="#c2383a"/><stop offset="0.5708" stop-color="#c2383a"/><stop offset="0.6542" stop-color="#cb4942"/><stop offset="0.7333" stop-color="#d86551"/><stop offset="0.8667" stop-color="#f5a886"/><stop offset="0.9833" stop-color="#fdddcb"/><stop offset="1.0000" stop-color="#fce2d2"/></linearGradient><linearGradient id="c43" gradientUnits="userSpaceOnUse" x1="926.65" x2="1298.95"><stop offset="0.0000" stop-color="#fbceb7"/><stop offset="0.1000" stop-color="#f3a481"/><stop offset="0.2000" stop-color="#df765e"/><stop offset="0.2667" stop-color="#d55d4c"/><stop offset="0.3583" stop-color="#c84440"/><stop offset="0.4250" stop-color="#c43b3c"/><stop offset="0.4333" stop-color="#c43b3c"/><stop offset="0.4417" stop-color="#c2383a"/><stop offset="0.5650" stop-color="#c2383a"/><stop offset="0.5750" stop-color="#c43b3c"/><stop offset="0.6292" stop-color="#c6413e"/><stop offset="0.7333" stop-color="#d55d4c"/><stop offset="0.8000" stop-color="#df765e"/><stop offset="0.9000" stop-color="#f3a481"/><stop offset="1.0000" stop-color="#fbceb7"/></linearGradient><linearGradient id="c44" gradientUnits="userSpaceOnUse" x1="926.65" x2="1298.95"><stop offset="0.0000" stop-color="#f7b799"/><stop offset="0.0667" stop-color="#f19e7d"/><stop offset="0.1833" stop-color="#dd7059"/><stop offset="0.2833" stop-color="#cf5246"/><stop offset="0.3375" stop-color="#c94741"/><stop offset="0.4000" stop-color="#c53e3d"/><stop offset="0.4450" stop-color="#c43b3c"/><stop offset="0.4500" stop-color="#c2383a"/><stop offset="0.5542" stop-color="#c2383a"/><stop offset="0.5583" stop-color="#c43b3c"/><stop offset="0.5917" stop-color="#c43b3c"/><stop offset="0.6833" stop-color="#cb4942"/><stop offset="0.7833" stop-color="#d86551"/><stop offset="0.8833" stop-color="#e8896c"/><stop offset="0.9667" stop-color="#f5ac8b"/><stop offset="1.0000" stop-color="#f7b799"/></linearGradient><linearGradient id="c45" gradientUnits="userSpaceOnUse" x1="926.65" x2="1298.95"><stop offset="0.0000" stop-color="#f3a481"/><stop offset="0.2000" stop-color="#d6604d"/><stop offset="0.3333" stop-color="#c84440"/><stop offset="0.4367" stop-color="#c43b3c"/><stop offset="0.4667" stop-color="#c43b3c"/><stop offset="0.4750" stop-color="#c2383a"/><stop offset="0.5317" stop-color="#c2383a"/><stop offset="0.5417" stop-color="#c43b3c"/><stop offset="0.5917" stop-color="#c43b3c"/><stop offset="0.6167" stop-color="#c53e3d"/><stop offset="0.7167" stop-color="#cc4c44"/><stop offset="0.8167" stop-color="#d86551"/><stop offset="0.9500" stop-color="#eb9172"/><stop offset="1.0000" stop-color="#f3a481"/></linearGradient><linearGradient id="c46" gradientUnits="userSpaceOnUse" x1="926.65" x2="1298.95"><stop offset="0.0000" stop-color="#eb9172"/><stop offset="0.1500" stop-color="#d7634f"/><stop offset="0.2667" stop-color="#cb4942"/><stop offset="0.3500" stop-color="#c53e3d"/><stop offset="0.4208" stop-color="#c2383a"/><stop offset="0.6083" stop-color="#c2383a"/><stop offset="0.6333" stop-color="#c43b3c"/><stop offset="0.7833" stop-color="#cf5246"/><stop offset="0.9000" stop-color="#dd7059"/><stop offset="1.0000" stop-color="#eb9172"/></linearGradient><linearGradient id="c47" gradientUnits="userSpaceOnUse" x1="926.65" x2="1298.95"><stop offset="0.0000" stop-color="#e48066"/><stop offset="0.1333" stop-color="#d55d4c"/><stop offset="0.3000" stop-color="#c53e3d"/><stop offset="0.3500" stop-color="#c43b3c"/><stop offset="0.3750" stop-color="#c2383a"/><stop offset="0.4650" stop-color="#c13639"/><stop offset="0.4750" stop-color="#bf3338"/><stop offset="0.5333" stop-color="#bf3338"/><stop offset="0.5417" stop-color="#c13639"/><stop offset="0.6458" stop-color="#c2383a"/><stop offset="0.6833" stop-color="#c53e3d"/><stop offset="0.8167" stop-color="#cf5246"/><stop offset="0.9333" stop-color="#dc6e57"/><stop offset="1.0000" stop-color="#e48066"/></linearGradient><linearGradient id="c48" gradientUnits="userSpaceOnUse" x1="926.65" x2="1298.95"><stop offset="0.0000" stop-color="#df765e"/><stop offset="0.1333" stop-color="#d25849"/><stop offset="0.2333" stop-color="#c94741"/><stop offset="0.3333" stop-color="#c53e3d"/><stop offset="0.3583" stop-color="#c43b3c"/><stop offset="0.5450" stop-color="#c13639"/><stop offset="0.6208" stop-color="#c2383a"/><stop offset="0.6458" stop-color="#c43b3c"/><stop offset="0.8167" stop-color="#ce4f45"/><stop offset="0.8833" stop-color="#d35a4a"/><stop offset="1.0000" stop-color="#df765e"/></linearGradient><linearGradient id="c49" gradientUnits="userSpaceOnUse" x1="926.65" x2="1298.95"><stop offset="0.0000" stop-color="#dc6e57"/><stop offset="0.1500" stop-color="#cf5246"/><stop offset="0.2667" stop-color="#c6413e"/><stop offset="0.3708" stop-color="#c43b3c"/><stop offset="0.3958" stop-color="#c2383a"/><stop offset="0.6250" stop-color="#c2383a"/><stop offset="0.6500" stop-color="#c43b3c"/><stop offset="0.7500" stop-color="#c84440"/><stop offset="0.8667" stop-color="#d05548"/><stop offset="0.9833" stop-color="#db6b55"/><stop offset="1.0000" stop-color="#dc6e57"/></linearGradient><linearGradient id="c50" gradientUnits="userSpaceOnUse" x1="926.65" x2="1298.95"><stop offset="0.0000" stop-color="#d7634f"/><stop offset="0.1833" stop-color="#c94741"/><stop offset="0.3167" stop-color="#c43b3c"/><stop offset="0.3458" stop-color="#c43b3c"/><stop offset="0.3708" stop-color="#c2383a"/><stop offset="0.6500" stop-color="#c2383a"/><stop offset="0.6667" stop-color="#c43b3c"/><stop offset="0.7667" stop-color="#c6413e"/><stop offset="0.9667" stop-color="#d55d4c"/><stop offset="1.0000" stop-color="#d7634f"/></linearGradient><linearGradient id="c51" gradientUnits="userSpaceOnUse" x1="926.65" x2="1298.95"><stop offset="0.0000" stop-color="#d7634f"/><stop offset="0.2000" stop-color="#c94741"/><stop offset="0.3375" stop-color="#c53e3d"/><stop offset="0.4375" stop-color="#c43b3c"/><stop offset="0.4683" stop-color="#c43b3c"/><stop offset="0.4783" stop-color="#c2383a"/><stop offset="0.5300" stop-color="#c2383a"/><stop offset="0.5400" stop-color="#c43b3c"/><stop offset="0.6458" stop-color="#c43b3c"/><stop offset="0.6667" stop-color="#c53e3d"/><stop offset="0.7667" stop-color="#c84440"/><stop offset="0.8833" stop-color="#cf5246"/><stop offset="1.0000" stop-color="#d7634f"/></linearGradient><linearGradient id="c52" gradientUnits="userSpaceOnUse" x1="926.65" x2="1298.95"><stop offset="0.0000" stop-color="#d25849"/><stop offset="0.1500" stop-color="#c94741"/><stop offset="0.3333" stop-color="#c43b3c"/><stop offset="0.3708" stop-color="#c43b3c"/><stop offset="0.3958" stop-color="#c2383a"/><stop offset="0.6250" stop-color="#c2383a"/><stop offset="0.6500" stop-color="#c43b3c"/><stop offset="0.7500" stop-color="#c53e3d"/><stop offset="0.9000" stop-color="#cc4c44"/><stop offset="1.0000" stop-color="#d25849"/></linearGradient><linearGradient id="c53" gradientUnits="userSpaceOnUse" x1="926.65" x2="1298.95"><stop offset="0.0000" stop-color="#d35a4a"/><stop offset="0.1500" stop-color="#c94741"/><stop offset="0.3583" stop-color="#c43b3c"/><stop offset="0.4583" stop-color="#c2383a"/><stop offset="0.6250" stop-color="#c2383a"/><stop offset="0.6500" stop-color="#c43b3c"/><stop offset="0.8167" stop-color="#c84440"/><stop offset="1.0000" stop-color="#d35a4a"/></linearGradient><linearGradient id="c54" gradientUnits="userSpaceOnUse" x1="926.65" x2="1298.95"><stop offset="0.0000" stop-color="#ce4f45"/><stop offset="0.2667" stop-color="#c43b3c"/><stop offset="0.5625" stop-color="#c13639"/><stop offset="0.7500" stop-color="#c43b3c"/><stop offset="1.0000" stop-color="#ce4f45"/></linearGradient><linearGradient id="c55" gradientUnits="userSpaceOnUse" x1="926.65" x2="1298.95"><stop offset="0.0000" stop-color="#cc4c44"/><stop offset="0.2833" stop-color="#c43b3c"/><stop offset="0.5833" stop-color="#c2383a"/><stop offset="0.7500" stop-color="#c43b3c"/><stop offset="1.0000" stop-color="#cc4c44"/></linearGradient><linearGradient id="c56" gradientUnits="userSpaceOnUse" x1="926.65" x2="1298.95"><stop offset="0.0000" stop-color="#cc4c44"/><stop offset="0.2000" stop-color="#c6413e"/><stop offset="0.4000" stop-color="#c43b3c"/><stop offset="0.6833" stop-color="#c43b3c"/><stop offset="1.0000" stop-color="#cc4c44"/></linearGradient><linearGradient id="c57" gradientUnits="userSpaceOnUse" x1="926.65" x2="1298.95"><stop offset="0.0000" stop-color="#c84440"/><stop offset="0.1000" stop-color="#c53e3d"/><stop offset="0.3167" stop-color="#c13639"/><stop offset="0.8000" stop-color="#c2383a"/><stop offset="1.0000" stop-color="#c84440"/></linearGradient><linearGradient id="c58" gradientUnits="userSpaceOnUse" x1="926.65" x2="1298.95"><stop offset="0.0000" stop-color="#c6413e"/><stop offset="0.2000" stop-color="#c2383a"/><stop offset="0.3542" stop-color="#c13639"/><stop offset="0.3792" stop-color="#bf3338"/><stop offset="0.6417" stop-color="#bf3338"/><stop offset="0.6667" stop-color="#c13639"/><stop offset="0.8500" stop-color="#c2383a"/><stop offset="1.0000" stop-color="#c6413e"/></linearGradient><linearGradient id="c59" gradientUnits="userSpaceOnUse" x1="926.65" x2="1298.95"><stop offset="0.0000" stop-color="#c94741"/><stop offset="0.1000" stop-color="#c6413e"/><stop offset="0.2667" stop-color="#c43b3c"/><stop offset="0.5667" stop-color="#c2383a"/><stop offset="0.6833" stop-color="#c2383a"/><stop offset="0.7833" stop-color="#c43b3c"/><stop offset="1.0000" stop-color="#c94741"/></linearGradient><linearGradient id="c60" gradientUnits="userSpaceOnUse" x1="926.65" x2="1298.95"><stop offset="0.0000" stop-color="#c84440"/><stop offset="0.1000" stop-color="#c53e3d"/><stop offset="0.3167" stop-color="#c2383a"/><stop offset="0.7667" stop-color="#c2383a"/><stop offset="0.9833" stop-color="#c6413e"/><stop offset="1.0000" stop-color="#c84440"/></linearGradient><linearGradient id="d0" gradientUnits="userSpaceOnUse" x1="1442.9" x2="1814.9"><stop offset="0.0000" stop-color="#f7f6f6"/><stop offset="0.4042" stop-color="#f7f5f4"/><stop offset="0.4350" stop-color="#f9efe9"/><stop offset="0.4467" stop-color="#fbe5d8"/><stop offset="0.4533" stop-color="#fdd9c4"/><stop offset="0.4583" stop-color="#f8bda1"/><stop offset="0.4625" stop-color="#f2a17f"/><stop offset="0.4683" stop-color="#d86551"/><stop offset="0.4700" stop-color="#d05548"/><stop offset="0.4717" stop-color="#c6413e"/><stop offset="0.4750" stop-color="#b41c2d"/><stop offset="0.4792" stop-color="#8d0c25"/><stop offset="0.4800" stop-color="#8a0b25"/><stop offset="0.4833" stop-color="#9f1228"/><stop offset="0.4850" stop-color="#b3192c"/><stop offset="0.4883" stop-color="#cc4c44"/><stop offset="0.4900" stop-color="#da6853"/><stop offset="0.4933" stop-color="#f2a17f"/><stop offset="0.4967" stop-color="#fac8af"/><stop offset="0.4983" stop-color="#fdd9c4"/><stop offset="0.5017" stop-color="#fbe6da"/><stop offset="0.5067" stop-color="#f8f1ed"/><stop offset="0.5117" stop-color="#f5f6f7"/><stop offset="0.5167" stop-color="#e1edf3"/><stop offset="0.5183" stop-color="#d5e7f1"/><stop offset="0.5208" stop-color="#b3d6e8"/><stop offset="0.5217" stop-color="#a5cee3"/><stop offset="0.5233" stop-color="#81bad8"/><stop offset="0.5250" stop-color="#529dc8"/><stop offset="0.5267" stop-color="#3885bc"/><stop offset="0.5292" stop-color="#2065ab"/><stop offset="0.5317" stop-color="#15508d"/><stop offset="0.5333" stop-color="#15508d"/><stop offset="0.5367" stop-color="#2267ac"/><stop offset="0.5433" stop-color="#4393c3"/><stop offset="0.5500" stop-color="#93c6de"/><stop offset="0.5550" stop-color="#b8d8e9"/><stop offset="0.5600" stop-color="#d4e6f1"/><stop offset="0.5667" stop-color="#e3edf3"/><stop offset="0.5833" stop-color="#f0f4f6"/><stop offset="0.6208" stop-color="#f6f7f7"/><stop offset="1.0000" stop-color="#f7f6f6"/></linearGradient><linearGradient id="d1" gradientUnits="userSpaceOnUse" x1="1442.9" x2="1814.9"><stop offset="0.0000" stop-color="#f7f6f6"/><stop offset="0.4083" stop-color="#f7f5f4"/><stop offset="0.4350" stop-color="#f9f0eb"/><stop offset="0.4483" stop-color="#fae7dc"/><stop offset="0.4550" stop-color="#fddbc7"/><stop offset="0.4583" stop-color="#fbccb4"/><stop offset="0.4650" stop-color="#f19e7d"/><stop offset="0.4717" stop-color="#d05548"/><stop offset="0.4767" stop-color="#b61f2e"/><stop offset="0.4800" stop-color="#960f27"/><stop offset="0.4817" stop-color="#900d26"/><stop offset="0.4833" stop-color="#991027"/><stop offset="0.4850" stop-color="#ab162a"/><stop offset="0.4867" stop-color="#ba2832"/><stop offset="0.4900" stop-color="#d7634f"/><stop offset="0.4933" stop-color="#f19e7d"/><stop offset="0.4967" stop-color="#fac8af"/><stop offset="0.4983" stop-color="#fdd9c4"/><stop offset="0.5017" stop-color="#fae7dc"/><stop offset="0.5067" stop-color="#f8f2ef"/><stop offset="0.5100" stop-color="#f6f7f7"/><stop offset="0.5133" stop-color="#ecf2f5"/><stop offset="0.5167" stop-color="#d8e9f1"/><stop offset="0.5183" stop-color="#c5dfec"/><stop offset="0.5208" stop-color="#98c8e0"/><stop offset="0.5233" stop-color="#59a1ca"/><stop offset="0.5250" stop-color="#3a87bd"/><stop offset="0.5267" stop-color="#2870b1"/><stop offset="0.5292" stop-color="#1a5899"/><stop offset="0.5300" stop-color="#185493"/><stop offset="0.5317" stop-color="#195696"/><stop offset="0.5333" stop-color="#1f63a8"/><stop offset="0.5400" stop-color="#408fc1"/><stop offset="0.5417" stop-color="#4f9bc7"/><stop offset="0.5467" stop-color="#8ac0db"/><stop offset="0.5517" stop-color="#b6d7e8"/><stop offset="0.5567" stop-color="#d2e6f0"/><stop offset="0.5667" stop-color="#e7f0f4"/><stop offset="0.5875" stop-color="#f3f5f6"/><stop offset="0.6833" stop-color="#f7f6f6"/><stop offset="1.0000" stop-color="#f7f6f6"/></linearGradient><linearGradient id="d2" gradientUnits="userSpaceOnUse" x1="1442.9" x2="1814.9"><stop offset="0.0000" stop-color="#f7f6f6"/><stop offset="0.4125" stop-color="#f7f5f4"/><stop offset="0.4383" stop-color="#f9f0eb"/><stop offset="0.4500" stop-color="#fae8de"/><stop offset="0.4567" stop-color="#fdddcb"/><stop offset="0.4617" stop-color="#f9c6ac"/><stop offset="0.4667" stop-color="#f2a17f"/><stop offset="0.4717" stop-color="#db6b55"/><stop offset="0.4783" stop-color="#b61f2e"/><stop offset="0.4800" stop-color="#a81529"/><stop offset="0.4817" stop-color="#960f27"/><stop offset="0.4833" stop-color="#960f27"/><stop offset="0.4850" stop-color="#a21328"/><stop offset="0.4867" stop-color="#b41c2d"/><stop offset="0.4900" stop-color="#d25849"/><stop offset="0.4933" stop-color="#ef9979"/><stop offset="0.4958" stop-color="#f8bfa4"/><stop offset="0.4983" stop-color="#fddbc7"/><stop offset="0.5033" stop-color="#f9eee7"/><stop offset="0.5083" stop-color="#f7f6f6"/><stop offset="0.5133" stop-color="#e6eff4"/><stop offset="0.5167" stop-color="#cce2ef"/><stop offset="0.5183" stop-color="#aed3e6"/><stop offset="0.5200" stop-color="#8ac0db"/><stop offset="0.5217" stop-color="#5ca3cb"/><stop offset="0.5233" stop-color="#3b88be"/><stop offset="0.5250" stop-color="#2a71b2"/><stop offset="0.5267" stop-color="#1e61a5"/><stop offset="0.5283" stop-color="#195696"/><stop offset="0.5292" stop-color="#1a5899"/><stop offset="0.5317" stop-color="#2369ad"/><stop offset="0.5375" stop-color="#408fc1"/><stop offset="0.5450" stop-color="#96c7df"/><stop offset="0.5500" stop-color="#bddbea"/><stop offset="0.5542" stop-color="#d4e6f1"/><stop offset="0.5650" stop-color="#e9f0f4"/><stop offset="0.5833" stop-color="#f3f5f6"/><stop offset="0.6833" stop-color="#f7f6f6"/><stop offset="1.0000" stop-color="#f7f6f6"/></linearGradient><linearGradient id="d3" gradientUnits="userSpaceOnUse" x1="1442.9" x2="1814.9"><stop offset="0.0000" stop-color="#f7f6f6"/><stop offset="0.4167" stop-color="#f7f5f4"/><stop offset="0.4417" stop-color="#f9f0eb"/><stop offset="0.4533" stop-color="#fae7dc"/><stop offset="0.4600" stop-color="#fddbc7"/><stop offset="0.4650" stop-color="#f8bda1"/><stop offset="0.4683" stop-color="#f3a481"/><stop offset="0.4733" stop-color="#dc6e57"/><stop offset="0.4767" stop-color="#c94741"/><stop offset="0.4800" stop-color="#b72230"/><stop offset="0.4817" stop-color="#a81529"/><stop offset="0.4833" stop-color="#991027"/><stop offset="0.4850" stop-color="#9c1127"/><stop offset="0.4867" stop-color="#ae172a"/><stop offset="0.4875" stop-color="#b61f2e"/><stop offset="0.4900" stop-color="#cc4c44"/><stop offset="0.4917" stop-color="#dd7059"/><stop offset="0.4933" stop-color="#ec9374"/><stop offset="0.4950" stop-color="#f6b394"/><stop offset="0.4983" stop-color="#fddcc9"/><stop offset="0.5017" stop-color="#faeae1"/><stop offset="0.5067" stop-color="#f7f5f4"/><stop offset="0.5100" stop-color="#f0f4f6"/><stop offset="0.5133" stop-color="#deebf2"/><stop offset="0.5150" stop-color="#d1e5f0"/><stop offset="0.5167" stop-color="#b3d6e8"/><stop offset="0.5183" stop-color="#90c4dd"/><stop offset="0.5208" stop-color="#4997c5"/><stop offset="0.5217" stop-color="#3c8abe"/><stop offset="0.5233" stop-color="#2b73b3"/><stop offset="0.5250" stop-color="#1f63a8"/><stop offset="0.5267" stop-color="#1b5a9c"/><stop offset="0.5283" stop-color="#2065ab"/><stop offset="0.5350" stop-color="#4291c2"/><stop offset="0.5367" stop-color="#529dc8"/><stop offset="0.5400" stop-color="#7eb8d7"/><stop offset="0.5433" stop-color="#a0cce2"/><stop offset="0.5500" stop-color="#cfe4ef"/><stop offset="0.5567" stop-color="#e1edf3"/><stop offset="0.5667" stop-color="#edf2f5"/><stop offset="0.5958" stop-color="#f6f7f7"/><stop offset="1.0000" stop-color="#f7f6f6"/></linearGradient><linearGradient id="d4" gradientUnits="userSpaceOnUse" x1="1442.9" x2="1814.9"><stop offset="0.0000" stop-color="#f9ebe3"/><stop offset="0.0167" stop-color="#f7f5f4"/><stop offset="0.0333" stop-color="#f3f5f6"/><stop offset="0.0500" stop-color="#f6f7f7"/><stop offset="0.0667" stop-color="#f9efe9"/><stop offset="0.0833" stop-color="#edf2f5"/><stop offset="0.1000" stop-color="#f3f5f6"/><stop offset="0.1167" stop-color="#f2f5f6"/><stop offset="0.1333" stop-color="#e3edf3"/><stop offset="0.1500" stop-color="#faeae1"/><stop offset="0.1833" stop-color="#f7f6f6"/><stop offset="0.2000" stop-color="#f9ebe3"/><stop offset="0.2167" stop-color="#ecf2f5"/><stop offset="0.2333" stop-color="#f6f7f7"/><stop offset="0.2500" stop-color="#fae7dc"/><stop offset="0.2667" stop-color="#f9eee7"/><stop offset="0.2833" stop-color="#ddebf2"/><stop offset="0.3000" stop-color="#cfe4ef"/><stop offset="0.3167" stop-color="#eaf1f5"/><stop offset="0.3333" stop-color="#f9ede5"/><stop offset="0.3375" stop-color="#f2f5f6"/><stop offset="0.3417" stop-color="#f5f6f7"/><stop offset="0.3458" stop-color="#f8f1ed"/><stop offset="0.3500" stop-color="#edf2f5"/><stop offset="0.3500" stop-color="#f8f4f2"/><stop offset="0.3542" stop-color="#f9efe9"/><stop offset="0.3625" stop-color="#f8f3f0"/><stop offset="0.3667" stop-color="#f0f4f6"/><stop offset="0.3667" stop-color="#f8f2ef"/><stop offset="0.3708" stop-color="#f3f5f6"/><stop offset="0.3792" stop-color="#fcdfcf"/><stop offset="0.3833" stop-color="#eff3f5"/><stop offset="0.3833" stop-color="#ddebf2"/><stop offset="0.3875" stop-color="#f3f5f6"/><stop offset="0.3917" stop-color="#f8f3f0"/><stop offset="0.3958" stop-color="#f9ede5"/><stop offset="0.4000" stop-color="#f9ede5"/><stop offset="0.4000" stop-color="#eff3f5"/><stop offset="0.4042" stop-color="#eff3f5"/><stop offset="0.4083" stop-color="#faeae1"/><stop offset="0.4125" stop-color="#ecf2f5"/><stop offset="0.4167" stop-color="#f9ebe3"/><stop offset="0.4208" stop-color="#f7f6f6"/><stop offset="0.4250" stop-color="#f8f2ef"/><stop offset="0.4333" stop-color="#f8f1ed"/><stop offset="0.4350" stop-color="#f7f5f4"/><stop offset="0.4400" stop-color="#f9eee7"/><stop offset="0.4417" stop-color="#f8f3f0"/><stop offset="0.4450" stop-color="#f8f1ed"/><stop offset="0.4458" stop-color="#f9eee7"/><stop offset="0.4467" stop-color="#f8f1ed"/><stop offset="0.4483" stop-color="#faeae1"/><stop offset="0.4500" stop-color="#f9ebe3"/><stop offset="0.4500" stop-color="#f9f0eb"/><stop offset="0.4517" stop-color="#faeae1"/><stop offset="0.4533" stop-color="#fae8de"/><stop offset="0.4542" stop-color="#f9eee7"/><stop offset="0.4550" stop-color="#fbe5d8"/><stop offset="0.4567" stop-color="#fce2d2"/><stop offset="0.4583" stop-color="#fbe3d4"/><stop offset="0.4600" stop-color="#fcdecd"/><stop offset="0.4617" stop-color="#fbd0b9"/><stop offset="0.4625" stop-color="#fcd3bc"/><stop offset="0.4633" stop-color="#fdd9c4"/><stop offset="0.4667" stop-color="#f9c2a7"/><stop offset="0.4667" stop-color="#fbceb7"/><stop offset="0.4683" stop-color="#f6b191"/><stop offset="0.4700" stop-color="#f5aa89"/><stop offset="0.4708" stop-color="#f19e7d"/><stop offset="0.4717" stop-color="#ef9979"/><stop offset="0.4733" stop-color="#e37e64"/><stop offset="0.4750" stop-color="#de735c"/><stop offset="0.4750" stop-color="#df765e"/><stop offset="0.4767" stop-color="#d35a4a"/><stop offset="0.4783" stop-color="#c53e3d"/><stop offset="0.4792" stop-color="#c6413e"/><stop offset="0.4800" stop-color="#bb2a34"/><stop offset="0.4833" stop-color="#ae172a"/><stop offset="0.4833" stop-color="#9f1228"/><stop offset="0.4833" stop-color="#b1182b"/><stop offset="0.4850" stop-color="#930e26"/><stop offset="0.4867" stop-color="#a81529"/><stop offset="0.4875" stop-color="#ab162a"/><stop offset="0.4883" stop-color="#bb2a34"/><stop offset="0.4917" stop-color="#d6604d"/><stop offset="0.4917" stop-color="#d86551"/><stop offset="0.4933" stop-color="#ea8e70"/><stop offset="0.4950" stop-color="#f6b191"/><stop offset="0.4958" stop-color="#f8bb9e"/><stop offset="0.4967" stop-color="#fbd0b9"/><stop offset="0.4983" stop-color="#fcdfcf"/><stop offset="0.5017" stop-color="#f9eee7"/><stop offset="0.5033" stop-color="#f8f2ef"/><stop offset="0.5067" stop-color="#f6f7f7"/><stop offset="0.5083" stop-color="#f5f6f7"/><stop offset="0.5100" stop-color="#eff3f5"/><stop offset="0.5125" stop-color="#d8e9f1"/><stop offset="0.5150" stop-color="#b6d7e8"/><stop offset="0.5167" stop-color="#87beda"/><stop offset="0.5167" stop-color="#93c6de"/><stop offset="0.5200" stop-color="#4393c3"/><stop offset="0.5208" stop-color="#3885bc"/><stop offset="0.5217" stop-color="#2a71b2"/><stop offset="0.5233" stop-color="#2369ad"/><stop offset="0.5250" stop-color="#1c5c9f"/><stop offset="0.5250" stop-color="#2065ab"/><stop offset="0.5267" stop-color="#246aae"/><stop offset="0.5283" stop-color="#2f79b5"/><stop offset="0.5292" stop-color="#3a87bd"/><stop offset="0.5300" stop-color="#3885bc"/><stop offset="0.5317" stop-color="#4997c5"/><stop offset="0.5333" stop-color="#4c99c6"/><stop offset="0.5333" stop-color="#4997c5"/><stop offset="0.5350" stop-color="#6bacd1"/><stop offset="0.5367" stop-color="#81bad8"/><stop offset="0.5375" stop-color="#7bb6d6"/><stop offset="0.5383" stop-color="#8ac0db"/><stop offset="0.5400" stop-color="#90c4dd"/><stop offset="0.5433" stop-color="#bbdaea"/><stop offset="0.5467" stop-color="#c2ddec"/><stop offset="0.5483" stop-color="#d5e7f1"/><stop offset="0.5517" stop-color="#deebf2"/><stop offset="0.5533" stop-color="#dbeaf2"/><stop offset="0.5542" stop-color="#e9f0f4"/><stop offset="0.5550" stop-color="#e3edf3"/><stop offset="0.5583" stop-color="#eaf1f5"/><stop offset="0.5583" stop-color="#e0ecf3"/><stop offset="0.5600" stop-color="#eaf1f5"/><stop offset="0.5625" stop-color="#edf2f5"/><stop offset="0.5633" stop-color="#f2f5f6"/><stop offset="0.5667" stop-color="#e9f0f4"/><stop offset="0.5667" stop-color="#f0f4f6"/><stop offset="0.5708" stop-color="#f2f5f6"/><stop offset="0.5750" stop-color="#e3edf3"/><stop offset="0.5792" stop-color="#e0ecf3"/><stop offset="0.5833" stop-color="#f8f4f2"/><stop offset="0.5917" stop-color="#f5f6f7"/><stop offset="0.5958" stop-color="#e1edf3"/><stop offset="0.6000" stop-color="#fae7dc"/><stop offset="0.6042" stop-color="#d2e6f0"/><stop offset="0.6083" stop-color="#f2f5f6"/><stop offset="0.6125" stop-color="#fbe4d6"/><stop offset="0.6167" stop-color="#f5f6f7"/><stop offset="0.6208" stop-color="#f8f4f2"/><stop offset="0.6250" stop-color="#e9f0f4"/><stop offset="0.6292" stop-color="#faeae1"/><stop offset="0.6333" stop-color="#e7f0f4"/><stop offset="0.6333" stop-color="#f8f4f2"/><stop offset="0.6375" stop-color="#f7f5f4"/><stop offset="0.6417" stop-color="#eaf1f5"/><stop offset="0.6458" stop-color="#f9efe9"/><stop offset="0.6500" stop-color="#e6eff4"/><stop offset="0.6500" stop-color="#eff3f5"/><stop offset="0.6542" stop-color="#f7f6f6"/><stop offset="0.6583" stop-color="#f3f5f6"/><stop offset="0.6667" stop-color="#f9eee7"/><stop offset="0.6833" stop-color="#f5f6f7"/><stop offset="0.7333" stop-color="#f3f5f6"/><stop offset="0.7500" stop-color="#f9efe9"/><stop offset="0.7667" stop-color="#f5f6f7"/><stop offset="0.7833" stop-color="#f8f3f0"/><stop offset="0.8000" stop-color="#f6f7f7"/><stop offset="0.8167" stop-color="#edf2f5"/><stop offset="0.8333" stop-color="#f9efe9"/><stop offset="0.8500" stop-color="#eaf1f5"/><stop offset="0.8667" stop-color="#f7f6f6"/><stop offset="0.8833" stop-color="#fae9df"/><stop offset="0.9000" stop-color="#eaf1f5"/><stop offset="0.9167" stop-color="#f7f6f6"/><stop offset="0.9333" stop-color="#e4eef4"/><stop offset="0.9500" stop-color="#f2f5f6"/><stop offset="0.9667" stop-color="#e6eff4"/><stop offset="0.9833" stop-color="#f3f5f6"/><stop offset="1.0000" stop-color="#f2f5f6"/></linearGradient><linearGradient id="d5" gradientUnits="userSpaceOnUse" x1="1442.9" x2="1814.9"><stop offset="0.0000" stop-color="#f7f6f6"/><stop offset="0.4250" stop-color="#f7f5f4"/><stop offset="0.4458" stop-color="#f8f1ed"/><stop offset="0.4583" stop-color="#fae7dc"/><stop offset="0.4633" stop-color="#fcdecd"/><stop offset="0.4667" stop-color="#fbd0b9"/><stop offset="0.4717" stop-color="#f5ac8b"/><stop offset="0.4767" stop-color="#df765e"/><stop offset="0.4783" stop-color="#d6604d"/><stop offset="0.4833" stop-color="#b82531"/><stop offset="0.4850" stop-color="#ae172a"/><stop offset="0.4867" stop-color="#a21328"/><stop offset="0.4875" stop-color="#a51429"/><stop offset="0.4883" stop-color="#b1182b"/><stop offset="0.4900" stop-color="#bf3338"/><stop offset="0.4917" stop-color="#d25849"/><stop offset="0.4950" stop-color="#f5aa89"/><stop offset="0.4967" stop-color="#fac8af"/><stop offset="0.4983" stop-color="#fdddcb"/><stop offset="0.5017" stop-color="#f9ede5"/><stop offset="0.5042" stop-color="#f8f4f2"/><stop offset="0.5083" stop-color="#edf2f5"/><stop offset="0.5117" stop-color="#d8e9f1"/><stop offset="0.5125" stop-color="#cfe4ef"/><stop offset="0.5150" stop-color="#9dcbe1"/><stop offset="0.5183" stop-color="#4291c2"/><stop offset="0.5208" stop-color="#2870b1"/><stop offset="0.5217" stop-color="#246aae"/><stop offset="0.5233" stop-color="#2267ac"/><stop offset="0.5300" stop-color="#4393c3"/><stop offset="0.5367" stop-color="#93c6de"/><stop offset="0.5433" stop-color="#cae1ee"/><stop offset="0.5500" stop-color="#e0ecf3"/><stop offset="0.5625" stop-color="#eff3f5"/><stop offset="0.5958" stop-color="#f6f7f7"/><stop offset="1.0000" stop-color="#f7f6f6"/></linearGradient><linearGradient id="d6" gradientUnits="userSpaceOnUse" x1="1442.9" x2="1814.9"><stop offset="0.0000" stop-color="#f7f6f6"/><stop offset="0.4292" stop-color="#f7f5f4"/><stop offset="0.4517" stop-color="#f9f0eb"/><stop offset="0.4625" stop-color="#fbe6da"/><stop offset="0.4683" stop-color="#fcd7c2"/><stop offset="0.4750" stop-color="#f4a683"/><stop offset="0.4817" stop-color="#d25849"/><stop offset="0.4833" stop-color="#c6413e"/><stop offset="0.4867" stop-color="#b41c2d"/><stop offset="0.4875" stop-color="#ae172a"/><stop offset="0.4883" stop-color="#ae172a"/><stop offset="0.4900" stop-color="#b82531"/><stop offset="0.4917" stop-color="#c94741"/><stop offset="0.4933" stop-color="#dd7059"/><stop offset="0.4950" stop-color="#f09c7b"/><stop offset="0.4958" stop-color="#f5ac8b"/><stop offset="0.4967" stop-color="#f8bda1"/><stop offset="0.4983" stop-color="#fcd7c2"/><stop offset="0.5000" stop-color="#fbe4d6"/><stop offset="0.5042" stop-color="#f8f4f2"/><stop offset="0.5083" stop-color="#ecf2f5"/><stop offset="0.5117" stop-color="#d1e5f0"/><stop offset="0.5133" stop-color="#b1d5e7"/><stop offset="0.5150" stop-color="#87beda"/><stop offset="0.5167" stop-color="#569fc9"/><stop offset="0.5183" stop-color="#3885bc"/><stop offset="0.5200" stop-color="#2b73b3"/><stop offset="0.5217" stop-color="#276eb0"/><stop offset="0.5267" stop-color="#3f8ec0"/><stop offset="0.5283" stop-color="#4c99c6"/><stop offset="0.5317" stop-color="#78b4d5"/><stop offset="0.5367" stop-color="#a9d1e5"/><stop offset="0.5400" stop-color="#c5dfec"/><stop offset="0.5433" stop-color="#d5e7f1"/><stop offset="0.5500" stop-color="#e4eef4"/><stop offset="0.5583" stop-color="#eff3f5"/><stop offset="0.5917" stop-color="#f6f7f7"/><stop offset="1.0000" stop-color="#f7f6f6"/></linearGradient><linearGradient id="d7" gradientUnits="userSpaceOnUse" x1="1442.9" x2="1814.9"><stop offset="0.0000" stop-color="#f7f6f6"/><stop offset="0.4333" stop-color="#f7f5f4"/><stop offset="0.4550" stop-color="#f9f0eb"/><stop offset="0.4650" stop-color="#fbe6da"/><stop offset="0.4700" stop-color="#fddbc7"/><stop offset="0.4733" stop-color="#fac8af"/><stop offset="0.4783" stop-color="#f09c7b"/><stop offset="0.4833" stop-color="#d6604d"/><stop offset="0.4875" stop-color="#be3036"/><stop offset="0.4883" stop-color="#ba2832"/><stop offset="0.4900" stop-color="#b72230"/><stop offset="0.4917" stop-color="#c13639"/><stop offset="0.4933" stop-color="#d35a4a"/><stop offset="0.4958" stop-color="#f19e7d"/><stop offset="0.4967" stop-color="#f6b191"/><stop offset="0.4983" stop-color="#fbceb7"/><stop offset="0.5000" stop-color="#fce2d2"/><stop offset="0.5042" stop-color="#f8f4f2"/><stop offset="0.5050" stop-color="#f7f6f6"/><stop offset="0.5083" stop-color="#e7f0f4"/><stop offset="0.5100" stop-color="#dae9f2"/><stop offset="0.5117" stop-color="#c2ddec"/><stop offset="0.5133" stop-color="#9dcbe1"/><stop offset="0.5167" stop-color="#4291c2"/><stop offset="0.5183" stop-color="#337eb8"/><stop offset="0.5200" stop-color="#2e77b5"/><stop offset="0.5250" stop-color="#4695c4"/><stop offset="0.5283" stop-color="#6bacd1"/><stop offset="0.5300" stop-color="#81bad8"/><stop offset="0.5333" stop-color="#a2cde3"/><stop offset="0.5383" stop-color="#cae1ee"/><stop offset="0.5450" stop-color="#e1edf3"/><stop offset="0.5542" stop-color="#edf2f5"/><stop offset="0.5792" stop-color="#f6f7f7"/><stop offset="1.0000" stop-color="#f7f6f6"/></linearGradient><linearGradient id="d8" gradientUnits="userSpaceOnUse" x1="1442.9" x2="1814.9"><stop offset="0.0000" stop-color="#f7f6f6"/><stop offset="0.4383" stop-color="#f7f5f4"/><stop offset="0.4583" stop-color="#f9f0eb"/><stop offset="0.4683" stop-color="#fbe6da"/><stop offset="0.4733" stop-color="#fdd9c4"/><stop offset="0.4783" stop-color="#f7b596"/><stop offset="0.4800" stop-color="#f4a683"/><stop offset="0.4850" stop-color="#db6b55"/><stop offset="0.4883" stop-color="#c84440"/><stop offset="0.4900" stop-color="#bf3338"/><stop offset="0.4917" stop-color="#be3036"/><stop offset="0.4933" stop-color="#cb4942"/><stop offset="0.4950" stop-color="#dd7059"/><stop offset="0.4967" stop-color="#f19e7d"/><stop offset="0.4983" stop-color="#f9c4a9"/><stop offset="0.5000" stop-color="#fdddcb"/><stop offset="0.5033" stop-color="#f8f1ed"/><stop offset="0.5050" stop-color="#f7f6f6"/><stop offset="0.5083" stop-color="#e3edf3"/><stop offset="0.5100" stop-color="#d2e6f0"/><stop offset="0.5125" stop-color="#9dcbe1"/><stop offset="0.5150" stop-color="#569fc9"/><stop offset="0.5167" stop-color="#3a87bd"/><stop offset="0.5183" stop-color="#337eb8"/><stop offset="0.5217" stop-color="#408fc1"/><stop offset="0.5233" stop-color="#4f9bc7"/><stop offset="0.5283" stop-color="#8ac0db"/><stop offset="0.5350" stop-color="#c5dfec"/><stop offset="0.5375" stop-color="#d4e6f1"/><stop offset="0.5450" stop-color="#e6eff4"/><stop offset="0.5583" stop-color="#f2f5f6"/><stop offset="0.6125" stop-color="#f7f6f6"/><stop offset="1.0000" stop-color="#f7f6f6"/></linearGradient><linearGradient id="d9" gradientUnits="userSpaceOnUse" x1="1442.9" x2="1814.9"><stop offset="0.0000" stop-color="#f7f6f6"/><stop offset="0.4433" stop-color="#f7f5f4"/><stop offset="0.4625" stop-color="#f9f0eb"/><stop offset="0.4700" stop-color="#fae8de"/><stop offset="0.4750" stop-color="#fdddcb"/><stop offset="0.4783" stop-color="#fac8af"/><stop offset="0.4817" stop-color="#f6af8e"/><stop offset="0.4850" stop-color="#e8896c"/><stop offset="0.4883" stop-color="#d6604d"/><stop offset="0.4917" stop-color="#c43b3c"/><stop offset="0.4933" stop-color="#c53e3d"/><stop offset="0.4950" stop-color="#d55d4c"/><stop offset="0.4967" stop-color="#e8896c"/><stop offset="0.4983" stop-color="#f7b596"/><stop offset="0.5000" stop-color="#fcd7c2"/><stop offset="0.5017" stop-color="#fbe6da"/><stop offset="0.5042" stop-color="#f8f4f2"/><stop offset="0.5050" stop-color="#f6f7f7"/><stop offset="0.5083" stop-color="#ddebf2"/><stop offset="0.5100" stop-color="#c5dfec"/><stop offset="0.5117" stop-color="#9dcbe1"/><stop offset="0.5133" stop-color="#6bacd1"/><stop offset="0.5150" stop-color="#4291c2"/><stop offset="0.5167" stop-color="#3a87bd"/><stop offset="0.5200" stop-color="#4997c5"/><stop offset="0.5267" stop-color="#96c7df"/><stop offset="0.5333" stop-color="#cce2ef"/><stop offset="0.5383" stop-color="#deebf2"/><stop offset="0.5458" stop-color="#ecf2f5"/><stop offset="0.5667" stop-color="#f5f6f7"/><stop offset="1.0000" stop-color="#f7f6f6"/></linearGradient><linearGradient id="d10" gradientUnits="userSpaceOnUse" x1="1442.9" x2="1814.9"><stop offset="0.0000" stop-color="#f7f6f6"/><stop offset="0.4467" stop-color="#f7f5f4"/><stop offset="0.4650" stop-color="#f9f0eb"/><stop offset="0.4733" stop-color="#fae7dc"/><stop offset="0.4767" stop-color="#fcdfcf"/><stop offset="0.4792" stop-color="#fcd5bf"/><stop offset="0.4833" stop-color="#f6b394"/><stop offset="0.4867" stop-color="#eb9172"/><stop offset="0.4900" stop-color="#da6853"/><stop offset="0.4933" stop-color="#c84440"/><stop offset="0.4950" stop-color="#cf5246"/><stop offset="0.4958" stop-color="#d7634f"/><stop offset="0.4967" stop-color="#df765e"/><stop offset="0.4983" stop-color="#f5a886"/><stop offset="0.5000" stop-color="#fbccb4"/><stop offset="0.5017" stop-color="#fbe4d6"/><stop offset="0.5042" stop-color="#f8f4f2"/><stop offset="0.5050" stop-color="#f5f6f7"/><stop offset="0.5083" stop-color="#d5e7f1"/><stop offset="0.5100" stop-color="#b3d6e8"/><stop offset="0.5117" stop-color="#87beda"/><stop offset="0.5133" stop-color="#59a1ca"/><stop offset="0.5150" stop-color="#408fc1"/><stop offset="0.5167" stop-color="#4393c3"/><stop offset="0.5250" stop-color="#9bc9e0"/><stop offset="0.5317" stop-color="#d1e5f0"/><stop offset="0.5383" stop-color="#e4eef4"/><stop offset="0.5483" stop-color="#f0f4f6"/><stop offset="0.5750" stop-color="#f6f7f7"/><stop offset="1.0000" stop-color="#f7f6f6"/></linearGradient><linearGradient id="d11" gradientUnits="userSpaceOnUse" x1="1442.9" x2="1814.9"><stop offset="0.0000" stop-color="#f7f6f6"/><stop offset="0.4500" stop-color="#f7f5f4"/><stop offset="0.4667" stop-color="#f9f0eb"/><stop offset="0.4750" stop-color="#fae7dc"/><stop offset="0.4800" stop-color="#fdd9c4"/><stop offset="0.4850" stop-color="#f6b191"/><stop offset="0.4883" stop-color="#ea8e70"/><stop offset="0.4917" stop-color="#da6853"/><stop offset="0.4933" stop-color="#d25849"/><stop offset="0.4950" stop-color="#d35a4a"/><stop offset="0.4958" stop-color="#da6853"/><stop offset="0.4983" stop-color="#f5a886"/><stop offset="0.5000" stop-color="#fbceb7"/><stop offset="0.5017" stop-color="#fbe5d8"/><stop offset="0.5042" stop-color="#f7f5f4"/><stop offset="0.5050" stop-color="#f2f5f6"/><stop offset="0.5083" stop-color="#cfe4ef"/><stop offset="0.5100" stop-color="#a7d0e4"/><stop offset="0.5125" stop-color="#65a9cf"/><stop offset="0.5133" stop-color="#569fc9"/><stop offset="0.5150" stop-color="#4997c5"/><stop offset="0.5200" stop-color="#7bb6d6"/><stop offset="0.5233" stop-color="#9dcbe1"/><stop offset="0.5292" stop-color="#cce2ef"/><stop offset="0.5350" stop-color="#e1edf3"/><stop offset="0.5458" stop-color="#f0f4f6"/><stop offset="0.5708" stop-color="#f6f7f7"/><stop offset="1.0000" stop-color="#f7f6f6"/></linearGradient><linearGradient id="d12" gradientUnits="userSpaceOnUse" x1="1442.9" x2="1814.9"><stop offset="0.0000" stop-color="#f7f6f6"/><stop offset="0.4533" stop-color="#f7f5f4"/><stop offset="0.4683" stop-color="#f8f1ed"/><stop offset="0.4767" stop-color="#fae7dc"/><stop offset="0.4817" stop-color="#fcd7c2"/><stop offset="0.4867" stop-color="#f6af8e"/><stop offset="0.4883" stop-color="#f19e7d"/><stop offset="0.4933" stop-color="#da6853"/><stop offset="0.4950" stop-color="#d86551"/><stop offset="0.4958" stop-color="#dd7059"/><stop offset="0.4967" stop-color="#e48066"/><stop offset="0.4983" stop-color="#f5aa89"/><stop offset="0.5000" stop-color="#fbd0b9"/><stop offset="0.5017" stop-color="#fbe5d8"/><stop offset="0.5042" stop-color="#f6f7f7"/><stop offset="0.5067" stop-color="#deebf2"/><stop offset="0.5083" stop-color="#c5dfec"/><stop offset="0.5100" stop-color="#9dcbe1"/><stop offset="0.5117" stop-color="#71b0d3"/><stop offset="0.5125" stop-color="#62a7ce"/><stop offset="0.5133" stop-color="#59a1ca"/><stop offset="0.5150" stop-color="#5fa5cd"/><stop offset="0.5217" stop-color="#a0cce2"/><stop offset="0.5283" stop-color="#d2e6f0"/><stop offset="0.5350" stop-color="#e6eff4"/><stop offset="0.5458" stop-color="#f2f5f6"/><stop offset="0.5917" stop-color="#f7f6f6"/><stop offset="1.0000" stop-color="#f7f6f6"/></linearGradient><linearGradient id="d13" gradientUnits="userSpaceOnUse" x1="1442.9" x2="1814.9"><stop offset="0.0000" stop-color="#f7f6f6"/><stop offset="0.4550" stop-color="#f7f5f4"/><stop offset="0.4700" stop-color="#f8f1ed"/><stop offset="0.4750" stop-color="#f9ede5"/><stop offset="0.4800" stop-color="#fbe3d4"/><stop offset="0.4833" stop-color="#fcd5bf"/><stop offset="0.4900" stop-color="#f09c7b"/><stop offset="0.4933" stop-color="#e27b62"/><stop offset="0.4950" stop-color="#dd7059"/><stop offset="0.4958" stop-color="#e17860"/><stop offset="0.4967" stop-color="#e6866a"/><stop offset="0.4983" stop-color="#f5ac8b"/><stop offset="0.5000" stop-color="#fbd0b9"/><stop offset="0.5017" stop-color="#fbe6da"/><stop offset="0.5033" stop-color="#f8f3f0"/><stop offset="0.5042" stop-color="#f5f6f7"/><stop offset="0.5067" stop-color="#dae9f2"/><stop offset="0.5083" stop-color="#bbdaea"/><stop offset="0.5117" stop-color="#6eaed2"/><stop offset="0.5125" stop-color="#65a9cf"/><stop offset="0.5133" stop-color="#62a7ce"/><stop offset="0.5183" stop-color="#93c6de"/><stop offset="0.5250" stop-color="#cae1ee"/><stop offset="0.5292" stop-color="#dbeaf2"/><stop offset="0.5350" stop-color="#eaf1f5"/><stop offset="0.5517" stop-color="#f5f6f7"/><stop offset="1.0000" stop-color="#f7f6f6"/></linearGradient><linearGradient id="d14" gradientUnits="userSpaceOnUse" x1="1442.9" x2="1814.9"><stop offset="0.0000" stop-color="#f7f6f6"/><stop offset="0.4583" stop-color="#f7f5f4"/><stop offset="0.4733" stop-color="#f9f0eb"/><stop offset="0.4800" stop-color="#fbe6da"/><stop offset="0.4833" stop-color="#fdddcb"/><stop offset="0.4883" stop-color="#f7b99c"/><stop offset="0.4917" stop-color="#f09c7b"/><stop offset="0.4950" stop-color="#e37e64"/><stop offset="0.4958" stop-color="#e48066"/><stop offset="0.4967" stop-color="#ea8e70"/><stop offset="0.4983" stop-color="#f6b191"/><stop offset="0.5000" stop-color="#fcd3bc"/><stop offset="0.5017" stop-color="#fae7dc"/><stop offset="0.5033" stop-color="#f7f5f4"/><stop offset="0.5042" stop-color="#f2f5f6"/><stop offset="0.5067" stop-color="#d4e6f1"/><stop offset="0.5100" stop-color="#8ac0db"/><stop offset="0.5117" stop-color="#71b0d3"/><stop offset="0.5125" stop-color="#71b0d3"/><stop offset="0.5200" stop-color="#b1d5e7"/><stop offset="0.5250" stop-color="#d4e6f1"/><stop offset="0.5317" stop-color="#e7f0f4"/><stop offset="0.5417" stop-color="#f2f5f6"/><stop offset="0.5792" stop-color="#f7f6f6"/><stop offset="1.0000" stop-color="#f7f6f6"/></linearGradient><linearGradient id="d15" gradientUnits="userSpaceOnUse" x1="1442.9" x2="1814.9"><stop offset="0.0000" stop-color="#f7f6f6"/><stop offset="0.4617" stop-color="#f7f5f4"/><stop offset="0.4767" stop-color="#f9efe9"/><stop offset="0.4817" stop-color="#fbe6da"/><stop offset="0.4850" stop-color="#fddcc9"/><stop offset="0.4883" stop-color="#f9c6ac"/><stop offset="0.4917" stop-color="#f5aa89"/><stop offset="0.4950" stop-color="#ea8e70"/><stop offset="0.4958" stop-color="#e98b6e"/><stop offset="0.4967" stop-color="#ec9374"/><stop offset="0.4983" stop-color="#f6b394"/><stop offset="0.5000" stop-color="#fcd5bf"/><stop offset="0.5017" stop-color="#fae9df"/><stop offset="0.5033" stop-color="#f6f7f7"/><stop offset="0.5050" stop-color="#e4eef4"/><stop offset="0.5067" stop-color="#cce2ef"/><stop offset="0.5100" stop-color="#87beda"/><stop offset="0.5117" stop-color="#7eb8d7"/><stop offset="0.5217" stop-color="#cce2ef"/><stop offset="0.5267" stop-color="#e0ecf3"/><stop offset="0.5317" stop-color="#ecf2f5"/><stop offset="0.5467" stop-color="#f5f6f7"/><stop offset="1.0000" stop-color="#f7f6f6"/></linearGradient><linearGradient id="d16" gradientUnits="userSpaceOnUse" x1="1442.9" x2="1814.9"><stop offset="0.0000" stop-color="#f7f6f6"/><stop offset="0.4633" stop-color="#f7f5f4"/><stop offset="0.4783" stop-color="#f9efe9"/><stop offset="0.4850" stop-color="#fce2d2"/><stop offset="0.4875" stop-color="#fcd7c2"/><stop offset="0.4933" stop-color="#f5aa89"/><stop offset="0.4958" stop-color="#ef9979"/><stop offset="0.4967" stop-color="#f19e7d"/><stop offset="0.4983" stop-color="#f7b799"/><stop offset="0.5000" stop-color="#fdd9c4"/><stop offset="0.5017" stop-color="#faeae1"/><stop offset="0.5033" stop-color="#f3f5f6"/><stop offset="0.5050" stop-color="#e0ecf3"/><stop offset="0.5067" stop-color="#c5dfec"/><stop offset="0.5083" stop-color="#a2cde3"/><stop offset="0.5100" stop-color="#8ac0db"/><stop offset="0.5125" stop-color="#96c7df"/><stop offset="0.5200" stop-color="#cfe4ef"/><stop offset="0.5283" stop-color="#e9f0f4"/><stop offset="0.5375" stop-color="#f3f5f6"/><stop offset="0.6000" stop-color="#f7f6f6"/><stop offset="1.0000" stop-color="#f7f6f6"/></linearGradient><linearGradient id="d17" gradientUnits="userSpaceOnUse" x1="1442.9" x2="1814.9"><stop offset="0.0000" stop-color="#f7f6f6"/><stop offset="0.4667" stop-color="#f7f5f4"/><stop offset="0.4792" stop-color="#f9f0eb"/><stop offset="0.4867" stop-color="#fce2d2"/><stop offset="0.4883" stop-color="#fddcc9"/><stop offset="0.4958" stop-color="#f5a886"/><stop offset="0.4967" stop-color="#f5a886"/><stop offset="0.4983" stop-color="#f8bb9e"/><stop offset="0.5000" stop-color="#fddbc7"/><stop offset="0.5017" stop-color="#f9ede5"/><stop offset="0.5033" stop-color="#f0f4f6"/><stop offset="0.5050" stop-color="#dae9f2"/><stop offset="0.5083" stop-color="#a0cce2"/><stop offset="0.5100" stop-color="#98c8e0"/><stop offset="0.5183" stop-color="#d1e5f0"/><stop offset="0.5250" stop-color="#e7f0f4"/><stop offset="0.5333" stop-color="#f2f5f6"/><stop offset="0.5708" stop-color="#f7f6f6"/><stop offset="1.0000" stop-color="#f7f6f6"/></linearGradient><linearGradient id="d18" gradientUnits="userSpaceOnUse" x1="1442.9" x2="1814.9"><stop offset="0.0000" stop-color="#f7f6f6"/><stop offset="0.4708" stop-color="#f7f5f4"/><stop offset="0.4817" stop-color="#f9f0eb"/><stop offset="0.4883" stop-color="#fbe3d4"/><stop offset="0.4917" stop-color="#fcd5bf"/><stop offset="0.4967" stop-color="#f7b799"/><stop offset="0.4983" stop-color="#f9c4a9"/><stop offset="0.5000" stop-color="#fdddcb"/><stop offset="0.5017" stop-color="#f9eee7"/><stop offset="0.5033" stop-color="#ecf2f5"/><stop offset="0.5067" stop-color="#bbdaea"/><stop offset="0.5083" stop-color="#acd2e5"/><stop offset="0.5117" stop-color="#bbdaea"/><stop offset="0.5150" stop-color="#d1e5f0"/><stop offset="0.5233" stop-color="#eaf1f5"/><stop offset="0.5317" stop-color="#f3f5f6"/><stop offset="0.5833" stop-color="#f7f6f6"/><stop offset="1.0000" stop-color="#f7f6f6"/></linearGradient><linearGradient id="d19" gradientUnits="userSpaceOnUse" x1="1442.9" x2="1814.9"><stop offset="0.0000" stop-color="#f7f6f6"/><stop offset="0.4733" stop-color="#f7f5f4"/><stop offset="0.4833" stop-color="#f8f1ed"/><stop offset="0.4900" stop-color="#fbe5d8"/><stop offset="0.4950" stop-color="#fcd3bc"/><stop offset="0.4967" stop-color="#facab1"/><stop offset="0.4983" stop-color="#fbceb7"/><stop offset="0.5017" stop-color="#f9f0eb"/><stop offset="0.5033" stop-color="#e9f0f4"/><stop offset="0.5067" stop-color="#c2ddec"/><stop offset="0.5083" stop-color="#c0dceb"/><stop offset="0.5133" stop-color="#d7e8f1"/><stop offset="0.5217" stop-color="#edf2f5"/><stop offset="0.5317" stop-color="#f5f6f7"/><stop offset="1.0000" stop-color="#f7f6f6"/></linearGradient><linearGradient id="d20" gradientUnits="userSpaceOnUse" x1="1442.9" x2="1814.9"><stop offset="0.0000" stop-color="#f7f6f6"/><stop offset="0.4783" stop-color="#f7f5f4"/><stop offset="0.4867" stop-color="#f9f0eb"/><stop offset="0.4967" stop-color="#fddbc7"/><stop offset="0.4983" stop-color="#fddbc7"/><stop offset="0.5000" stop-color="#fbe4d6"/><stop offset="0.5017" stop-color="#f8f3f0"/><stop offset="0.5033" stop-color="#e7f0f4"/><stop offset="0.5050" stop-color="#d7e8f1"/><stop offset="0.5067" stop-color="#d1e5f0"/><stop offset="0.5200" stop-color="#eff3f5"/><stop offset="0.5333" stop-color="#f6f7f7"/><stop offset="1.0000" stop-color="#f7f6f6"/></linearGradient><linearGradient id="d21" gradientUnits="userSpaceOnUse" x1="1442.9" x2="1814.9"><stop offset="0.0000" stop-color="#f7f6f6"/><stop offset="0.4800" stop-color="#f7f5f4"/><stop offset="0.4883" stop-color="#f9f0eb"/><stop offset="0.4967" stop-color="#fcdfcf"/><stop offset="0.4983" stop-color="#fcdecd"/><stop offset="0.5000" stop-color="#fae7dc"/><stop offset="0.5017" stop-color="#f8f4f2"/><stop offset="0.5042" stop-color="#deebf2"/><stop offset="0.5067" stop-color="#d7e8f1"/><stop offset="0.5200" stop-color="#f2f5f6"/><stop offset="0.5467" stop-color="#f7f6f6"/><stop offset="1.0000" stop-color="#f7f6f6"/></linearGradient><linearGradient id="d22" gradientUnits="userSpaceOnUse" x1="1442.9" x2="1814.9"><stop offset="0.0000" stop-color="#f7f6f6"/><stop offset="0.4817" stop-color="#f7f5f4"/><stop offset="0.4900" stop-color="#f9f0eb"/><stop offset="0.4983" stop-color="#fbe3d4"/><stop offset="0.5000" stop-color="#fae9df"/><stop offset="0.5017" stop-color="#f7f6f6"/><stop offset="0.5042" stop-color="#e1edf3"/><stop offset="0.5050" stop-color="#ddebf2"/><stop offset="0.5183" stop-color="#f2f5f6"/><stop offset="0.5400" stop-color="#f7f6f6"/><stop offset="1.0000" stop-color="#f7f6f6"/></linearGradient><linearGradient id="d23" gradientUnits="userSpaceOnUse" x1="1442.9" x2="1814.9"><stop offset="0.0000" stop-color="#f7f6f6"/><stop offset="0.4850" stop-color="#f7f5f4"/><stop offset="0.4917" stop-color="#f9f0eb"/><stop offset="0.4983" stop-color="#fae7dc"/><stop offset="0.5000" stop-color="#f9ede5"/><stop offset="0.5017" stop-color="#f6f7f7"/><stop offset="0.5042" stop-color="#e4eef4"/><stop offset="0.5083" stop-color="#e7f0f4"/><stop offset="0.5183" stop-color="#f5f6f7"/><stop offset="1.0000" stop-color="#f7f6f6"/></linearGradient><linearGradient id="d24" gradientUnits="userSpaceOnUse" x1="1442.9" x2="1814.9"><stop offset="0.0000" stop-color="#f7f6f6"/><stop offset="0.4875" stop-color="#f7f5f4"/><stop offset="0.4958" stop-color="#f9eee7"/><stop offset="0.4983" stop-color="#f9ebe3"/><stop offset="0.5000" stop-color="#f9efe9"/><stop offset="0.5017" stop-color="#f5f6f7"/><stop offset="0.5033" stop-color="#eaf1f5"/><stop offset="0.5117" stop-color="#f0f4f6"/><stop offset="0.5183" stop-color="#f6f7f7"/><stop offset="1.0000" stop-color="#f7f6f6"/></linearGradient><linearGradient id="d25" gradientUnits="userSpaceOnUse" x1="1442.9" x2="1814.9"><stop offset="0.0000" stop-color="#f7f6f6"/><stop offset="0.4883" stop-color="#f7f5f4"/><stop offset="0.4983" stop-color="#f9eee7"/><stop offset="0.5017" stop-color="#f5f6f7"/><stop offset="0.5033" stop-color="#ecf2f5"/><stop offset="0.5183" stop-color="#f6f7f7"/><stop offset="1.0000" stop-color="#f7f6f6"/></linearGradient><linearGradient id="d26" gradientUnits="userSpaceOnUse" x1="1442.9" x2="1814.9"><stop offset="0.0000" stop-color="#f7f6f6"/><stop offset="0.4900" stop-color="#f7f5f4"/><stop offset="0.4983" stop-color="#f9efe9"/><stop offset="0.5017" stop-color="#f3f5f6"/><stop offset="0.5042" stop-color="#edf2f5"/><stop offset="0.5150" stop-color="#f6f7f7"/><stop offset="1.0000" stop-color="#f7f6f6"/></linearGradient><linearGradient id="d27" gradientUnits="userSpaceOnUse" x1="1442.9" x2="1814.9"><stop offset="0.0000" stop-color="#f7f6f6"/><stop offset="0.4917" stop-color="#f7f5f4"/><stop offset="0.4983" stop-color="#f8f1ed"/><stop offset="0.5017" stop-color="#f3f5f6"/><stop offset="0.5050" stop-color="#f0f4f6"/><stop offset="0.5183" stop-color="#f7f6f6"/><stop offset="1.0000" stop-color="#f7f6f6"/></linearGradient><linearGradient id="d28" gradientUnits="userSpaceOnUse" x1="1442.9" x2="1814.9"><stop offset="0.0000" stop-color="#f7f6f6"/><stop offset="0.4933" stop-color="#f7f5f4"/><stop offset="0.4983" stop-color="#f8f2ef"/><stop offset="0.5033" stop-color="#f2f5f6"/><stop offset="0.5233" stop-color="#f7f6f6"/><stop offset="1.0000" stop-color="#f7f6f6"/></linearGradient><linearGradient id="d29" gradientUnits="userSpaceOnUse" x1="1442.9" x2="1814.9"><stop offset="0.0000" stop-color="#f7f6f6"/><stop offset="0.4950" stop-color="#f7f5f4"/><stop offset="0.4983" stop-color="#f8f3f0"/><stop offset="0.5017" stop-color="#f5f6f7"/><stop offset="1.0000" stop-color="#f7f6f6"/></linearGradient><linearGradient id="d30" gradientUnits="userSpaceOnUse" x1="1442.9" x2="1814.9"><stop offset="0.0000" stop-color="#f7f6f6"/><stop offset="0.4967" stop-color="#f7f5f4"/><stop offset="0.5000" stop-color="#f7f5f4"/><stop offset="0.5083" stop-color="#f6f7f7"/><stop offset="1.0000" stop-color="#f7f6f6"/></linearGradient><linearGradient id="d31" gradientUnits="userSpaceOnUse" x1="1442.9" x2="1814.9"><stop offset="0.0000" stop-color="#f7f6f6"/><stop offset="0.5000" stop-color="#f7f6f6"/><stop offset="1.0000" stop-color="#f7f6f6"/></linearGradient><linearGradient id="d32" gradientUnits="userSpaceOnUse" x1="1442.9" x2="1814.9"><stop offset="0.0000" stop-color="#f7f6f6"/><stop offset="1.0000" stop-color="#f7f6f6"/></linearGradient><linearGradient id="d33" gradientUnits="userSpaceOnUse" x1="1442.9" x2="1814.9"><stop offset="0.0000" stop-color="#f7f6f6"/><stop offset="1.0000" stop-color="#f7f6f6"/></linearGradient><linearGradient id="d34" gradientUnits="userSpaceOnUse" x1="1442.9" x2="1814.9"><stop offset="0.0000" stop-color="#f7f6f6"/><stop offset="1.0000" stop-color="#f7f6f6"/></linearGradient><linearGradient id="d35" gradientUnits="userSpaceOnUse" x1="1442.9" x2="1814.9"><stop offset="0.0000" stop-color="#f7f6f6"/><stop offset="1.0000" stop-color="#f7f6f6"/></linearGradient><linearGradient id="d36" gradientUnits="userSpaceOnUse" x1="1442.9" x2="1814.9"><stop offset="0.0000" stop-color="#f7f6f6"/><stop offset="1.0000" stop-color="#f7f6f6"/></linearGradient><linearGradient id="d37" gradientUnits="userSpaceOnUse" x1="1442.9" x2="1814.9"><stop offset="0.0000" stop-color="#f7f6f6"/><stop offset="1.0000" stop-color="#f7f6f6"/></linearGradient><linearGradient id="d38" gradientUnits="userSpaceOnUse" x1="1442.9" x2="1814.9"><stop offset="0.0000" stop-color="#f7f6f6"/><stop offset="1.0000" stop-color="#f7f6f6"/></linearGradient><linearGradient id="d39" gradientUnits="userSpaceOnUse" x1="1442.9" x2="1814.9"><stop offset="0.0000" stop-color="#f7f6f6"/><stop offset="1.0000" stop-color="#f7f6f6"/></linearGradient><linearGradient id="d40" gradientUnits="userSpaceOnUse" x1="1442.9" x2="1814.9"><stop offset="0.0000" stop-color="#f7f6f6"/><stop offset="1.0000" stop-color="#f7f6f6"/></linearGradient><linearGradient id="d41" gradientUnits="userSpaceOnUse" x1="1442.9" x2="1814.9"><stop offset="0.0000" stop-color="#f7f6f6"/><stop offset="1.0000" stop-color="#f7f6f6"/></linearGradient><linearGradient id="d42" gradientUnits="userSpaceOnUse" x1="1442.9" x2="1814.9"><stop offset="0.0000" stop-color="#f7f6f6"/><stop offset="1.0000" stop-color="#f7f6f6"/></linearGradient><linearGradient id="d43" gradientUnits="userSpaceOnUse" x1="1442.9" x2="1814.9"><stop offset="0.0000" stop-color="#f7f6f6"/><stop offset="1.0000" stop-color="#f7f6f6"/></linearGradient><linearGradient id="d44" gradientUnits="userSpaceOnUse" x1="1442.9" x2="1814.9"><stop offset="0.0000" stop-color="#f7f6f6"/><stop offset="1.0000" stop-color="#f7f6f6"/></linearGradient><linearGradient id="d45" gradientUnits="userSpaceOnUse" x1="1442.9" x2="1814.9"><stop offset="0.0000" stop-color="#f7f6f6"/><stop offset="1.0000" stop-color="#f7f6f6"/></linearGradient><linearGradient id="d46" gradientUnits="userSpaceOnUse" x1="1442.9" x2="1814.9"><stop offset="0.0000" stop-color="#f7f6f6"/><stop offset="1.0000" stop-color="#f7f6f6"/></linearGradient><linearGradient id="d47" gradientUnits="userSpaceOnUse" x1="1442.9" x2="1814.9"><stop offset="0.0000" stop-color="#f7f6f6"/><stop offset="1.0000" stop-color="#f7f6f6"/></linearGradient><linearGradient id="d48" gradientUnits="userSpaceOnUse" x1="1442.9" x2="1814.9"><stop offset="0.0000" stop-color="#f7f6f6"/><stop offset="1.0000" stop-color="#f7f6f6"/></linearGradient><linearGradient id="d49" gradientUnits="userSpaceOnUse" x1="1442.9" x2="1814.9"><stop offset="0.0000" stop-color="#f7f6f6"/><stop offset="1.0000" stop-color="#f7f6f6"/></linearGradient><linearGradient id="d50" gradientUnits="userSpaceOnUse" x1="1442.9" x2="1814.9"><stop offset="0.0000" stop-color="#f7f6f6"/><stop offset="1.0000" stop-color="#f7f6f6"/></linearGradient><linearGradient id="d51" gradientUnits="userSpaceOnUse" x1="1442.9" x2="1814.9"><stop offset="0.0000" stop-color="#f7f6f6"/><stop offset="1.0000" stop-color="#f7f6f6"/></linearGradient><linearGradient id="d52" gradientUnits="userSpaceOnUse" x1="1442.9" x2="1814.9"><stop offset="0.0000" stop-color="#f7f6f6"/><stop offset="1.0000" stop-color="#f7f6f6"/></linearGradient><linearGradient id="d53" gradientUnits="userSpaceOnUse" x1="1442.9" x2="1814.9"><stop offset="0.0000" stop-color="#f7f6f6"/><stop offset="1.0000" stop-color="#f7f6f6"/></linearGradient><linearGradient id="d54" gradientUnits="userSpaceOnUse" x1="1442.9" x2="1814.9"><stop offset="0.0000" stop-color="#f7f6f6"/><stop offset="1.0000" stop-color="#f7f6f6"/></linearGradient><linearGradient id="d55" gradientUnits="userSpaceOnUse" x1="1442.9" x2="1814.9"><stop offset="0.0000" stop-color="#f7f6f6"/><stop offset="1.0000" stop-color="#f7f6f6"/></linearGradient><linearGradient id="d56" gradientUnits="userSpaceOnUse" x1="1442.9" x2="1814.9"><stop offset="0.0000" stop-color="#f7f6f6"/><stop offset="1.0000" stop-color="#f7f6f6"/></linearGradient><linearGradient id="d57" gradientUnits="userSpaceOnUse" x1="1442.9" x2="1814.9"><stop offset="0.0000" stop-color="#f7f6f6"/><stop offset="1.0000" stop-color="#f7f6f6"/></linearGradient><linearGradient id="d58" gradientUnits="userSpaceOnUse" x1="1442.9" x2="1814.9"><stop offset="0.0000" stop-color="#f7f6f6"/><stop offset="1.0000" stop-color="#f7f6f6"/></linearGradient><linearGradient id="d59" gradientUnits="userSpaceOnUse" x1="1442.9" x2="1814.9"><stop offset="0.0000" stop-color="#f7f6f6"/><stop offset="1.0000" stop-color="#f7f6f6"/></linearGradient><linearGradient id="d60" gradientUnits="userSpaceOnUse" x1="1442.9" x2="1814.9"><stop offset="0.0000" stop-color="#f7f6f6"/><stop offset="1.0000" stop-color="#f7f6f6"/></linearGradient></defs>
<text x="-0.3" y="37.3" font-size="36.6" font-weight="bold" textLength="20.7" lengthAdjust="spacingAndGlyphs" fill="#000" stroke="#000" stroke-width="1.5" stroke-linejoin="round">a</text>
<text x="314.4" y="37.1" font-size="38.5" font-weight="bold" textLength="25.5" lengthAdjust="spacingAndGlyphs" fill="#000" stroke="#000" stroke-width="1.5" stroke-linejoin="round">b</text>
<text x="822.4" y="36.3" font-size="36.0" font-weight="bold" textLength="23.2" lengthAdjust="spacingAndGlyphs" fill="#000" stroke="#000" stroke-width="1.5" stroke-linejoin="round">c</text>
<text x="1333.2" y="32.7" font-size="38.5" font-weight="bold" textLength="25.4" lengthAdjust="spacingAndGlyphs" fill="#000" stroke="#000" stroke-width="1.5" stroke-linejoin="round">d</text>
<path d="M106.75 271.7 L109.7 276.4 L112 292.7 L114.8 312 L117.5 329.9 L120.4 344.5 L123.1 362.5 L125.9 380.4 L128.3 398.4 L131 413.7 L133.8 429.5 L136.6 442.2 L139.5 453.7 L142.1 463.2 L144.7 471.8 L147.3 479.1 L149.9 484.9 L152.6 488.2 L155.4 491.3 L158.1 494 L160.8 495.2 L163.6 495.4 L166.3 494.3 L169 493.3 L171.8 492.3 L174.5 490.1 L177.2 493 L180 495.4 L182.7 493.5 L185.4 492 L188.2 495 L190.9 494 L193.6 489.3 L196 479.8 L198.6 467.5 L201.3 450 L204 428.3 L206.9 402.8 L209.7 374.4 L212.2 343.5 L214.8 313.9 L217.5 287.1 L220.3 260.3 L223 239.4 L225.6 221.7 L228.1 206.2 L231 194 L233.8 186.4 L236.4 176.5 L239.3 172.3 L242 164.9 L245.2 162.4 L247.1 156.1 L250.4 158 L252.6 153.1 L255.9 150.4 L259.2 148.2 L263 144.6 L265.8 146 L269.3 144.6" fill="none" stroke="#10104f" stroke-width="3.2" stroke-linejoin="round" stroke-linecap="round"/>
<g fill="#10104f"><circle cx="106.75" cy="271.7" r="3.7"/><circle cx="109.7" cy="276.4" r="3.7"/><circle cx="112" cy="292.7" r="3.7"/><circle cx="114.8" cy="312" r="3.7"/><circle cx="117.5" cy="329.9" r="3.7"/><circle cx="120.4" cy="344.5" r="3.7"/><circle cx="123.1" cy="362.5" r="3.7"/><circle cx="125.9" cy="380.4" r="3.7"/><circle cx="128.3" cy="398.4" r="3.7"/><circle cx="131" cy="413.7" r="3.7"/><circle cx="133.8" cy="429.5" r="3.7"/><circle cx="136.6" cy="442.2" r="3.7"/><circle cx="139.5" cy="453.7" r="3.7"/><circle cx="142.1" cy="463.2" r="3.7"/><circle cx="144.7" cy="471.8" r="3.7"/><circle cx="147.3" cy="479.1" r="3.7"/><circle cx="149.9" cy="484.9" r="3.7"/><circle cx="152.6" cy="488.2" r="3.7"/><circle cx="155.4" cy="491.3" r="3.7"/><circle cx="158.1" cy="494" r="3.7"/><circle cx="160.8" cy="495.2" r="3.7"/><circle cx="163.6" cy="495.4" r="3.7"/><circle cx="166.3" cy="494.3" r="3.7"/><circle cx="169" cy="493.3" r="3.7"/><circle cx="171.8" cy="492.3" r="3.7"/><circle cx="174.5" cy="490.1" r="3.7"/><circle cx="177.2" cy="493" r="3.7"/><circle cx="180" cy="495.4" r="3.7"/><circle cx="182.7" cy="493.5" r="3.7"/><circle cx="185.4" cy="492" r="3.7"/><circle cx="188.2" cy="495" r="3.7"/><circle cx="190.9" cy="494" r="3.7"/><circle cx="193.6" cy="489.3" r="3.7"/><circle cx="196" cy="479.8" r="3.7"/><circle cx="198.6" cy="467.5" r="3.7"/><circle cx="201.3" cy="450" r="3.7"/><circle cx="204" cy="428.3" r="3.7"/><circle cx="206.9" cy="402.8" r="3.7"/><circle cx="209.7" cy="374.4" r="3.7"/><circle cx="212.2" cy="343.5" r="3.7"/><circle cx="214.8" cy="313.9" r="3.7"/><circle cx="217.5" cy="287.1" r="3.7"/><circle cx="220.3" cy="260.3" r="3.7"/><circle cx="223" cy="239.4" r="3.7"/><circle cx="225.6" cy="221.7" r="3.7"/><circle cx="228.1" cy="206.2" r="3.7"/><circle cx="231" cy="194" r="3.7"/><circle cx="233.8" cy="186.4" r="3.7"/><circle cx="236.4" cy="176.5" r="3.7"/><circle cx="239.3" cy="172.3" r="3.7"/><circle cx="242" cy="164.9" r="3.7"/><circle cx="245.2" cy="162.4" r="3.7"/><circle cx="247.1" cy="156.1" r="3.7"/><circle cx="250.4" cy="158" r="3.7"/><circle cx="252.6" cy="153.1" r="3.7"/><circle cx="255.9" cy="150.4" r="3.7"/><circle cx="259.2" cy="148.2" r="3.7"/><circle cx="263" cy="144.6" r="3.7"/><circle cx="265.8" cy="146" r="3.7"/><circle cx="269.3" cy="144.6" r="3.7"/></g>
<path d="M99.0 131.5 H277.1 V502.2 H99.0 Z" fill="none" stroke="#222" stroke-width="1"/>
<line x1="86" y1="137.5" x2="99" y2="137.5" stroke="#222" stroke-width="1"/>
<line x1="91.2" y1="151.9" x2="99" y2="151.9" stroke="#333" stroke-width="1"/>
<line x1="91.2" y1="166.3" x2="99" y2="166.3" stroke="#333" stroke-width="1"/>
<line x1="91.2" y1="180.7" x2="99" y2="180.7" stroke="#333" stroke-width="1"/>
<line x1="91.2" y1="195.1" x2="99" y2="195.1" stroke="#333" stroke-width="1"/>
<line x1="86" y1="209.5" x2="99" y2="209.5" stroke="#222" stroke-width="1"/>
<line x1="91.2" y1="223.9" x2="99" y2="223.9" stroke="#333" stroke-width="1"/>
<line x1="91.2" y1="238.3" x2="99" y2="238.3" stroke="#333" stroke-width="1"/>
<line x1="91.2" y1="252.7" x2="99" y2="252.7" stroke="#333" stroke-width="1"/>
<line x1="91.2" y1="267.1" x2="99" y2="267.1" stroke="#333" stroke-width="1"/>
<line x1="86" y1="281.5" x2="99" y2="281.5" stroke="#222" stroke-width="1"/>
<line x1="91.2" y1="295.9" x2="99" y2="295.9" stroke="#333" stroke-width="1"/>
<line x1="91.2" y1="310.3" x2="99" y2="310.3" stroke="#333" stroke-width="1"/>
<line x1="91.2" y1="324.7" x2="99" y2="324.7" stroke="#333" stroke-width="1"/>
<line x1="91.2" y1="339.1" x2="99" y2="339.1" stroke="#333" stroke-width="1"/>
<line x1="86" y1="353.5" x2="99" y2="353.5" stroke="#222" stroke-width="1"/>
<line x1="91.2" y1="367.9" x2="99" y2="367.9" stroke="#333" stroke-width="1"/>
<line x1="91.2" y1="382.3" x2="99" y2="382.3" stroke="#333" stroke-width="1"/>
<line x1="91.2" y1="396.7" x2="99" y2="396.7" stroke="#333" stroke-width="1"/>
<line x1="91.2" y1="411.1" x2="99" y2="411.1" stroke="#333" stroke-width="1"/>
<line x1="86" y1="425.5" x2="99" y2="425.5" stroke="#222" stroke-width="1"/>
<line x1="91.2" y1="439.9" x2="99" y2="439.9" stroke="#333" stroke-width="1"/>
<line x1="91.2" y1="454.3" x2="99" y2="454.3" stroke="#333" stroke-width="1"/>
<line x1="91.2" y1="468.7" x2="99" y2="468.7" stroke="#333" stroke-width="1"/>
<line x1="91.2" y1="483.1" x2="99" y2="483.1" stroke="#333" stroke-width="1"/>
<line x1="105.6" y1="502.2" x2="105.6" y2="515" stroke="#222" stroke-width="1"/>
<line x1="119.24" y1="502.2" x2="119.24" y2="510.2" stroke="#333" stroke-width="1"/>
<line x1="132.88" y1="502.2" x2="132.88" y2="510.2" stroke="#333" stroke-width="1"/>
<line x1="146.51" y1="502.2" x2="146.51" y2="510.2" stroke="#333" stroke-width="1"/>
<line x1="160.15" y1="502.2" x2="160.15" y2="510.2" stroke="#333" stroke-width="1"/>
<line x1="173.79" y1="502.2" x2="173.79" y2="510.2" stroke="#333" stroke-width="1"/>
<line x1="187.43" y1="502.2" x2="187.43" y2="515" stroke="#222" stroke-width="1"/>
<line x1="201.06" y1="502.2" x2="201.06" y2="510.2" stroke="#333" stroke-width="1"/>
<line x1="214.7" y1="502.2" x2="214.7" y2="510.2" stroke="#333" stroke-width="1"/>
<line x1="228.34" y1="502.2" x2="228.34" y2="510.2" stroke="#333" stroke-width="1"/>
<line x1="241.97" y1="502.2" x2="241.97" y2="510.2" stroke="#333" stroke-width="1"/>
<line x1="255.61" y1="502.2" x2="255.61" y2="510.2" stroke="#333" stroke-width="1"/>
<line x1="269.25" y1="502.2" x2="269.25" y2="515" stroke="#222" stroke-width="1"/>
<text x="61.51" y="147.2" font-size="23.5" textLength="15.98" lengthAdjust="spacingAndGlyphs" fill="#111">0</text>
<text x="51.11" y="218.9" font-size="23.5" textLength="26.19" lengthAdjust="spacingAndGlyphs" fill="#111">−5</text>
<text x="39.91" y="290.8" font-size="23.5" textLength="37.59" lengthAdjust="spacingAndGlyphs" fill="#111">−10</text>
<text x="41.41" y="362.8" font-size="23.5" textLength="36.09" lengthAdjust="spacingAndGlyphs" fill="#111">−15</text>
<text x="35.91" y="434.6" font-size="23.5" textLength="41.69" lengthAdjust="spacingAndGlyphs" fill="#111">−20</text>
<text x="97.61" y="542.7" font-size="23.5" textLength="16.19" lengthAdjust="spacingAndGlyphs" fill="#111">0</text>
<text x="167.31" y="542.7" font-size="23.5" textLength="39.48" lengthAdjust="spacingAndGlyphs" fill="#111">150</text>
<text x="246.21" y="542.7" font-size="23.5" textLength="45.48" lengthAdjust="spacingAndGlyphs" fill="#111">300</text>
<text x="159.34" y="585.9" font-size="26.6" textLength="56.63" lengthAdjust="spacingAndGlyphs" fill="#111"><tspan font-style="italic">T</tspan> (K)</text>
<text transform="translate(24,358.86) rotate(-90)" font-size="26.6" textLength="85.53" lengthAdjust="spacingAndGlyphs" fill="#111">MR (%)</text>
<text x="108.69" y="158" font-size="22" textLength="71.42" lengthAdjust="spacingAndGlyphs" fill="#111"><tspan font-style="italic">B</tspan> = 3 T</text>
<rect x="417.3" y="495.67" width="372.1" height="6.83" fill="url(#b0)"/>
<rect x="417.3" y="489.54" width="372.1" height="7.33" fill="url(#b1)"/>
<rect x="417.3" y="483.41" width="372.1" height="7.33" fill="url(#b2)"/>
<rect x="417.3" y="477.28" width="372.1" height="7.33" fill="url(#b3)"/>
<rect x="417.3" y="471.16" width="372.1" height="7.33" fill="url(#b4)"/>
<rect x="417.3" y="465.03" width="372.1" height="7.33" fill="url(#b5)"/>
<rect x="417.3" y="458.9" width="372.1" height="7.33" fill="url(#b6)"/>
<rect x="417.3" y="452.78" width="372.1" height="7.33" fill="url(#b7)"/>
<rect x="417.3" y="446.65" width="372.1" height="7.33" fill="url(#b8)"/>
<rect x="417.3" y="440.52" width="372.1" height="7.33" fill="url(#b9)"/>
<rect x="417.3" y="434.4" width="372.1" height="7.33" fill="url(#b10)"/>
<rect x="417.3" y="428.27" width="372.1" height="7.33" fill="url(#b11)"/>
<rect x="417.3" y="422.14" width="372.1" height="7.33" fill="url(#b12)"/>
<rect x="417.3" y="416.01" width="372.1" height="7.33" fill="url(#b13)"/>
<rect x="417.3" y="409.89" width="372.1" height="7.33" fill="url(#b14)"/>
<rect x="417.3" y="403.76" width="372.1" height="7.33" fill="url(#b15)"/>
<rect x="417.3" y="397.63" width="372.1" height="7.33" fill="url(#b16)"/>
<rect x="417.3" y="391.51" width="372.1" height="7.33" fill="url(#b17)"/>
<rect x="417.3" y="385.38" width="372.1" height="7.33" fill="url(#b18)"/>
<rect x="417.3" y="379.25" width="372.1" height="7.33" fill="url(#b19)"/>
<rect x="417.3" y="373.13" width="372.1" height="7.33" fill="url(#b20)"/>
<rect x="417.3" y="367" width="372.1" height="7.33" fill="url(#b21)"/>
<rect x="417.3" y="360.87" width="372.1" height="7.33" fill="url(#b22)"/>
<rect x="417.3" y="354.74" width="372.1" height="7.33" fill="url(#b23)"/>
<rect x="417.3" y="348.62" width="372.1" height="7.33" fill="url(#b24)"/>
<rect x="417.3" y="342.49" width="372.1" height="7.33" fill="url(#b25)"/>
<rect x="417.3" y="336.36" width="372.1" height="7.33" fill="url(#b26)"/>
<rect x="417.3" y="330.24" width="372.1" height="7.33" fill="url(#b27)"/>
<rect x="417.3" y="324.11" width="372.1" height="7.33" fill="url(#b28)"/>
<rect x="417.3" y="317.98" width="372.1" height="7.33" fill="url(#b29)"/>
<rect x="417.3" y="311.85" width="372.1" height="7.33" fill="url(#b30)"/>
<rect x="417.3" y="305.73" width="372.1" height="7.33" fill="url(#b31)"/>
<rect x="417.3" y="299.6" width="372.1" height="7.33" fill="url(#b32)"/>
<rect x="417.3" y="293.47" width="372.1" height="7.33" fill="url(#b33)"/>
<rect x="417.3" y="287.35" width="372.1" height="7.33" fill="url(#b34)"/>
<rect x="417.3" y="281.22" width="372.1" height="7.33" fill="url(#b35)"/>
<rect x="417.3" y="275.09" width="372.1" height="7.33" fill="url(#b36)"/>
<rect x="417.3" y="268.97" width="372.1" height="7.33" fill="url(#b37)"/>
<rect x="417.3" y="262.84" width="372.1" height="7.33" fill="url(#b38)"/>
<rect x="417.3" y="256.71" width="372.1" height="7.33" fill="url(#b39)"/>
<rect x="417.3" y="250.58" width="372.1" height="7.33" fill="url(#b40)"/>
<rect x="417.3" y="244.46" width="372.1" height="7.33" fill="url(#b41)"/>
<rect x="417.3" y="238.33" width="372.1" height="7.33" fill="url(#b42)"/>
<rect x="417.3" y="232.2" width="372.1" height="7.33" fill="url(#b43)"/>
<rect x="417.3" y="226.08" width="372.1" height="7.33" fill="url(#b44)"/>
<rect x="417.3" y="219.95" width="372.1" height="7.33" fill="url(#b45)"/>
<rect x="417.3" y="213.82" width="372.1" height="7.33" fill="url(#b46)"/>
<rect x="417.3" y="207.7" width="372.1" height="7.33" fill="url(#b47)"/>
<rect x="417.3" y="201.57" width="372.1" height="7.33" fill="url(#b48)"/>
<rect x="417.3" y="195.44" width="372.1" height="7.33" fill="url(#b49)"/>
<rect x="417.3" y="189.31" width="372.1" height="7.33" fill="url(#b50)"/>
<rect x="417.3" y="183.19" width="372.1" height="7.33" fill="url(#b51)"/>
<rect x="417.3" y="177.06" width="372.1" height="7.33" fill="url(#b52)"/>
<rect x="417.3" y="170.93" width="372.1" height="7.33" fill="url(#b53)"/>
<rect x="417.3" y="164.81" width="372.1" height="7.33" fill="url(#b54)"/>
<rect x="417.3" y="158.68" width="372.1" height="7.33" fill="url(#b55)"/>
<rect x="417.3" y="152.55" width="372.1" height="7.33" fill="url(#b56)"/>
<rect x="417.3" y="146.43" width="372.1" height="7.33" fill="url(#b57)"/>
<rect x="417.3" y="140.3" width="372.1" height="7.33" fill="url(#b58)"/>
<rect x="417.3" y="134.17" width="372.1" height="7.33" fill="url(#b59)"/>
<rect x="417.3" y="130.3" width="372.1" height="5.07" fill="url(#b60)"/>
<rect x="417.3" y="130.3" width="372.1" height="372.2" fill="none" stroke="#222" stroke-width="1.1"/>
<line x1="404.1" y1="502.5" x2="417.3" y2="502.5" stroke="#222" stroke-width="1.1"/>
<line x1="409.7" y1="491.07" x2="417.3" y2="491.07" stroke="#444" stroke-width="1.1"/>
<line x1="409.7" y1="478.73" x2="417.3" y2="478.73" stroke="#444" stroke-width="1.1"/>
<line x1="409.7" y1="466.4" x2="417.3" y2="466.4" stroke="#444" stroke-width="1.1"/>
<line x1="409.7" y1="454.07" x2="417.3" y2="454.07" stroke="#444" stroke-width="1.1"/>
<line x1="404.1" y1="441.73" x2="417.3" y2="441.73" stroke="#222" stroke-width="1.1"/>
<line x1="409.7" y1="429.4" x2="417.3" y2="429.4" stroke="#444" stroke-width="1.1"/>
<line x1="409.7" y1="417.07" x2="417.3" y2="417.07" stroke="#444" stroke-width="1.1"/>
<line x1="409.7" y1="404.74" x2="417.3" y2="404.74" stroke="#444" stroke-width="1.1"/>
<line x1="409.7" y1="392.4" x2="417.3" y2="392.4" stroke="#444" stroke-width="1.1"/>
<line x1="404.1" y1="380.07" x2="417.3" y2="380.07" stroke="#222" stroke-width="1.1"/>
<line x1="409.7" y1="367.74" x2="417.3" y2="367.74" stroke="#444" stroke-width="1.1"/>
<line x1="409.7" y1="355.4" x2="417.3" y2="355.4" stroke="#444" stroke-width="1.1"/>
<line x1="409.7" y1="343.07" x2="417.3" y2="343.07" stroke="#444" stroke-width="1.1"/>
<line x1="409.7" y1="330.74" x2="417.3" y2="330.74" stroke="#444" stroke-width="1.1"/>
<line x1="404.1" y1="318.4" x2="417.3" y2="318.4" stroke="#222" stroke-width="1.1"/>
<line x1="409.7" y1="306.07" x2="417.3" y2="306.07" stroke="#444" stroke-width="1.1"/>
<line x1="409.7" y1="293.74" x2="417.3" y2="293.74" stroke="#444" stroke-width="1.1"/>
<line x1="409.7" y1="281.41" x2="417.3" y2="281.41" stroke="#444" stroke-width="1.1"/>
<line x1="409.7" y1="269.07" x2="417.3" y2="269.07" stroke="#444" stroke-width="1.1"/>
<line x1="404.1" y1="256.74" x2="417.3" y2="256.74" stroke="#222" stroke-width="1.1"/>
<line x1="409.7" y1="244.41" x2="417.3" y2="244.41" stroke="#444" stroke-width="1.1"/>
<line x1="409.7" y1="232.07" x2="417.3" y2="232.07" stroke="#444" stroke-width="1.1"/>
<line x1="409.7" y1="219.74" x2="417.3" y2="219.74" stroke="#444" stroke-width="1.1"/>
<line x1="409.7" y1="207.41" x2="417.3" y2="207.41" stroke="#444" stroke-width="1.1"/>
<line x1="404.1" y1="195.07" x2="417.3" y2="195.07" stroke="#222" stroke-width="1.1"/>
<line x1="409.7" y1="182.74" x2="417.3" y2="182.74" stroke="#444" stroke-width="1.1"/>
<line x1="409.7" y1="170.41" x2="417.3" y2="170.41" stroke="#444" stroke-width="1.1"/>
<line x1="409.7" y1="158.08" x2="417.3" y2="158.08" stroke="#444" stroke-width="1.1"/>
<line x1="409.7" y1="145.74" x2="417.3" y2="145.74" stroke="#444" stroke-width="1.1"/>
<line x1="404.1" y1="133.41" x2="417.3" y2="133.41" stroke="#222" stroke-width="1.1"/>
<line x1="416.65" y1="502.5" x2="416.65" y2="516" stroke="#222" stroke-width="1.1"/>
<line x1="429.06" y1="502.5" x2="429.06" y2="511" stroke="#444" stroke-width="1.1"/>
<line x1="441.47" y1="502.5" x2="441.47" y2="511" stroke="#444" stroke-width="1.1"/>
<line x1="453.88" y1="502.5" x2="453.88" y2="511" stroke="#444" stroke-width="1.1"/>
<line x1="466.29" y1="502.5" x2="466.29" y2="511" stroke="#444" stroke-width="1.1"/>
<line x1="478.7" y1="502.5" x2="478.7" y2="516" stroke="#222" stroke-width="1.1"/>
<line x1="491.11" y1="502.5" x2="491.11" y2="511" stroke="#444" stroke-width="1.1"/>
<line x1="503.52" y1="502.5" x2="503.52" y2="511" stroke="#444" stroke-width="1.1"/>
<line x1="515.93" y1="502.5" x2="515.93" y2="511" stroke="#444" stroke-width="1.1"/>
<line x1="528.34" y1="502.5" x2="528.34" y2="511" stroke="#444" stroke-width="1.1"/>
<line x1="540.75" y1="502.5" x2="540.75" y2="516" stroke="#222" stroke-width="1.1"/>
<line x1="553.16" y1="502.5" x2="553.16" y2="511" stroke="#444" stroke-width="1.1"/>
<line x1="565.57" y1="502.5" x2="565.57" y2="511" stroke="#444" stroke-width="1.1"/>
<line x1="577.98" y1="502.5" x2="577.98" y2="511" stroke="#444" stroke-width="1.1"/>
<line x1="590.39" y1="502.5" x2="590.39" y2="511" stroke="#444" stroke-width="1.1"/>
<line x1="602.8" y1="502.5" x2="602.8" y2="516" stroke="#222" stroke-width="1.1"/>
<line x1="615.21" y1="502.5" x2="615.21" y2="511" stroke="#444" stroke-width="1.1"/>
<line x1="627.62" y1="502.5" x2="627.62" y2="511" stroke="#444" stroke-width="1.1"/>
<line x1="640.03" y1="502.5" x2="640.03" y2="511" stroke="#444" stroke-width="1.1"/>
<line x1="652.44" y1="502.5" x2="652.44" y2="511" stroke="#444" stroke-width="1.1"/>
<line x1="664.85" y1="502.5" x2="664.85" y2="516" stroke="#222" stroke-width="1.1"/>
<line x1="677.26" y1="502.5" x2="677.26" y2="511" stroke="#444" stroke-width="1.1"/>
<line x1="689.67" y1="502.5" x2="689.67" y2="511" stroke="#444" stroke-width="1.1"/>
<line x1="702.08" y1="502.5" x2="702.08" y2="511" stroke="#444" stroke-width="1.1"/>
<line x1="714.49" y1="502.5" x2="714.49" y2="511" stroke="#444" stroke-width="1.1"/>
<line x1="726.9" y1="502.5" x2="726.9" y2="516" stroke="#222" stroke-width="1.1"/>
<line x1="739.31" y1="502.5" x2="739.31" y2="511" stroke="#444" stroke-width="1.1"/>
<line x1="751.72" y1="502.5" x2="751.72" y2="511" stroke="#444" stroke-width="1.1"/>
<line x1="764.13" y1="502.5" x2="764.13" y2="511" stroke="#444" stroke-width="1.1"/>
<line x1="776.54" y1="502.5" x2="776.54" y2="511" stroke="#444" stroke-width="1.1"/>
<line x1="789.4" y1="502.5" x2="789.4" y2="516" stroke="#222" stroke-width="1.1"/>
<text x="350.31" y="143.01" font-size="23.5" textLength="46.09" lengthAdjust="spacingAndGlyphs" fill="#111">300</text>
<text x="352.81" y="204.67" font-size="23.5" textLength="43.59" lengthAdjust="spacingAndGlyphs" fill="#111">250</text>
<text x="350.51" y="266.34" font-size="23.5" textLength="45.89" lengthAdjust="spacingAndGlyphs" fill="#111">200</text>
<text x="356.61" y="328" font-size="23.5" textLength="39.79" lengthAdjust="spacingAndGlyphs" fill="#111">150</text>
<text x="354.31" y="389.67" font-size="23.5" textLength="42.09" lengthAdjust="spacingAndGlyphs" fill="#111">100</text>
<text x="366.51" y="451.33" font-size="23.5" textLength="29.89" lengthAdjust="spacingAndGlyphs" fill="#111">50</text>
<text x="380.41" y="512.3" font-size="23.5" textLength="15.99" lengthAdjust="spacingAndGlyphs" fill="#111">0</text>
<text x="402.46" y="542.7" font-size="23.5" textLength="26.38" lengthAdjust="spacingAndGlyphs" fill="#111">−3</text>
<text x="466.41" y="542.7" font-size="23.5" textLength="25.39" lengthAdjust="spacingAndGlyphs" fill="#111">−2</text>
<text x="530.06" y="542.7" font-size="23.5" textLength="20.69" lengthAdjust="spacingAndGlyphs" fill="#111">−1</text>
<text x="594.81" y="542.7" font-size="23.5" textLength="15.99" lengthAdjust="spacingAndGlyphs" fill="#111">0</text>
<text x="659.66" y="542.7" font-size="23.5" textLength="10.38" lengthAdjust="spacingAndGlyphs" fill="#111">1</text>
<text x="720.21" y="542.7" font-size="23.5" textLength="13.38" lengthAdjust="spacingAndGlyphs" fill="#111">2</text>
<text x="782.41" y="542.7" font-size="23.5" textLength="14.38" lengthAdjust="spacingAndGlyphs" fill="#111">3</text>
<text x="574.04" y="585.9" font-size="26.6" textLength="57.53" lengthAdjust="spacingAndGlyphs" fill="#111"><tspan font-style="italic">B</tspan> (T)</text>
<text transform="translate(335.3,347.86) rotate(-90)" font-size="26.6" textLength="55.63" lengthAdjust="spacingAndGlyphs" fill="#111"><tspan font-style="italic">T</tspan> (K)</text>
<text x="431.92" y="166.8" font-size="21.5" textLength="26.87" lengthAdjust="spacingAndGlyphs" fill="#fff" stroke="#c53d3d" stroke-width="0.45">−<tspan font-style="italic">B</tspan></text>
<text x="465.1" y="166.3" font-size="21" font-family='"DejaVu Sans", sans-serif' textLength="16.6" lengthAdjust="spacingAndGlyphs" fill="#fff" stroke="#c53d3d" stroke-width="0.3">→</text>
<text x="487.52" y="166.8" font-size="21.5" textLength="27.26" lengthAdjust="spacingAndGlyphs" fill="#fff" stroke="#c53d3d" stroke-width="0.45">+<tspan font-style="italic">B</tspan></text>
<rect x="456.3" y="102.2" width="294.2" height="16.1" fill="url(#cb)" stroke="#111" stroke-width="1"/>
<line x1="460.7" y1="96.2" x2="460.7" y2="102.2" stroke="#222" stroke-width="1.1"/>
<line x1="510.2" y1="96.2" x2="510.2" y2="102.2" stroke="#222" stroke-width="1.1"/>
<line x1="559.6" y1="96.2" x2="559.6" y2="102.2" stroke="#222" stroke-width="1.1"/>
<line x1="609" y1="96.2" x2="609" y2="102.2" stroke="#222" stroke-width="1.1"/>
<line x1="658.4" y1="96.2" x2="658.4" y2="102.2" stroke="#222" stroke-width="1.1"/>
<line x1="707.8" y1="96.2" x2="707.8" y2="102.2" stroke="#222" stroke-width="1.1"/>
<text x="563.14" y="46.9" font-size="26.6" textLength="85.53" lengthAdjust="spacingAndGlyphs" fill="#111">MR (%)</text>
<text x="441.91" y="82.3" font-size="23.5" textLength="38.29" lengthAdjust="spacingAndGlyphs" fill="#111">−25</text>
<text x="489.91" y="82.3" font-size="23.5" textLength="40.89" lengthAdjust="spacingAndGlyphs" fill="#111">−20</text>
<text x="542.21" y="82.3" font-size="23.5" textLength="35.09" lengthAdjust="spacingAndGlyphs" fill="#111">−15</text>
<text x="590.61" y="82.3" font-size="23.5" textLength="36.59" lengthAdjust="spacingAndGlyphs" fill="#111">−10</text>
<text x="645.91" y="82.3" font-size="23.5" textLength="25.78" lengthAdjust="spacingAndGlyphs" fill="#111">−5</text>
<text x="700.61" y="82.3" font-size="23.5" textLength="14.99" lengthAdjust="spacingAndGlyphs" fill="#111">0</text>
<rect x="927.3" y="495.67" width="372.1" height="6.83" fill="url(#c0)"/>
<rect x="927.3" y="489.54" width="372.1" height="7.33" fill="url(#c1)"/>
<rect x="927.3" y="483.41" width="372.1" height="7.33" fill="url(#c2)"/>
<rect x="927.3" y="477.28" width="372.1" height="7.33" fill="url(#c3)"/>
<rect x="927.3" y="471.16" width="372.1" height="7.33" fill="url(#c4)"/>
<rect x="927.3" y="465.03" width="372.1" height="7.33" fill="url(#c5)"/>
<rect x="927.3" y="458.9" width="372.1" height="7.33" fill="url(#c6)"/>
<rect x="927.3" y="452.78" width="372.1" height="7.33" fill="url(#c7)"/>
<rect x="927.3" y="446.65" width="372.1" height="7.33" fill="url(#c8)"/>
<rect x="927.3" y="440.52" width="372.1" height="7.33" fill="url(#c9)"/>
<rect x="927.3" y="434.4" width="372.1" height="7.33" fill="url(#c10)"/>
<rect x="927.3" y="428.27" width="372.1" height="7.33" fill="url(#c11)"/>
<rect x="927.3" y="422.14" width="372.1" height="7.33" fill="url(#c12)"/>
<rect x="927.3" y="416.01" width="372.1" height="7.33" fill="url(#c13)"/>
<rect x="927.3" y="409.89" width="372.1" height="7.33" fill="url(#c14)"/>
<rect x="927.3" y="403.76" width="372.1" height="7.33" fill="url(#c15)"/>
<rect x="927.3" y="397.63" width="372.1" height="7.33" fill="url(#c16)"/>
<rect x="927.3" y="391.51" width="372.1" height="7.33" fill="url(#c17)"/>
<rect x="927.3" y="385.38" width="372.1" height="7.33" fill="url(#c18)"/>
<rect x="927.3" y="379.25" width="372.1" height="7.33" fill="url(#c19)"/>
<rect x="927.3" y="373.13" width="372.1" height="7.33" fill="url(#c20)"/>
<rect x="927.3" y="367" width="372.1" height="7.33" fill="url(#c21)"/>
<rect x="927.3" y="360.87" width="372.1" height="7.33" fill="url(#c22)"/>
<rect x="927.3" y="354.74" width="372.1" height="7.33" fill="url(#c23)"/>
<rect x="927.3" y="348.62" width="372.1" height="7.33" fill="url(#c24)"/>
<rect x="927.3" y="342.49" width="372.1" height="7.33" fill="url(#c25)"/>
<rect x="927.3" y="336.36" width="372.1" height="7.33" fill="url(#c26)"/>
<rect x="927.3" y="330.24" width="372.1" height="7.33" fill="url(#c27)"/>
<rect x="927.3" y="324.11" width="372.1" height="7.33" fill="url(#c28)"/>
<rect x="927.3" y="317.98" width="372.1" height="7.33" fill="url(#c29)"/>
<rect x="927.3" y="311.85" width="372.1" height="7.33" fill="url(#c30)"/>
<rect x="927.3" y="305.73" width="372.1" height="7.33" fill="url(#c31)"/>
<rect x="927.3" y="299.6" width="372.1" height="7.33" fill="url(#c32)"/>
<rect x="927.3" y="293.47" width="372.1" height="7.33" fill="url(#c33)"/>
<rect x="927.3" y="287.35" width="372.1" height="7.33" fill="url(#c34)"/>
<rect x="927.3" y="281.22" width="372.1" height="7.33" fill="url(#c35)"/>
<rect x="927.3" y="275.09" width="372.1" height="7.33" fill="url(#c36)"/>
<rect x="927.3" y="268.97" width="372.1" height="7.33" fill="url(#c37)"/>
<rect x="927.3" y="262.84" width="372.1" height="7.33" fill="url(#c38)"/>
<rect x="927.3" y="256.71" width="372.1" height="7.33" fill="url(#c39)"/>
<rect x="927.3" y="250.58" width="372.1" height="7.33" fill="url(#c40)"/>
<rect x="927.3" y="244.46" width="372.1" height="7.33" fill="url(#c41)"/>
<rect x="927.3" y="238.33" width="372.1" height="7.33" fill="url(#c42)"/>
<rect x="927.3" y="232.2" width="372.1" height="7.33" fill="url(#c43)"/>
<rect x="927.3" y="226.08" width="372.1" height="7.33" fill="url(#c44)"/>
<rect x="927.3" y="219.95" width="372.1" height="7.33" fill="url(#c45)"/>
<rect x="927.3" y="213.82" width="372.1" height="7.33" fill="url(#c46)"/>
<rect x="927.3" y="207.7" width="372.1" height="7.33" fill="url(#c47)"/>
<rect x="927.3" y="201.57" width="372.1" height="7.33" fill="url(#c48)"/>
<rect x="927.3" y="195.44" width="372.1" height="7.33" fill="url(#c49)"/>
<rect x="927.3" y="189.31" width="372.1" height="7.33" fill="url(#c50)"/>
<rect x="927.3" y="183.19" width="372.1" height="7.33" fill="url(#c51)"/>
<rect x="927.3" y="177.06" width="372.1" height="7.33" fill="url(#c52)"/>
<rect x="927.3" y="170.93" width="372.1" height="7.33" fill="url(#c53)"/>
<rect x="927.3" y="164.81" width="372.1" height="7.33" fill="url(#c54)"/>
<rect x="927.3" y="158.68" width="372.1" height="7.33" fill="url(#c55)"/>
<rect x="927.3" y="152.55" width="372.1" height="7.33" fill="url(#c56)"/>
<rect x="927.3" y="146.43" width="372.1" height="7.33" fill="url(#c57)"/>
<rect x="927.3" y="140.3" width="372.1" height="7.33" fill="url(#c58)"/>
<rect x="927.3" y="134.17" width="372.1" height="7.33" fill="url(#c59)"/>
<rect x="927.3" y="130.3" width="372.1" height="5.07" fill="url(#c60)"/>
<rect x="927.3" y="130.3" width="372.1" height="372.2" fill="none" stroke="#222" stroke-width="1.1"/>
<line x1="914.1" y1="502.5" x2="927.3" y2="502.5" stroke="#222" stroke-width="1.1"/>
<line x1="919.7" y1="491.07" x2="927.3" y2="491.07" stroke="#444" stroke-width="1.1"/>
<line x1="919.7" y1="478.73" x2="927.3" y2="478.73" stroke="#444" stroke-width="1.1"/>
<line x1="919.7" y1="466.4" x2="927.3" y2="466.4" stroke="#444" stroke-width="1.1"/>
<line x1="919.7" y1="454.07" x2="927.3" y2="454.07" stroke="#444" stroke-width="1.1"/>
<line x1="914.1" y1="441.73" x2="927.3" y2="441.73" stroke="#222" stroke-width="1.1"/>
<line x1="919.7" y1="429.4" x2="927.3" y2="429.4" stroke="#444" stroke-width="1.1"/>
<line x1="919.7" y1="417.07" x2="927.3" y2="417.07" stroke="#444" stroke-width="1.1"/>
<line x1="919.7" y1="404.74" x2="927.3" y2="404.74" stroke="#444" stroke-width="1.1"/>
<line x1="919.7" y1="392.4" x2="927.3" y2="392.4" stroke="#444" stroke-width="1.1"/>
<line x1="914.1" y1="380.07" x2="927.3" y2="380.07" stroke="#222" stroke-width="1.1"/>
<line x1="919.7" y1="367.74" x2="927.3" y2="367.74" stroke="#444" stroke-width="1.1"/>
<line x1="919.7" y1="355.4" x2="927.3" y2="355.4" stroke="#444" stroke-width="1.1"/>
<line x1="919.7" y1="343.07" x2="927.3" y2="343.07" stroke="#444" stroke-width="1.1"/>
<line x1="919.7" y1="330.74" x2="927.3" y2="330.74" stroke="#444" stroke-width="1.1"/>
<line x1="914.1" y1="318.4" x2="927.3" y2="318.4" stroke="#222" stroke-width="1.1"/>
<line x1="919.7" y1="306.07" x2="927.3" y2="306.07" stroke="#444" stroke-width="1.1"/>
<line x1="919.7" y1="293.74" x2="927.3" y2="293.74" stroke="#444" stroke-width="1.1"/>
<line x1="919.7" y1="281.41" x2="927.3" y2="281.41" stroke="#444" stroke-width="1.1"/>
<line x1="919.7" y1="269.07" x2="927.3" y2="269.07" stroke="#444" stroke-width="1.1"/>
<line x1="914.1" y1="256.74" x2="927.3" y2="256.74" stroke="#222" stroke-width="1.1"/>
<line x1="919.7" y1="244.41" x2="927.3" y2="244.41" stroke="#444" stroke-width="1.1"/>
<line x1="919.7" y1="232.07" x2="927.3" y2="232.07" stroke="#444" stroke-width="1.1"/>
<line x1="919.7" y1="219.74" x2="927.3" y2="219.74" stroke="#444" stroke-width="1.1"/>
<line x1="919.7" y1="207.41" x2="927.3" y2="207.41" stroke="#444" stroke-width="1.1"/>
<line x1="914.1" y1="195.07" x2="927.3" y2="195.07" stroke="#222" stroke-width="1.1"/>
<line x1="919.7" y1="182.74" x2="927.3" y2="182.74" stroke="#444" stroke-width="1.1"/>
<line x1="919.7" y1="170.41" x2="927.3" y2="170.41" stroke="#444" stroke-width="1.1"/>
<line x1="919.7" y1="158.08" x2="927.3" y2="158.08" stroke="#444" stroke-width="1.1"/>
<line x1="919.7" y1="145.74" x2="927.3" y2="145.74" stroke="#444" stroke-width="1.1"/>
<line x1="914.1" y1="133.41" x2="927.3" y2="133.41" stroke="#222" stroke-width="1.1"/>
<line x1="926.65" y1="502.5" x2="926.65" y2="516" stroke="#222" stroke-width="1.1"/>
<line x1="939.06" y1="502.5" x2="939.06" y2="511" stroke="#444" stroke-width="1.1"/>
<line x1="951.47" y1="502.5" x2="951.47" y2="511" stroke="#444" stroke-width="1.1"/>
<line x1="963.88" y1="502.5" x2="963.88" y2="511" stroke="#444" stroke-width="1.1"/>
<line x1="976.29" y1="502.5" x2="976.29" y2="511" stroke="#444" stroke-width="1.1"/>
<line x1="988.7" y1="502.5" x2="988.7" y2="516" stroke="#222" stroke-width="1.1"/>
<line x1="1001.11" y1="502.5" x2="1001.11" y2="511" stroke="#444" stroke-width="1.1"/>
<line x1="1013.52" y1="502.5" x2="1013.52" y2="511" stroke="#444" stroke-width="1.1"/>
<line x1="1025.93" y1="502.5" x2="1025.93" y2="511" stroke="#444" stroke-width="1.1"/>
<line x1="1038.34" y1="502.5" x2="1038.34" y2="511" stroke="#444" stroke-width="1.1"/>
<line x1="1050.75" y1="502.5" x2="1050.75" y2="516" stroke="#222" stroke-width="1.1"/>
<line x1="1063.16" y1="502.5" x2="1063.16" y2="511" stroke="#444" stroke-width="1.1"/>
<line x1="1075.57" y1="502.5" x2="1075.57" y2="511" stroke="#444" stroke-width="1.1"/>
<line x1="1087.98" y1="502.5" x2="1087.98" y2="511" stroke="#444" stroke-width="1.1"/>
<line x1="1100.39" y1="502.5" x2="1100.39" y2="511" stroke="#444" stroke-width="1.1"/>
<line x1="1112.8" y1="502.5" x2="1112.8" y2="516" stroke="#222" stroke-width="1.1"/>
<line x1="1125.21" y1="502.5" x2="1125.21" y2="511" stroke="#444" stroke-width="1.1"/>
<line x1="1137.62" y1="502.5" x2="1137.62" y2="511" stroke="#444" stroke-width="1.1"/>
<line x1="1150.03" y1="502.5" x2="1150.03" y2="511" stroke="#444" stroke-width="1.1"/>
<line x1="1162.44" y1="502.5" x2="1162.44" y2="511" stroke="#444" stroke-width="1.1"/>
<line x1="1174.85" y1="502.5" x2="1174.85" y2="516" stroke="#222" stroke-width="1.1"/>
<line x1="1187.26" y1="502.5" x2="1187.26" y2="511" stroke="#444" stroke-width="1.1"/>
<line x1="1199.67" y1="502.5" x2="1199.67" y2="511" stroke="#444" stroke-width="1.1"/>
<line x1="1212.08" y1="502.5" x2="1212.08" y2="511" stroke="#444" stroke-width="1.1"/>
<line x1="1224.49" y1="502.5" x2="1224.49" y2="511" stroke="#444" stroke-width="1.1"/>
<line x1="1236.9" y1="502.5" x2="1236.9" y2="516" stroke="#222" stroke-width="1.1"/>
<line x1="1249.31" y1="502.5" x2="1249.31" y2="511" stroke="#444" stroke-width="1.1"/>
<line x1="1261.72" y1="502.5" x2="1261.72" y2="511" stroke="#444" stroke-width="1.1"/>
<line x1="1274.13" y1="502.5" x2="1274.13" y2="511" stroke="#444" stroke-width="1.1"/>
<line x1="1286.54" y1="502.5" x2="1286.54" y2="511" stroke="#444" stroke-width="1.1"/>
<line x1="1299.4" y1="502.5" x2="1299.4" y2="516" stroke="#222" stroke-width="1.1"/>
<text x="860.31" y="143.01" font-size="23.5" textLength="46.09" lengthAdjust="spacingAndGlyphs" fill="#111">300</text>
<text x="862.81" y="204.67" font-size="23.5" textLength="43.59" lengthAdjust="spacingAndGlyphs" fill="#111">250</text>
<text x="860.51" y="266.34" font-size="23.5" textLength="45.88" lengthAdjust="spacingAndGlyphs" fill="#111">200</text>
<text x="866.61" y="328" font-size="23.5" textLength="39.79" lengthAdjust="spacingAndGlyphs" fill="#111">150</text>
<text x="864.31" y="389.67" font-size="23.5" textLength="42.09" lengthAdjust="spacingAndGlyphs" fill="#111">100</text>
<text x="876.51" y="451.33" font-size="23.5" textLength="29.88" lengthAdjust="spacingAndGlyphs" fill="#111">50</text>
<text x="890.41" y="512.3" font-size="23.5" textLength="15.99" lengthAdjust="spacingAndGlyphs" fill="#111">0</text>
<text x="912.46" y="542.7" font-size="23.5" textLength="26.38" lengthAdjust="spacingAndGlyphs" fill="#111">−3</text>
<text x="976.41" y="542.7" font-size="23.5" textLength="25.38" lengthAdjust="spacingAndGlyphs" fill="#111">−2</text>
<text x="1040.06" y="542.7" font-size="23.5" textLength="20.69" lengthAdjust="spacingAndGlyphs" fill="#111">−1</text>
<text x="1104.81" y="542.7" font-size="23.5" textLength="15.99" lengthAdjust="spacingAndGlyphs" fill="#111">0</text>
<text x="1169.66" y="542.7" font-size="23.5" textLength="10.39" lengthAdjust="spacingAndGlyphs" fill="#111">1</text>
<text x="1230.21" y="542.7" font-size="23.5" textLength="13.39" lengthAdjust="spacingAndGlyphs" fill="#111">2</text>
<text x="1292.41" y="542.7" font-size="23.5" textLength="14.39" lengthAdjust="spacingAndGlyphs" fill="#111">3</text>
<text x="1084.04" y="585.9" font-size="26.6" textLength="57.53" lengthAdjust="spacingAndGlyphs" fill="#111"><tspan font-style="italic">B</tspan> (T)</text>
<text transform="translate(845.3,347.86) rotate(-90)" font-size="26.6" textLength="55.63" lengthAdjust="spacingAndGlyphs" fill="#111"><tspan font-style="italic">T</tspan> (K)</text>
<text x="947.82" y="166.8" font-size="21.5" textLength="26.87" lengthAdjust="spacingAndGlyphs" fill="#fff" stroke="#c53d3d" stroke-width="0.45">−<tspan font-style="italic">B</tspan></text>
<text x="981" y="166.3" font-size="21" font-family='"DejaVu Sans", sans-serif' textLength="16.6" lengthAdjust="spacingAndGlyphs" fill="#fff" stroke="#c53d3d" stroke-width="0.3">→</text>
<text x="1003.42" y="166.8" font-size="21.5" textLength="27.26" lengthAdjust="spacingAndGlyphs" fill="#fff" stroke="#c53d3d" stroke-width="0.45">+<tspan font-style="italic">B</tspan></text>
<rect x="966.3" y="102.2" width="294.2" height="16.1" fill="url(#cb)" stroke="#111" stroke-width="1"/>
<line x1="970.7" y1="96.2" x2="970.7" y2="102.2" stroke="#222" stroke-width="1.1"/>
<line x1="1020.2" y1="96.2" x2="1020.2" y2="102.2" stroke="#222" stroke-width="1.1"/>
<line x1="1069.6" y1="96.2" x2="1069.6" y2="102.2" stroke="#222" stroke-width="1.1"/>
<line x1="1119" y1="96.2" x2="1119" y2="102.2" stroke="#222" stroke-width="1.1"/>
<line x1="1168.4" y1="96.2" x2="1168.4" y2="102.2" stroke="#222" stroke-width="1.1"/>
<line x1="1217.8" y1="96.2" x2="1217.8" y2="102.2" stroke="#222" stroke-width="1.1"/>
<text x="1073.14" y="46.9" font-size="26.6" textLength="85.53" lengthAdjust="spacingAndGlyphs" fill="#111">MR (%)</text>
<text x="951.91" y="82.3" font-size="23.5" textLength="38.28" lengthAdjust="spacingAndGlyphs" fill="#111">−25</text>
<text x="999.91" y="82.3" font-size="23.5" textLength="40.88" lengthAdjust="spacingAndGlyphs" fill="#111">−20</text>
<text x="1052.21" y="82.3" font-size="23.5" textLength="35.09" lengthAdjust="spacingAndGlyphs" fill="#111">−15</text>
<text x="1100.61" y="82.3" font-size="23.5" textLength="36.59" lengthAdjust="spacingAndGlyphs" fill="#111">−10</text>
<text x="1155.91" y="82.3" font-size="23.5" textLength="25.79" lengthAdjust="spacingAndGlyphs" fill="#111">−5</text>
<text x="1210.61" y="82.3" font-size="23.5" textLength="14.98" lengthAdjust="spacingAndGlyphs" fill="#111">0</text>
<rect x="1443.7" y="495.67" width="373.3" height="6.83" fill="url(#d0)"/>
<rect x="1443.7" y="489.54" width="373.3" height="7.33" fill="url(#d1)"/>
<rect x="1443.7" y="483.41" width="373.3" height="7.33" fill="url(#d2)"/>
<rect x="1443.7" y="477.28" width="373.3" height="7.33" fill="url(#d3)"/>
<rect x="1443.7" y="471.16" width="373.3" height="7.33" fill="url(#d4)"/>
<rect x="1443.7" y="465.03" width="373.3" height="7.33" fill="url(#d5)"/>
<rect x="1443.7" y="458.9" width="373.3" height="7.33" fill="url(#d6)"/>
<rect x="1443.7" y="452.78" width="373.3" height="7.33" fill="url(#d7)"/>
<rect x="1443.7" y="446.65" width="373.3" height="7.33" fill="url(#d8)"/>
<rect x="1443.7" y="440.52" width="373.3" height="7.33" fill="url(#d9)"/>
<rect x="1443.7" y="434.4" width="373.3" height="7.33" fill="url(#d10)"/>
<rect x="1443.7" y="428.27" width="373.3" height="7.33" fill="url(#d11)"/>
<rect x="1443.7" y="422.14" width="373.3" height="7.33" fill="url(#d12)"/>
<rect x="1443.7" y="416.01" width="373.3" height="7.33" fill="url(#d13)"/>
<rect x="1443.7" y="409.89" width="373.3" height="7.33" fill="url(#d14)"/>
<rect x="1443.7" y="403.76" width="373.3" height="7.33" fill="url(#d15)"/>
<rect x="1443.7" y="397.63" width="373.3" height="7.33" fill="url(#d16)"/>
<rect x="1443.7" y="391.51" width="373.3" height="7.33" fill="url(#d17)"/>
<rect x="1443.7" y="385.38" width="373.3" height="7.33" fill="url(#d18)"/>
<rect x="1443.7" y="379.25" width="373.3" height="7.33" fill="url(#d19)"/>
<rect x="1443.7" y="373.13" width="373.3" height="7.33" fill="url(#d20)"/>
<rect x="1443.7" y="367" width="373.3" height="7.33" fill="url(#d21)"/>
<rect x="1443.7" y="360.87" width="373.3" height="7.33" fill="url(#d22)"/>
<rect x="1443.7" y="354.74" width="373.3" height="7.33" fill="url(#d23)"/>
<rect x="1443.7" y="348.62" width="373.3" height="7.33" fill="url(#d24)"/>
<rect x="1443.7" y="342.49" width="373.3" height="7.33" fill="url(#d25)"/>
<rect x="1443.7" y="336.36" width="373.3" height="7.33" fill="url(#d26)"/>
<rect x="1443.7" y="330.24" width="373.3" height="7.33" fill="url(#d27)"/>
<rect x="1443.7" y="324.11" width="373.3" height="7.33" fill="url(#d28)"/>
<rect x="1443.7" y="317.98" width="373.3" height="7.33" fill="url(#d29)"/>
<rect x="1443.7" y="311.85" width="373.3" height="7.33" fill="url(#d30)"/>
<rect x="1443.7" y="305.73" width="373.3" height="7.33" fill="url(#d31)"/>
<rect x="1443.7" y="299.6" width="373.3" height="7.33" fill="url(#d32)"/>
<rect x="1443.7" y="293.47" width="373.3" height="7.33" fill="url(#d33)"/>
<rect x="1443.7" y="287.35" width="373.3" height="7.33" fill="url(#d34)"/>
<rect x="1443.7" y="281.22" width="373.3" height="7.33" fill="url(#d35)"/>
<rect x="1443.7" y="275.09" width="373.3" height="7.33" fill="url(#d36)"/>
<rect x="1443.7" y="268.97" width="373.3" height="7.33" fill="url(#d37)"/>
<rect x="1443.7" y="262.84" width="373.3" height="7.33" fill="url(#d38)"/>
<rect x="1443.7" y="256.71" width="373.3" height="7.33" fill="url(#d39)"/>
<rect x="1443.7" y="250.58" width="373.3" height="7.33" fill="url(#d40)"/>
<rect x="1443.7" y="244.46" width="373.3" height="7.33" fill="url(#d41)"/>
<rect x="1443.7" y="238.33" width="373.3" height="7.33" fill="url(#d42)"/>
<rect x="1443.7" y="232.2" width="373.3" height="7.33" fill="url(#d43)"/>
<rect x="1443.7" y="226.08" width="373.3" height="7.33" fill="url(#d44)"/>
<rect x="1443.7" y="219.95" width="373.3" height="7.33" fill="url(#d45)"/>
<rect x="1443.7" y="213.82" width="373.3" height="7.33" fill="url(#d46)"/>
<rect x="1443.7" y="207.7" width="373.3" height="7.33" fill="url(#d47)"/>
<rect x="1443.7" y="201.57" width="373.3" height="7.33" fill="url(#d48)"/>
<rect x="1443.7" y="195.44" width="373.3" height="7.33" fill="url(#d49)"/>
<rect x="1443.7" y="189.31" width="373.3" height="7.33" fill="url(#d50)"/>
<rect x="1443.7" y="183.19" width="373.3" height="7.33" fill="url(#d51)"/>
<rect x="1443.7" y="177.06" width="373.3" height="7.33" fill="url(#d52)"/>
<rect x="1443.7" y="170.93" width="373.3" height="7.33" fill="url(#d53)"/>
<rect x="1443.7" y="164.81" width="373.3" height="7.33" fill="url(#d54)"/>
<rect x="1443.7" y="158.68" width="373.3" height="7.33" fill="url(#d55)"/>
<rect x="1443.7" y="152.55" width="373.3" height="7.33" fill="url(#d56)"/>
<rect x="1443.7" y="146.43" width="373.3" height="7.33" fill="url(#d57)"/>
<rect x="1443.7" y="140.3" width="373.3" height="7.33" fill="url(#d58)"/>
<rect x="1443.7" y="134.17" width="373.3" height="7.33" fill="url(#d59)"/>
<rect x="1443.7" y="130.3" width="373.3" height="5.07" fill="url(#d60)"/>
<rect x="1443.7" y="130.3" width="373.3" height="372.2" fill="none" stroke="#444" stroke-width="1.1"/>
<line x1="1430.5" y1="502.5" x2="1443.7" y2="502.5" stroke="#222" stroke-width="1.1"/>
<line x1="1436.1" y1="491.07" x2="1443.7" y2="491.07" stroke="#444" stroke-width="1.1"/>
<line x1="1436.1" y1="478.73" x2="1443.7" y2="478.73" stroke="#444" stroke-width="1.1"/>
<line x1="1436.1" y1="466.4" x2="1443.7" y2="466.4" stroke="#444" stroke-width="1.1"/>
<line x1="1436.1" y1="454.07" x2="1443.7" y2="454.07" stroke="#444" stroke-width="1.1"/>
<line x1="1430.5" y1="441.73" x2="1443.7" y2="441.73" stroke="#222" stroke-width="1.1"/>
<line x1="1436.1" y1="429.4" x2="1443.7" y2="429.4" stroke="#444" stroke-width="1.1"/>
<line x1="1436.1" y1="417.07" x2="1443.7" y2="417.07" stroke="#444" stroke-width="1.1"/>
<line x1="1436.1" y1="404.74" x2="1443.7" y2="404.74" stroke="#444" stroke-width="1.1"/>
<line x1="1436.1" y1="392.4" x2="1443.7" y2="392.4" stroke="#444" stroke-width="1.1"/>
<line x1="1430.5" y1="380.07" x2="1443.7" y2="380.07" stroke="#222" stroke-width="1.1"/>
<line x1="1436.1" y1="367.74" x2="1443.7" y2="367.74" stroke="#444" stroke-width="1.1"/>
<line x1="1436.1" y1="355.4" x2="1443.7" y2="355.4" stroke="#444" stroke-width="1.1"/>
<line x1="1436.1" y1="343.07" x2="1443.7" y2="343.07" stroke="#444" stroke-width="1.1"/>
<line x1="1436.1" y1="330.74" x2="1443.7" y2="330.74" stroke="#444" stroke-width="1.1"/>
<line x1="1430.5" y1="318.4" x2="1443.7" y2="318.4" stroke="#222" stroke-width="1.1"/>
<line x1="1436.1" y1="306.07" x2="1443.7" y2="306.07" stroke="#444" stroke-width="1.1"/>
<line x1="1436.1" y1="293.74" x2="1443.7" y2="293.74" stroke="#444" stroke-width="1.1"/>
<line x1="1436.1" y1="281.41" x2="1443.7" y2="281.41" stroke="#444" stroke-width="1.1"/>
<line x1="1436.1" y1="269.07" x2="1443.7" y2="269.07" stroke="#444" stroke-width="1.1"/>
<line x1="1430.5" y1="256.74" x2="1443.7" y2="256.74" stroke="#222" stroke-width="1.1"/>
<line x1="1436.1" y1="244.41" x2="1443.7" y2="244.41" stroke="#444" stroke-width="1.1"/>
<line x1="1436.1" y1="232.07" x2="1443.7" y2="232.07" stroke="#444" stroke-width="1.1"/>
<line x1="1436.1" y1="219.74" x2="1443.7" y2="219.74" stroke="#444" stroke-width="1.1"/>
<line x1="1436.1" y1="207.41" x2="1443.7" y2="207.41" stroke="#444" stroke-width="1.1"/>
<line x1="1430.5" y1="195.07" x2="1443.7" y2="195.07" stroke="#222" stroke-width="1.1"/>
<line x1="1436.1" y1="182.74" x2="1443.7" y2="182.74" stroke="#444" stroke-width="1.1"/>
<line x1="1436.1" y1="170.41" x2="1443.7" y2="170.41" stroke="#444" stroke-width="1.1"/>
<line x1="1436.1" y1="158.08" x2="1443.7" y2="158.08" stroke="#444" stroke-width="1.1"/>
<line x1="1436.1" y1="145.74" x2="1443.7" y2="145.74" stroke="#444" stroke-width="1.1"/>
<line x1="1430.5" y1="133.41" x2="1443.7" y2="133.41" stroke="#222" stroke-width="1.1"/>
<line x1="1442.9" y1="502.5" x2="1442.9" y2="516" stroke="#222" stroke-width="1.1"/>
<line x1="1455.3" y1="502.5" x2="1455.3" y2="511" stroke="#444" stroke-width="1.1"/>
<line x1="1467.7" y1="502.5" x2="1467.7" y2="511" stroke="#444" stroke-width="1.1"/>
<line x1="1480.1" y1="502.5" x2="1480.1" y2="511" stroke="#444" stroke-width="1.1"/>
<line x1="1492.5" y1="502.5" x2="1492.5" y2="511" stroke="#444" stroke-width="1.1"/>
<line x1="1504.9" y1="502.5" x2="1504.9" y2="516" stroke="#222" stroke-width="1.1"/>
<line x1="1517.3" y1="502.5" x2="1517.3" y2="511" stroke="#444" stroke-width="1.1"/>
<line x1="1529.7" y1="502.5" x2="1529.7" y2="511" stroke="#444" stroke-width="1.1"/>
<line x1="1542.1" y1="502.5" x2="1542.1" y2="511" stroke="#444" stroke-width="1.1"/>
<line x1="1554.5" y1="502.5" x2="1554.5" y2="511" stroke="#444" stroke-width="1.1"/>
<line x1="1566.9" y1="502.5" x2="1566.9" y2="516" stroke="#222" stroke-width="1.1"/>
<line x1="1579.3" y1="502.5" x2="1579.3" y2="511" stroke="#444" stroke-width="1.1"/>
<line x1="1591.7" y1="502.5" x2="1591.7" y2="511" stroke="#444" stroke-width="1.1"/>
<line x1="1604.1" y1="502.5" x2="1604.1" y2="511" stroke="#444" stroke-width="1.1"/>
<line x1="1616.5" y1="502.5" x2="1616.5" y2="511" stroke="#444" stroke-width="1.1"/>
<line x1="1628.9" y1="502.5" x2="1628.9" y2="516" stroke="#222" stroke-width="1.1"/>
<line x1="1641.3" y1="502.5" x2="1641.3" y2="511" stroke="#444" stroke-width="1.1"/>
<line x1="1653.7" y1="502.5" x2="1653.7" y2="511" stroke="#444" stroke-width="1.1"/>
<line x1="1666.1" y1="502.5" x2="1666.1" y2="511" stroke="#444" stroke-width="1.1"/>
<line x1="1678.5" y1="502.5" x2="1678.5" y2="511" stroke="#444" stroke-width="1.1"/>
<line x1="1690.9" y1="502.5" x2="1690.9" y2="516" stroke="#222" stroke-width="1.1"/>
<line x1="1703.3" y1="502.5" x2="1703.3" y2="511" stroke="#444" stroke-width="1.1"/>
<line x1="1715.7" y1="502.5" x2="1715.7" y2="511" stroke="#444" stroke-width="1.1"/>
<line x1="1728.1" y1="502.5" x2="1728.1" y2="511" stroke="#444" stroke-width="1.1"/>
<line x1="1740.5" y1="502.5" x2="1740.5" y2="511" stroke="#444" stroke-width="1.1"/>
<line x1="1752.9" y1="502.5" x2="1752.9" y2="516" stroke="#222" stroke-width="1.1"/>
<line x1="1765.3" y1="502.5" x2="1765.3" y2="511" stroke="#444" stroke-width="1.1"/>
<line x1="1777.7" y1="502.5" x2="1777.7" y2="511" stroke="#444" stroke-width="1.1"/>
<line x1="1790.1" y1="502.5" x2="1790.1" y2="511" stroke="#444" stroke-width="1.1"/>
<line x1="1802.5" y1="502.5" x2="1802.5" y2="511" stroke="#444" stroke-width="1.1"/>
<line x1="1817" y1="502.5" x2="1817" y2="516" stroke="#222" stroke-width="1.1"/>
<text x="1375.61" y="143.01" font-size="23.5" textLength="46.09" lengthAdjust="spacingAndGlyphs" fill="#111">300</text>
<text x="1378.11" y="204.67" font-size="23.5" textLength="43.59" lengthAdjust="spacingAndGlyphs" fill="#111">250</text>
<text x="1375.81" y="266.34" font-size="23.5" textLength="45.88" lengthAdjust="spacingAndGlyphs" fill="#111">200</text>
<text x="1381.91" y="328" font-size="23.5" textLength="39.79" lengthAdjust="spacingAndGlyphs" fill="#111">150</text>
<text x="1379.61" y="389.67" font-size="23.5" textLength="42.09" lengthAdjust="spacingAndGlyphs" fill="#111">100</text>
<text x="1391.81" y="451.33" font-size="23.5" textLength="29.88" lengthAdjust="spacingAndGlyphs" fill="#111">50</text>
<text x="1405.71" y="512.3" font-size="23.5" textLength="15.99" lengthAdjust="spacingAndGlyphs" fill="#111">0</text>
<text x="1428.71" y="542.7" font-size="23.5" textLength="26.39" lengthAdjust="spacingAndGlyphs" fill="#111">−3</text>
<text x="1492.61" y="542.7" font-size="23.5" textLength="25.38" lengthAdjust="spacingAndGlyphs" fill="#111">−2</text>
<text x="1556.21" y="542.7" font-size="23.5" textLength="20.69" lengthAdjust="spacingAndGlyphs" fill="#111">−1</text>
<text x="1620.91" y="542.7" font-size="23.5" textLength="15.99" lengthAdjust="spacingAndGlyphs" fill="#111">0</text>
<text x="1685.71" y="542.7" font-size="23.5" textLength="10.39" lengthAdjust="spacingAndGlyphs" fill="#111">1</text>
<text x="1746.21" y="542.7" font-size="23.5" textLength="13.39" lengthAdjust="spacingAndGlyphs" fill="#111">2</text>
<text x="1810.01" y="542.7" font-size="23.5" textLength="14.39" lengthAdjust="spacingAndGlyphs" fill="#111">3</text>
<text x="1600.14" y="585.9" font-size="26.6" textLength="57.53" lengthAdjust="spacingAndGlyphs" fill="#111"><tspan font-style="italic">B</tspan> (T)</text>
<text transform="translate(1357.2,343.86) rotate(-90)" font-size="26.6" textLength="56.73" lengthAdjust="spacingAndGlyphs" fill="#111"><tspan font-style="italic">T</tspan> (K)</text>
<rect x="1472" y="101.1" width="317.6" height="16.3" fill="url(#cb)" stroke="#111" stroke-width="1"/>
<line x1="1550.42" y1="94.4" x2="1550.42" y2="101.1" stroke="#222" stroke-width="1.1"/>
<line x1="1631.9" y1="94.4" x2="1631.9" y2="101.1" stroke="#222" stroke-width="1.1"/>
<line x1="1713.38" y1="94.4" x2="1713.38" y2="101.1" stroke="#222" stroke-width="1.1"/>
<line x1="1489.31" y1="97.7" x2="1489.31" y2="101.1" stroke="#333" stroke-width="1"/>
<line x1="1509.68" y1="97.7" x2="1509.68" y2="101.1" stroke="#333" stroke-width="1"/>
<line x1="1530.05" y1="97.7" x2="1530.05" y2="101.1" stroke="#333" stroke-width="1"/>
<line x1="1570.79" y1="97.7" x2="1570.79" y2="101.1" stroke="#333" stroke-width="1"/>
<line x1="1591.16" y1="97.7" x2="1591.16" y2="101.1" stroke="#333" stroke-width="1"/>
<line x1="1611.53" y1="97.7" x2="1611.53" y2="101.1" stroke="#333" stroke-width="1"/>
<line x1="1652.27" y1="97.7" x2="1652.27" y2="101.1" stroke="#333" stroke-width="1"/>
<line x1="1672.64" y1="97.7" x2="1672.64" y2="101.1" stroke="#333" stroke-width="1"/>
<line x1="1693.01" y1="97.7" x2="1693.01" y2="101.1" stroke="#333" stroke-width="1"/>
<line x1="1733.75" y1="97.7" x2="1733.75" y2="101.1" stroke="#333" stroke-width="1"/>
<line x1="1754.12" y1="97.7" x2="1754.12" y2="101.1" stroke="#333" stroke-width="1"/>
<line x1="1774.49" y1="97.7" x2="1774.49" y2="101.1" stroke="#333" stroke-width="1"/>
<text x="1579.74" y="43" font-size="26.6" textLength="105.33" lengthAdjust="spacingAndGlyphs" fill="#111">ΔMR (%)</text>
<text x="1537.21" y="82.3" font-size="23.5" textLength="27.09" lengthAdjust="spacingAndGlyphs" fill="#111">−4</text>
<text x="1624.11" y="82.3" font-size="23.5" textLength="15.48" lengthAdjust="spacingAndGlyphs" fill="#111">0</text>
<text x="1707.01" y="82.3" font-size="23.5" textLength="14.59" lengthAdjust="spacingAndGlyphs" fill="#111">4</text>
</svg>
</body></html>
